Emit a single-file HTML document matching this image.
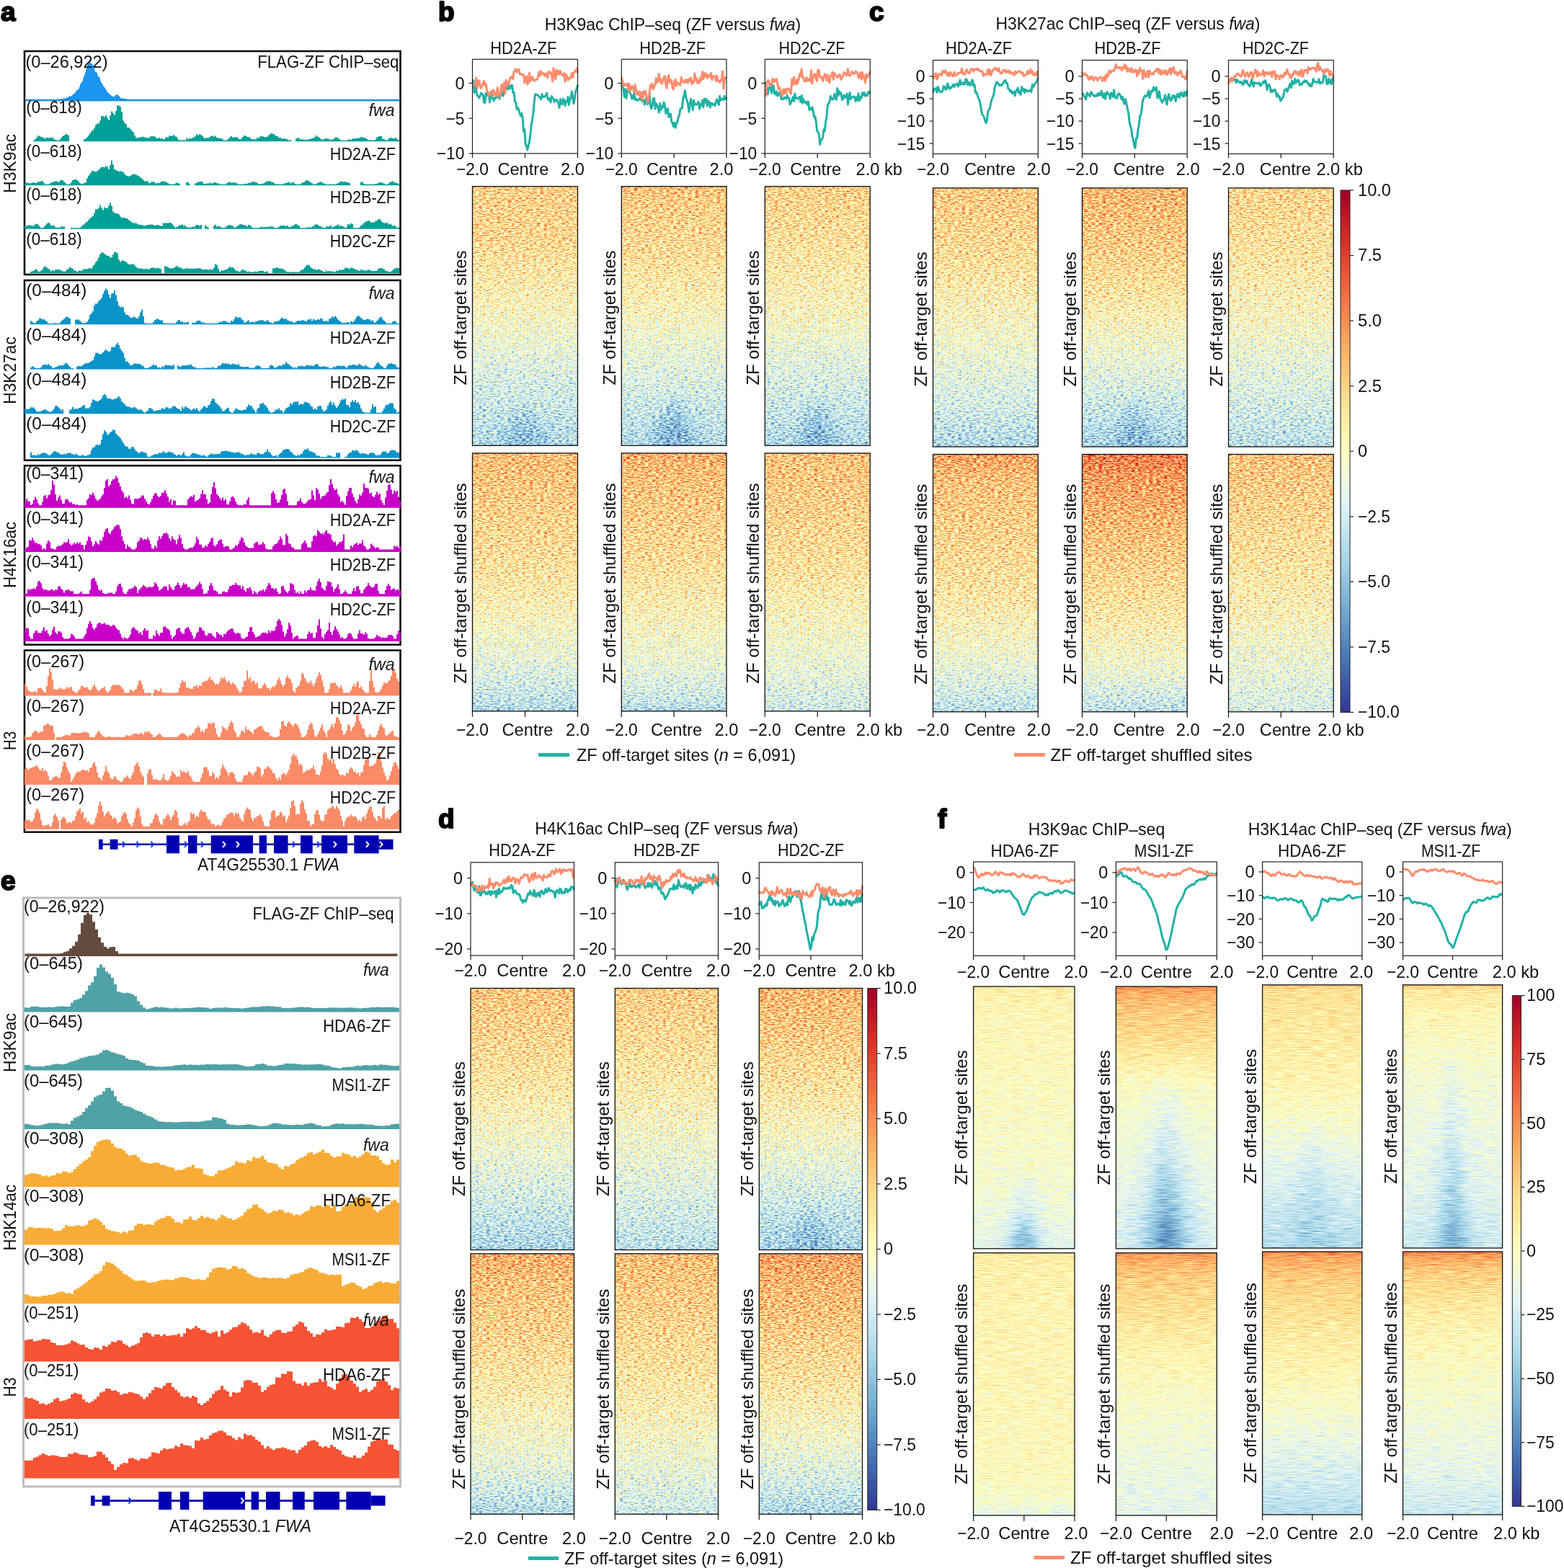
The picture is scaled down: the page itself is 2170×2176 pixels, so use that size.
<!DOCTYPE html>
<html><head><meta charset="utf-8"><title>Figure</title>
<style>html,body{margin:0;padding:0;background:#fff;}svg{display:block;}text{font-family:'Liberation Sans', Arial, sans-serif;}</style>
</head><body><svg width="2170" height="2176" viewBox="0 0 2170 2176" font-family="'Liberation Sans', Arial, sans-serif" fill="#111"><defs><filter id="hmA" x="0" y="0" width="1" height="1" color-interpolation-filters="sRGB">
<feTurbulence type="fractalNoise" baseFrequency="0.2 0.6" numOctaves="2" seed="3" result="n"/>
<feColorMatrix in="n" type="matrix" values="1 0 0 0 0 1 0 0 0 0 1 0 0 0 0 0 0 0 0 1" result="nn"/>
<feComposite in="SourceGraphic" in2="nn" operator="arithmetic" k1="0" k2="1" k3="0.72" k4="-0.360" result="v"/>
<feComponentTransfer in="v"><feFuncR type="table" tableValues="0.192 0.271 0.455 0.671 0.878 1.000 0.996 0.992 0.957 0.843 0.647"/><feFuncG type="table" tableValues="0.212 0.459 0.678 0.851 0.953 1.000 0.878 0.682 0.427 0.188 0.000"/><feFuncB type="table" tableValues="0.584 0.706 0.820 0.914 0.973 0.749 0.565 0.380 0.263 0.153 0.149"/><feFuncA type="linear" slope="0" intercept="1"/></feComponentTransfer>
</filter><filter id="hmF" x="0" y="0" width="1" height="1" color-interpolation-filters="sRGB">
<feTurbulence type="fractalNoise" baseFrequency="0.05 0.9" numOctaves="2" seed="5" result="n"/>
<feColorMatrix in="n" type="matrix" values="1 0 0 0 0 1 0 0 0 0 1 0 0 0 0 0 0 0 0 1" result="nn"/>
<feComposite in="SourceGraphic" in2="nn" operator="arithmetic" k1="0" k2="1" k3="0.32" k4="-0.160" result="v"/>
<feComponentTransfer in="v"><feFuncR type="table" tableValues="0.192 0.271 0.455 0.671 0.878 1.000 0.996 0.992 0.957 0.843 0.647"/><feFuncG type="table" tableValues="0.212 0.459 0.678 0.851 0.953 1.000 0.878 0.682 0.427 0.188 0.000"/><feFuncB type="table" tableValues="0.584 0.706 0.820 0.914 0.973 0.749 0.565 0.380 0.263 0.153 0.149"/><feFuncA type="linear" slope="0" intercept="1"/></feComponentTransfer>
</filter><filter id="blur6" x="-50%" y="-50%" width="200%" height="200%"><feGaussianBlur stdDeviation="6"/></filter><filter id="blur3" x="-50%" y="-50%" width="200%" height="200%"><feGaussianBlur stdDeviation="3"/></filter><filter id="blur4" x="-50%" y="-50%" width="200%" height="200%"><feGaussianBlur stdDeviation="4"/></filter><filter id="blur6" x="-50%" y="-50%" width="200%" height="200%"><feGaussianBlur stdDeviation="6"/></filter><filter id="blur8" x="-50%" y="-50%" width="200%" height="200%"><feGaussianBlur stdDeviation="8"/></filter><filter id="blur10" x="-50%" y="-50%" width="200%" height="200%"><feGaussianBlur stdDeviation="10"/></filter><filter id="blur14" x="-50%" y="-50%" width="200%" height="200%"><feGaussianBlur stdDeviation="14"/></filter><linearGradient id="hg1" x1="0" y1="0" x2="0" y2="1"><stop offset="0.000" stop-color="rgb(158,158,158)"/><stop offset="0.200" stop-color="rgb(154,154,154)"/><stop offset="0.300" stop-color="rgb(145,145,145)"/><stop offset="0.500" stop-color="rgb(129,129,129)"/><stop offset="0.700" stop-color="rgb(105,105,105)"/><stop offset="0.850" stop-color="rgb(93,93,93)"/><stop offset="1.000" stop-color="rgb(80,80,80)"/></linearGradient><clipPath id="hc1"><rect x="655.5" y="258.7" width="146.0" height="359.59999999999997"/></clipPath><linearGradient id="hg2" x1="0" y1="0" x2="0" y2="1"><stop offset="0.000" stop-color="rgb(168,168,168)"/><stop offset="0.100" stop-color="rgb(164,164,164)"/><stop offset="0.250" stop-color="rgb(156,156,156)"/><stop offset="0.450" stop-color="rgb(146,146,146)"/><stop offset="0.650" stop-color="rgb(129,129,129)"/><stop offset="0.800" stop-color="rgb(112,112,112)"/><stop offset="0.950" stop-color="rgb(90,90,90)"/><stop offset="1.000" stop-color="rgb(80,80,80)"/></linearGradient><clipPath id="hc2"><rect x="655.5" y="628.9" width="146.0" height="358.0"/></clipPath><linearGradient id="hg3" x1="0" y1="0" x2="0" y2="1"><stop offset="0.000" stop-color="rgb(166,166,166)"/><stop offset="0.050" stop-color="rgb(160,160,160)"/><stop offset="0.250" stop-color="rgb(150,150,150)"/><stop offset="0.450" stop-color="rgb(134,134,134)"/><stop offset="0.600" stop-color="rgb(117,117,117)"/><stop offset="0.800" stop-color="rgb(99,99,99)"/><stop offset="1.000" stop-color="rgb(80,80,80)"/></linearGradient><clipPath id="hc3"><rect x="862.3" y="258.7" width="145.70000000000005" height="359.59999999999997"/></clipPath><linearGradient id="hg4" x1="0" y1="0" x2="0" y2="1"><stop offset="0.000" stop-color="rgb(177,177,177)"/><stop offset="0.050" stop-color="rgb(170,170,170)"/><stop offset="0.200" stop-color="rgb(161,161,161)"/><stop offset="0.400" stop-color="rgb(151,151,151)"/><stop offset="0.600" stop-color="rgb(135,135,135)"/><stop offset="0.800" stop-color="rgb(117,117,117)"/><stop offset="0.950" stop-color="rgb(95,95,95)"/><stop offset="1.000" stop-color="rgb(80,80,80)"/></linearGradient><clipPath id="hc4"><rect x="862.3" y="628.9" width="145.70000000000005" height="358.0"/></clipPath><linearGradient id="hg5" x1="0" y1="0" x2="0" y2="1"><stop offset="0.000" stop-color="rgb(158,158,158)"/><stop offset="0.250" stop-color="rgb(145,145,145)"/><stop offset="0.500" stop-color="rgb(129,129,129)"/><stop offset="0.650" stop-color="rgb(111,111,111)"/><stop offset="0.850" stop-color="rgb(93,93,93)"/><stop offset="1.000" stop-color="rgb(80,80,80)"/></linearGradient><clipPath id="hc5"><rect x="1061.3" y="258.7" width="145.9000000000001" height="359.59999999999997"/></clipPath><linearGradient id="hg6" x1="0" y1="0" x2="0" y2="1"><stop offset="0.000" stop-color="rgb(166,166,166)"/><stop offset="0.250" stop-color="rgb(156,156,156)"/><stop offset="0.450" stop-color="rgb(146,146,146)"/><stop offset="0.650" stop-color="rgb(129,129,129)"/><stop offset="0.850" stop-color="rgb(112,112,112)"/><stop offset="1.000" stop-color="rgb(95,95,95)"/></linearGradient><clipPath id="hc6"><rect x="1061.3" y="628.9" width="145.9000000000001" height="358.0"/></clipPath><linearGradient id="hg7" x1="0" y1="0" x2="0" y2="1"><stop offset="0.000" stop-color="rgb(162,162,162)"/><stop offset="0.250" stop-color="rgb(150,150,150)"/><stop offset="0.450" stop-color="rgb(134,134,134)"/><stop offset="0.650" stop-color="rgb(116,116,116)"/><stop offset="0.850" stop-color="rgb(98,98,98)"/><stop offset="1.000" stop-color="rgb(80,80,80)"/></linearGradient><clipPath id="hc7"><rect x="1294.5" y="260.9" width="145.79999999999995" height="359.1"/></clipPath><linearGradient id="hg8" x1="0" y1="0" x2="0" y2="1"><stop offset="0.000" stop-color="rgb(183,183,183)"/><stop offset="0.030" stop-color="rgb(177,177,177)"/><stop offset="0.100" stop-color="rgb(166,166,166)"/><stop offset="0.300" stop-color="rgb(156,156,156)"/><stop offset="0.500" stop-color="rgb(146,146,146)"/><stop offset="0.700" stop-color="rgb(129,129,129)"/><stop offset="0.880" stop-color="rgb(106,106,106)"/><stop offset="1.000" stop-color="rgb(85,85,85)"/></linearGradient><clipPath id="hc8"><rect x="1294.5" y="630.5" width="145.79999999999995" height="357.29999999999995"/></clipPath><linearGradient id="hg9" x1="0" y1="0" x2="0" y2="1"><stop offset="0.000" stop-color="rgb(172,172,172)"/><stop offset="0.200" stop-color="rgb(161,161,161)"/><stop offset="0.400" stop-color="rgb(145,145,145)"/><stop offset="0.600" stop-color="rgb(122,122,122)"/><stop offset="0.800" stop-color="rgb(99,99,99)"/><stop offset="1.000" stop-color="rgb(75,75,75)"/></linearGradient><clipPath id="hc9"><rect x="1501.5" y="260.9" width="145.70000000000005" height="359.1"/></clipPath><linearGradient id="hg10" x1="0" y1="0" x2="0" y2="1"><stop offset="0.000" stop-color="rgb(199,199,199)"/><stop offset="0.100" stop-color="rgb(183,183,183)"/><stop offset="0.250" stop-color="rgb(171,171,171)"/><stop offset="0.450" stop-color="rgb(156,156,156)"/><stop offset="0.650" stop-color="rgb(139,139,139)"/><stop offset="0.850" stop-color="rgb(117,117,117)"/><stop offset="1.000" stop-color="rgb(85,85,85)"/></linearGradient><clipPath id="hc10"><rect x="1501.5" y="630.5" width="145.70000000000005" height="357.29999999999995"/></clipPath><linearGradient id="hg11" x1="0" y1="0" x2="0" y2="1"><stop offset="0.000" stop-color="rgb(156,156,156)"/><stop offset="0.250" stop-color="rgb(145,145,145)"/><stop offset="0.500" stop-color="rgb(129,129,129)"/><stop offset="0.700" stop-color="rgb(110,110,110)"/><stop offset="0.850" stop-color="rgb(98,98,98)"/><stop offset="1.000" stop-color="rgb(85,85,85)"/></linearGradient><clipPath id="hc11"><rect x="1704.5" y="260.9" width="145.70000000000005" height="359.1"/></clipPath><linearGradient id="hg12" x1="0" y1="0" x2="0" y2="1"><stop offset="0.000" stop-color="rgb(166,166,166)"/><stop offset="0.200" stop-color="rgb(156,156,156)"/><stop offset="0.400" stop-color="rgb(146,146,146)"/><stop offset="0.600" stop-color="rgb(135,135,135)"/><stop offset="0.800" stop-color="rgb(117,117,117)"/><stop offset="1.000" stop-color="rgb(100,100,100)"/></linearGradient><clipPath id="hc12"><rect x="1704.5" y="630.5" width="145.70000000000005" height="357.29999999999995"/></clipPath><linearGradient id="cb13" x1="0" y1="0" x2="0" y2="1"><stop offset="0.00" stop-color="#a50026"/><stop offset="0.10" stop-color="#d73027"/><stop offset="0.20" stop-color="#f46d43"/><stop offset="0.30" stop-color="#fdae61"/><stop offset="0.40" stop-color="#fee090"/><stop offset="0.50" stop-color="#ffffbf"/><stop offset="0.60" stop-color="#e0f3f8"/><stop offset="0.70" stop-color="#abd9e9"/><stop offset="0.80" stop-color="#74add1"/><stop offset="0.90" stop-color="#4575b4"/><stop offset="1.00" stop-color="#313695"/></linearGradient><linearGradient id="hg14" x1="0" y1="0" x2="0" y2="1"><stop offset="0.000" stop-color="rgb(164,164,164)"/><stop offset="0.200" stop-color="rgb(154,154,154)"/><stop offset="0.400" stop-color="rgb(140,140,140)"/><stop offset="0.600" stop-color="rgb(120,120,120)"/><stop offset="0.800" stop-color="rgb(99,99,99)"/><stop offset="1.000" stop-color="rgb(77,77,77)"/></linearGradient><clipPath id="hc14"><rect x="653" y="1371.5" width="143.5" height="363.0"/></clipPath><linearGradient id="hg15" x1="0" y1="0" x2="0" y2="1"><stop offset="0.000" stop-color="rgb(177,177,177)"/><stop offset="0.100" stop-color="rgb(166,166,166)"/><stop offset="0.300" stop-color="rgb(156,156,156)"/><stop offset="0.500" stop-color="rgb(141,141,141)"/><stop offset="0.700" stop-color="rgb(124,124,124)"/><stop offset="0.850" stop-color="rgb(107,107,107)"/><stop offset="1.000" stop-color="rgb(80,80,80)"/></linearGradient><clipPath id="hc15"><rect x="653" y="1739.8" width="143.5" height="361.5000000000002"/></clipPath><linearGradient id="hg16" x1="0" y1="0" x2="0" y2="1"><stop offset="0.000" stop-color="rgb(160,160,160)"/><stop offset="0.200" stop-color="rgb(150,150,150)"/><stop offset="0.400" stop-color="rgb(137,137,137)"/><stop offset="0.600" stop-color="rgb(120,120,120)"/><stop offset="0.800" stop-color="rgb(103,103,103)"/><stop offset="1.000" stop-color="rgb(85,85,85)"/></linearGradient><clipPath id="hc16"><rect x="853.3" y="1371.5" width="143.20000000000005" height="363.0"/></clipPath><linearGradient id="hg17" x1="0" y1="0" x2="0" y2="1"><stop offset="0.000" stop-color="rgb(168,168,168)"/><stop offset="0.200" stop-color="rgb(158,158,158)"/><stop offset="0.400" stop-color="rgb(148,148,148)"/><stop offset="0.600" stop-color="rgb(135,135,135)"/><stop offset="0.800" stop-color="rgb(117,117,117)"/><stop offset="1.000" stop-color="rgb(94,94,94)"/></linearGradient><clipPath id="hc17"><rect x="853.3" y="1739.8" width="143.20000000000005" height="361.5000000000002"/></clipPath><linearGradient id="hg18" x1="0" y1="0" x2="0" y2="1"><stop offset="0.000" stop-color="rgb(172,172,172)"/><stop offset="0.200" stop-color="rgb(159,159,159)"/><stop offset="0.400" stop-color="rgb(143,143,143)"/><stop offset="0.600" stop-color="rgb(122,122,122)"/><stop offset="0.800" stop-color="rgb(97,97,97)"/><stop offset="1.000" stop-color="rgb(75,75,75)"/></linearGradient><clipPath id="hc18"><rect x="1053.3" y="1371.5" width="143.20000000000005" height="363.0"/></clipPath><linearGradient id="hg19" x1="0" y1="0" x2="0" y2="1"><stop offset="0.000" stop-color="rgb(181,181,181)"/><stop offset="0.100" stop-color="rgb(173,173,173)"/><stop offset="0.300" stop-color="rgb(160,160,160)"/><stop offset="0.500" stop-color="rgb(144,144,144)"/><stop offset="0.700" stop-color="rgb(124,124,124)"/><stop offset="0.850" stop-color="rgb(104,104,104)"/><stop offset="1.000" stop-color="rgb(78,78,78)"/></linearGradient><clipPath id="hc19"><rect x="1053.3" y="1739.8" width="143.20000000000005" height="361.5000000000002"/></clipPath><linearGradient id="cb20" x1="0" y1="0" x2="0" y2="1"><stop offset="0.00" stop-color="#a50026"/><stop offset="0.10" stop-color="#d73027"/><stop offset="0.20" stop-color="#f46d43"/><stop offset="0.30" stop-color="#fdae61"/><stop offset="0.40" stop-color="#fee090"/><stop offset="0.50" stop-color="#ffffbf"/><stop offset="0.60" stop-color="#e0f3f8"/><stop offset="0.70" stop-color="#abd9e9"/><stop offset="0.80" stop-color="#74add1"/><stop offset="0.90" stop-color="#4575b4"/><stop offset="1.00" stop-color="#313695"/></linearGradient><linearGradient id="hg21" x1="0" y1="0" x2="0" y2="1"><stop offset="0.000" stop-color="rgb(145,145,145)"/><stop offset="0.020" stop-color="rgb(138,138,138)"/><stop offset="0.100" stop-color="rgb(133,133,133)"/><stop offset="0.300" stop-color="rgb(130,130,130)"/><stop offset="0.500" stop-color="rgb(126,126,126)"/><stop offset="0.700" stop-color="rgb(121,121,121)"/><stop offset="0.850" stop-color="rgb(115,115,115)"/><stop offset="0.950" stop-color="rgb(110,110,110)"/><stop offset="1.000" stop-color="rgb(105,105,105)"/></linearGradient><clipPath id="hc21"><rect x="1350.6" y="1369" width="140.4000000000001" height="363.79999999999995"/></clipPath><linearGradient id="hg22" x1="0" y1="0" x2="0" y2="1"><stop offset="0.000" stop-color="rgb(145,145,145)"/><stop offset="0.050" stop-color="rgb(139,139,139)"/><stop offset="0.200" stop-color="rgb(135,135,135)"/><stop offset="0.500" stop-color="rgb(133,133,133)"/><stop offset="0.850" stop-color="rgb(129,129,129)"/><stop offset="0.950" stop-color="rgb(121,121,121)"/><stop offset="1.000" stop-color="rgb(108,108,108)"/></linearGradient><clipPath id="hc22"><rect x="1350.6" y="1738.7" width="140.4000000000001" height="364.29999999999995"/></clipPath><linearGradient id="hg23" x1="0" y1="0" x2="0" y2="1"><stop offset="0.000" stop-color="rgb(191,191,191)"/><stop offset="0.030" stop-color="rgb(176,176,176)"/><stop offset="0.100" stop-color="rgb(163,163,163)"/><stop offset="0.200" stop-color="rgb(153,153,153)"/><stop offset="0.300" stop-color="rgb(138,138,138)"/><stop offset="0.400" stop-color="rgb(125,125,125)"/><stop offset="0.600" stop-color="rgb(115,115,115)"/><stop offset="0.800" stop-color="rgb(108,108,108)"/><stop offset="1.000" stop-color="rgb(99,99,99)"/></linearGradient><clipPath id="hc23"><rect x="1548.4" y="1369" width="139.89999999999986" height="363.79999999999995"/></clipPath><linearGradient id="hg24" x1="0" y1="0" x2="0" y2="1"><stop offset="0.000" stop-color="rgb(189,189,189)"/><stop offset="0.030" stop-color="rgb(176,176,176)"/><stop offset="0.100" stop-color="rgb(161,161,161)"/><stop offset="0.250" stop-color="rgb(147,147,147)"/><stop offset="0.400" stop-color="rgb(134,134,134)"/><stop offset="0.600" stop-color="rgb(122,122,122)"/><stop offset="0.800" stop-color="rgb(113,113,113)"/><stop offset="1.000" stop-color="rgb(107,107,107)"/></linearGradient><clipPath id="hc24"><rect x="1548.4" y="1738.7" width="139.89999999999986" height="364.29999999999995"/></clipPath><linearGradient id="hg25" x1="0" y1="0" x2="0" y2="1"><stop offset="0.000" stop-color="rgb(166,166,166)"/><stop offset="0.020" stop-color="rgb(150,150,150)"/><stop offset="0.200" stop-color="rgb(143,143,143)"/><stop offset="0.350" stop-color="rgb(136,136,136)"/><stop offset="0.500" stop-color="rgb(125,125,125)"/><stop offset="0.650" stop-color="rgb(110,110,110)"/><stop offset="0.800" stop-color="rgb(97,97,97)"/><stop offset="1.000" stop-color="rgb(82,82,82)"/></linearGradient><clipPath id="hc25"><rect x="1751.6" y="1366.8" width="138.20000000000005" height="365.20000000000005"/></clipPath><linearGradient id="hg26" x1="0" y1="0" x2="0" y2="1"><stop offset="0.000" stop-color="rgb(198,198,198)"/><stop offset="0.020" stop-color="rgb(181,181,181)"/><stop offset="0.100" stop-color="rgb(162,162,162)"/><stop offset="0.300" stop-color="rgb(144,144,144)"/><stop offset="0.500" stop-color="rgb(131,131,131)"/><stop offset="0.650" stop-color="rgb(117,117,117)"/><stop offset="0.850" stop-color="rgb(99,99,99)"/><stop offset="1.000" stop-color="rgb(82,82,82)"/></linearGradient><clipPath id="hc26"><rect x="1751.6" y="1737" width="138.20000000000005" height="365"/></clipPath><linearGradient id="hg27" x1="0" y1="0" x2="0" y2="1"><stop offset="0.000" stop-color="rgb(166,166,166)"/><stop offset="0.020" stop-color="rgb(145,145,145)"/><stop offset="0.100" stop-color="rgb(135,135,135)"/><stop offset="0.250" stop-color="rgb(124,124,124)"/><stop offset="0.400" stop-color="rgb(117,117,117)"/><stop offset="0.600" stop-color="rgb(111,111,111)"/><stop offset="0.800" stop-color="rgb(105,105,105)"/><stop offset="1.000" stop-color="rgb(92,92,92)"/></linearGradient><clipPath id="hc27"><rect x="1946.5" y="1366.8" width="138.0999999999999" height="365.20000000000005"/></clipPath><linearGradient id="hg28" x1="0" y1="0" x2="0" y2="1"><stop offset="0.000" stop-color="rgb(198,198,198)"/><stop offset="0.020" stop-color="rgb(181,181,181)"/><stop offset="0.080" stop-color="rgb(161,161,161)"/><stop offset="0.250" stop-color="rgb(139,139,139)"/><stop offset="0.450" stop-color="rgb(126,126,126)"/><stop offset="0.650" stop-color="rgb(116,116,116)"/><stop offset="0.850" stop-color="rgb(107,107,107)"/><stop offset="1.000" stop-color="rgb(92,92,92)"/></linearGradient><clipPath id="hc28"><rect x="1946.5" y="1737" width="138.0999999999999" height="365"/></clipPath><linearGradient id="cb29" x1="0" y1="0" x2="0" y2="1"><stop offset="0.00" stop-color="#a50026"/><stop offset="0.10" stop-color="#d73027"/><stop offset="0.20" stop-color="#f46d43"/><stop offset="0.30" stop-color="#fdae61"/><stop offset="0.40" stop-color="#fee090"/><stop offset="0.50" stop-color="#ffffbf"/><stop offset="0.60" stop-color="#e0f3f8"/><stop offset="0.70" stop-color="#abd9e9"/><stop offset="0.80" stop-color="#74add1"/><stop offset="0.90" stop-color="#4575b4"/><stop offset="1.00" stop-color="#313695"/></linearGradient></defs><rect width="2170" height="2176" fill="#fff"/><text x="1" y="28.6" font-size="37" font-weight="bold" fill="#000" stroke="#000" stroke-width="2" stroke-linejoin="round">a</text><text x="608" y="28.6" font-size="37" font-weight="bold" fill="#000" stroke="#000" stroke-width="2" stroke-linejoin="round">b</text><text x="1206" y="28.6" font-size="37" font-weight="bold" fill="#000" stroke="#000" stroke-width="2" stroke-linejoin="round">c</text><text x="608" y="1148.6" font-size="37" font-weight="bold" fill="#000" stroke="#000" stroke-width="2" stroke-linejoin="round">d</text><text x="1" y="1234.6" font-size="37" font-weight="bold" fill="#000" stroke="#000" stroke-width="2" stroke-linejoin="round">e</text><text x="1301" y="1148.6" font-size="37" font-weight="bold" fill="#000" stroke="#000" stroke-width="2" stroke-linejoin="round">f</text><text x="933.5" y="41.7" font-size="24" text-anchor="middle" textLength="355.5" lengthAdjust="spacingAndGlyphs">H3K9ac ChIP–seq (ZF versus <tspan font-style="italic">fwa</tspan>)</text><text x="1565.0" y="40.5" font-size="24" text-anchor="middle" textLength="366.9" lengthAdjust="spacingAndGlyphs">H3K27ac ChIP–seq (ZF versus <tspan font-style="italic">fwa</tspan>)</text><text x="726.3" y="75.0" font-size="24" text-anchor="middle" textLength="92.0" lengthAdjust="spacingAndGlyphs">HD2A-ZF</text><text x="933.2" y="75.0" font-size="24" text-anchor="middle" textLength="92.0" lengthAdjust="spacingAndGlyphs">HD2B-ZF</text><text x="1126.5" y="75.0" font-size="24" text-anchor="middle" textLength="92.0" lengthAdjust="spacingAndGlyphs">HD2C-ZF</text><text x="1358.0" y="75.2" font-size="24" text-anchor="middle" textLength="92.0" lengthAdjust="spacingAndGlyphs">HD2A-ZF</text><text x="1564.5" y="75.2" font-size="24" text-anchor="middle" textLength="92.0" lengthAdjust="spacingAndGlyphs">HD2B-ZF</text><text x="1770.0" y="75.2" font-size="24" text-anchor="middle" textLength="92.0" lengthAdjust="spacingAndGlyphs">HD2C-ZF</text><polyline points="655.5,113.9 656.8,111.5 658.2,128.7 659.5,116.1 660.9,126.4 662.2,132.4 663.5,134.0 664.9,136.0 666.2,132.9 667.6,129.0 668.9,130.8 670.2,131.3 671.6,142.2 672.9,142.4 674.3,129.4 675.6,132.7 676.9,128.1 678.3,132.4 679.6,141.9 680.9,131.5 682.3,134.2 683.6,135.7 685.0,140.0 686.3,136.1 687.6,136.5 689.0,131.7 690.3,134.8 691.7,128.1 693.0,137.2 694.3,130.2 695.7,128.5 697.0,132.9 698.4,132.7 699.7,121.5 701.0,122.1 702.4,123.5 703.7,119.6 705.1,123.8 706.4,119.4 707.7,122.6 709.1,118.7 710.4,118.2 711.8,128.6 713.1,128.1 714.4,141.0 715.8,142.4 717.1,151.5 718.5,149.5 719.8,152.3 721.1,157.1 722.5,161.0 723.8,157.5 725.2,163.7 726.5,182.8 727.8,179.7 729.2,199.9 730.5,203.1 731.8,208.2 733.2,201.4 734.5,197.2 735.9,186.4 737.2,173.3 738.5,167.0 739.9,157.1 741.2,141.7 742.6,130.8 743.9,131.5 745.2,131.6 746.6,132.1 747.9,134.4 749.3,135.0 750.6,137.6 751.9,130.6 753.3,134.2 754.6,134.8 756.0,133.6 757.3,132.5 758.6,129.2 760.0,137.4 761.3,138.7 762.7,136.7 764.0,142.0 765.3,133.5 766.7,135.7 768.0,137.4 769.4,141.7 770.7,138.7 772.0,138.0 773.4,140.4 774.7,143.5 776.1,149.4 777.4,137.6 778.7,143.0 780.1,144.9 781.4,137.0 782.7,139.2 784.1,146.6 785.4,140.6 786.8,141.1 788.1,134.3 789.4,145.6 790.8,137.6 792.1,135.2 793.5,127.0 794.8,136.7 796.1,143.5 797.5,135.3 798.8,126.7 800.2,123.0 801.5,117.6" fill="none" stroke="#20b2a5" stroke-width="3" stroke-linejoin="round"/><polyline points="655.5,116.7 656.8,116.9 658.2,118.3 659.5,116.3 660.9,108.2 662.2,122.5 663.5,112.3 664.9,111.9 666.2,120.0 667.6,122.5 668.9,118.4 670.2,116.0 671.6,112.5 672.9,118.7 674.3,116.3 675.6,125.9 676.9,128.3 678.3,132.7 679.6,130.8 680.9,128.0 682.3,126.2 683.6,133.4 685.0,124.7 686.3,129.2 687.6,132.1 689.0,133.2 690.3,121.5 691.7,130.2 693.0,133.7 694.3,132.1 695.7,118.1 697.0,126.9 698.4,117.4 699.7,114.5 701.0,129.2 702.4,111.3 703.7,116.3 705.1,118.6 706.4,114.7 707.7,108.4 709.1,107.6 710.4,105.9 711.8,109.4 713.1,99.1 714.4,97.3 715.8,96.2 717.1,100.2 718.5,96.7 719.8,96.1 721.1,102.6 722.5,102.2 723.8,103.9 725.2,104.3 726.5,103.3 727.8,115.0 729.2,109.1 730.5,105.7 731.8,117.1 733.2,114.3 734.5,101.1 735.9,112.8 737.2,110.3 738.5,106.7 739.9,110.5 741.2,112.3 742.6,110.9 743.9,110.2 745.2,110.5 746.6,106.7 747.9,100.0 749.3,105.0 750.6,99.0 751.9,102.4 753.3,101.6 754.6,102.2 756.0,105.7 757.3,102.0 758.6,102.2 760.0,108.0 761.3,99.5 762.7,99.9 764.0,100.5 765.3,104.2 766.7,112.9 768.0,94.6 769.4,101.0 770.7,109.8 772.0,97.1 773.4,103.6 774.7,98.5 776.1,102.8 777.4,98.3 778.7,103.1 780.1,103.8 781.4,105.3 782.7,101.4 784.1,113.4 785.4,103.5 786.8,106.5 788.1,111.3 789.4,108.1 790.8,109.2 792.1,106.2 793.5,101.5 794.8,107.8 796.1,100.8 797.5,99.1 798.8,99.6 800.2,94.8 801.5,101.1" fill="none" stroke="#fc8d6d" stroke-width="3" stroke-linejoin="round"/><rect x="655.5" y="82.3" width="146.0" height="130.7" fill="none" stroke="#222" stroke-width="1.2"/><line x1="650.5" y1="115.5" x2="655.5" y2="115.5" stroke="#222" stroke-width="1.2"/><text x="644.5" y="123.8" font-size="24" text-anchor="end" textLength="13.1" lengthAdjust="spacingAndGlyphs">0</text><line x1="650.5" y1="164.2" x2="655.5" y2="164.2" stroke="#222" stroke-width="1.2"/><text x="644.5" y="172.5" font-size="24" text-anchor="end" textLength="26.0" lengthAdjust="spacingAndGlyphs">−5</text><line x1="650.5" y1="213.0" x2="655.5" y2="213.0" stroke="#222" stroke-width="1.2"/><text x="644.5" y="221.3" font-size="24" text-anchor="end" textLength="38.7" lengthAdjust="spacingAndGlyphs">−10</text><line x1="655.5" y1="213.0" x2="655.5" y2="219.0" stroke="#222" stroke-width="1.3"/><line x1="728.5" y1="213.0" x2="728.5" y2="219.0" stroke="#222" stroke-width="1.3"/><line x1="801.5" y1="213.0" x2="801.5" y2="219.0" stroke="#222" stroke-width="1.3"/><text x="655.5" y="242.5" font-size="24" text-anchor="middle" textLength="45.0" lengthAdjust="spacingAndGlyphs">−2.0</text><text x="725.9" y="242.5" font-size="24" text-anchor="middle" textLength="71.0" lengthAdjust="spacingAndGlyphs">Centre</text><text x="794.5" y="242.5" font-size="24" text-anchor="middle" textLength="32.9" lengthAdjust="spacingAndGlyphs">2.0</text><polyline points="862.3,117.9 863.6,120.7 865.0,123.3 866.3,134.5 867.6,123.8 869.0,136.4 870.3,124.4 871.7,127.1 873.0,127.4 874.3,128.8 875.7,132.5 877.0,137.3 878.3,136.6 879.7,128.9 881.0,138.4 882.4,137.1 883.7,139.5 885.0,138.9 886.4,138.2 887.7,136.0 889.0,138.7 890.4,139.2 891.7,140.7 893.0,138.3 894.4,145.2 895.7,139.7 897.1,134.8 898.4,144.5 899.7,142.0 901.1,130.0 902.4,147.4 903.7,150.8 905.1,146.2 906.4,136.9 907.7,136.4 909.1,151.1 910.4,143.7 911.8,146.6 913.1,149.7 914.4,156.1 915.8,143.5 917.1,152.2 918.4,147.6 919.8,149.0 921.1,141.9 922.5,146.2 923.8,157.7 925.1,155.1 926.5,150.7 927.8,162.4 929.1,159.5 930.5,158.1 931.8,168.9 933.1,170.5 934.5,175.8 935.8,170.2 937.2,177.2 938.5,171.2 939.8,169.6 941.2,162.5 942.5,160.2 943.8,151.4 945.2,150.6 946.5,150.0 947.8,136.0 949.2,132.5 950.5,125.5 951.9,136.7 953.2,139.4 954.5,143.9 955.9,155.2 957.2,144.7 958.5,137.6 959.9,144.3 961.2,152.5 962.6,139.2 963.9,145.2 965.2,144.5 966.6,145.0 967.9,143.8 969.2,141.4 970.6,151.2 971.9,144.8 973.2,146.2 974.6,139.2 975.9,148.9 977.3,137.3 978.6,142.0 979.9,137.2 981.3,147.0 982.6,139.9 983.9,141.4 985.3,149.1 986.6,143.3 987.9,143.7 989.3,145.5 990.6,144.2 992.0,146.7 993.3,141.9 994.6,138.0 996.0,142.4 997.3,145.4 998.6,133.5 1000.0,139.3 1001.3,137.1 1002.7,137.8 1004.0,138.7 1005.3,133.2 1006.7,137.7 1008.0,134.8" fill="none" stroke="#20b2a5" stroke-width="3" stroke-linejoin="round"/><polyline points="862.3,106.6 863.6,112.0 865.0,119.6 866.3,116.3 867.6,118.0 869.0,118.5 870.3,115.8 871.7,125.0 873.0,116.2 874.3,126.3 875.7,123.2 877.0,119.4 878.3,121.1 879.7,127.8 881.0,117.7 882.4,124.6 883.7,131.1 885.0,127.4 886.4,132.0 887.7,127.2 889.0,135.7 890.4,128.4 891.7,138.9 893.0,126.7 894.4,130.7 895.7,126.3 897.1,135.7 898.4,142.1 899.7,137.3 901.1,130.0 902.4,118.0 903.7,121.8 905.1,116.2 906.4,123.6 907.7,120.1 909.1,117.3 910.4,108.7 911.8,114.4 913.1,111.2 914.4,102.6 915.8,113.8 917.1,110.3 918.4,116.2 919.8,111.5 921.1,107.0 922.5,105.6 923.8,117.1 925.1,122.3 926.5,109.0 927.8,104.2 929.1,114.8 930.5,110.7 931.8,112.0 933.1,121.7 934.5,124.2 935.8,112.8 937.2,110.4 938.5,119.2 939.8,114.0 941.2,116.0 942.5,116.8 943.8,118.2 945.2,107.4 946.5,112.5 947.8,113.6 949.2,114.7 950.5,110.7 951.9,114.2 953.2,110.9 954.5,114.7 955.9,109.4 957.2,112.0 958.5,107.8 959.9,116.8 961.2,113.1 962.6,114.7 963.9,102.1 965.2,111.3 966.6,108.6 967.9,115.5 969.2,111.8 970.6,114.8 971.9,107.4 973.2,110.9 974.6,99.6 975.9,109.8 977.3,101.2 978.6,105.9 979.9,102.6 981.3,108.6 982.6,104.4 983.9,104.5 985.3,106.9 986.6,101.1 987.9,110.8 989.3,105.7 990.6,106.5 992.0,106.0 993.3,112.1 994.6,104.9 996.0,112.5 997.3,111.9 998.6,114.2 1000.0,112.3 1001.3,109.5 1002.7,98.8 1004.0,123.5 1005.3,108.2 1006.7,108.7 1008.0,106.5" fill="none" stroke="#fc8d6d" stroke-width="3" stroke-linejoin="round"/><rect x="862.3" y="82.3" width="145.7" height="130.7" fill="none" stroke="#222" stroke-width="1.2"/><line x1="857.3" y1="115.5" x2="862.3" y2="115.5" stroke="#222" stroke-width="1.2"/><text x="851.3" y="123.8" font-size="24" text-anchor="end" textLength="13.1" lengthAdjust="spacingAndGlyphs">0</text><line x1="857.3" y1="164.2" x2="862.3" y2="164.2" stroke="#222" stroke-width="1.2"/><text x="851.3" y="172.5" font-size="24" text-anchor="end" textLength="26.0" lengthAdjust="spacingAndGlyphs">−5</text><line x1="857.3" y1="213.0" x2="862.3" y2="213.0" stroke="#222" stroke-width="1.2"/><text x="851.3" y="221.3" font-size="24" text-anchor="end" textLength="38.7" lengthAdjust="spacingAndGlyphs">−10</text><line x1="862.3" y1="213.0" x2="862.3" y2="219.0" stroke="#222" stroke-width="1.3"/><line x1="935.1" y1="213.0" x2="935.1" y2="219.0" stroke="#222" stroke-width="1.3"/><line x1="1008.0" y1="213.0" x2="1008.0" y2="219.0" stroke="#222" stroke-width="1.3"/><text x="862.3" y="242.5" font-size="24" text-anchor="middle" textLength="45.0" lengthAdjust="spacingAndGlyphs">−2.0</text><text x="932.5" y="242.5" font-size="24" text-anchor="middle" textLength="71.0" lengthAdjust="spacingAndGlyphs">Centre</text><text x="1001.0" y="242.5" font-size="24" text-anchor="middle" textLength="32.9" lengthAdjust="spacingAndGlyphs">2.0</text><polyline points="1061.3,113.9 1062.6,117.3 1064.0,121.4 1065.3,130.8 1066.7,122.5 1068.0,120.3 1069.3,121.1 1070.7,129.0 1072.0,117.7 1073.3,119.9 1074.7,130.3 1076.0,130.9 1077.4,126.9 1078.7,133.1 1080.0,131.9 1081.4,128.4 1082.7,129.4 1084.1,137.4 1085.4,137.2 1086.7,137.7 1088.1,135.5 1089.4,135.2 1090.7,137.4 1092.1,132.4 1093.4,135.7 1094.8,135.9 1096.1,144.8 1097.4,142.3 1098.8,139.4 1100.1,134.9 1101.5,140.4 1102.8,129.9 1104.1,136.2 1105.5,135.9 1106.8,137.0 1108.1,135.8 1109.5,134.3 1110.8,141.3 1112.2,132.4 1113.5,143.2 1114.8,137.9 1116.2,141.5 1117.5,142.8 1118.9,141.2 1120.2,145.3 1121.5,141.2 1122.9,152.6 1124.2,150.2 1125.5,152.1 1126.9,148.9 1128.2,154.7 1129.6,162.3 1130.9,161.6 1132.2,168.8 1133.6,181.4 1134.9,183.2 1136.3,186.0 1137.6,200.4 1138.9,195.0 1140.3,193.4 1141.6,191.0 1143.0,179.5 1144.3,181.7 1145.6,169.2 1147.0,161.8 1148.3,146.1 1149.6,143.8 1151.0,141.8 1152.3,133.6 1153.7,137.1 1155.0,138.2 1156.3,137.6 1157.7,130.4 1159.0,134.2 1160.4,138.3 1161.7,122.7 1163.0,132.8 1164.4,126.6 1165.7,130.4 1167.0,129.0 1168.4,138.8 1169.7,137.5 1171.1,132.1 1172.4,135.3 1173.7,134.6 1175.1,130.2 1176.4,145.1 1177.8,136.4 1179.1,128.4 1180.4,137.3 1181.8,135.3 1183.1,134.0 1184.4,134.4 1185.8,134.6 1187.1,140.3 1188.5,134.9 1189.8,139.2 1191.1,129.8 1192.5,139.7 1193.8,134.8 1195.2,135.8 1196.5,128.8 1197.8,132.2 1199.2,128.5 1200.5,133.1 1201.8,131.2 1203.2,132.6 1204.5,128.1 1205.9,127.5 1207.2,130.2" fill="none" stroke="#20b2a5" stroke-width="3" stroke-linejoin="round"/><polyline points="1061.3,128.8 1062.6,133.0 1064.0,114.0 1065.3,111.6 1066.7,112.0 1068.0,119.1 1069.3,116.9 1070.7,117.2 1072.0,109.3 1073.3,110.9 1074.7,113.8 1076.0,110.6 1077.4,109.5 1078.7,115.6 1080.0,123.8 1081.4,121.2 1082.7,124.5 1084.1,130.6 1085.4,133.1 1086.7,124.0 1088.1,129.7 1089.4,123.8 1090.7,129.7 1092.1,123.1 1093.4,123.2 1094.8,123.5 1096.1,128.6 1097.4,130.4 1098.8,110.1 1100.1,117.9 1101.5,106.7 1102.8,114.9 1104.1,117.1 1105.5,110.5 1106.8,115.8 1108.1,110.0 1109.5,102.8 1110.8,105.9 1112.2,96.0 1113.5,107.8 1114.8,107.8 1116.2,113.1 1117.5,113.0 1118.9,107.5 1120.2,112.5 1121.5,109.8 1122.9,109.5 1124.2,113.1 1125.5,97.6 1126.9,116.2 1128.2,107.0 1129.6,103.3 1130.9,102.7 1132.2,109.5 1133.6,112.2 1134.9,96.8 1136.3,97.9 1137.6,106.9 1138.9,107.4 1140.3,107.1 1141.6,112.5 1143.0,107.7 1144.3,102.7 1145.6,104.2 1147.0,111.8 1148.3,104.1 1149.6,111.2 1151.0,114.6 1152.3,105.5 1153.7,104.0 1155.0,100.1 1156.3,110.3 1157.7,101.6 1159.0,103.7 1160.4,104.9 1161.7,107.7 1163.0,106.8 1164.4,103.2 1165.7,103.8 1167.0,110.5 1168.4,107.6 1169.7,105.2 1171.1,100.2 1172.4,102.0 1173.7,103.8 1175.1,104.4 1176.4,95.7 1177.8,104.4 1179.1,105.4 1180.4,103.5 1181.8,99.4 1183.1,100.6 1184.4,102.6 1185.8,102.3 1187.1,98.8 1188.5,100.0 1189.8,101.7 1191.1,108.3 1192.5,105.1 1193.8,100.6 1195.2,110.3 1196.5,100.4 1197.8,108.0 1199.2,105.7 1200.5,114.7 1201.8,103.0 1203.2,108.0 1204.5,105.5 1205.9,103.2 1207.2,98.3" fill="none" stroke="#fc8d6d" stroke-width="3" stroke-linejoin="round"/><rect x="1061.3" y="82.3" width="145.9" height="130.7" fill="none" stroke="#222" stroke-width="1.2"/><line x1="1056.3" y1="115.5" x2="1061.3" y2="115.5" stroke="#222" stroke-width="1.2"/><text x="1050.3" y="123.8" font-size="24" text-anchor="end" textLength="13.1" lengthAdjust="spacingAndGlyphs">0</text><line x1="1056.3" y1="164.2" x2="1061.3" y2="164.2" stroke="#222" stroke-width="1.2"/><text x="1050.3" y="172.5" font-size="24" text-anchor="end" textLength="26.0" lengthAdjust="spacingAndGlyphs">−5</text><line x1="1056.3" y1="213.0" x2="1061.3" y2="213.0" stroke="#222" stroke-width="1.2"/><text x="1050.3" y="221.3" font-size="24" text-anchor="end" textLength="38.7" lengthAdjust="spacingAndGlyphs">−10</text><line x1="1061.3" y1="213.0" x2="1061.3" y2="219.0" stroke="#222" stroke-width="1.3"/><line x1="1134.2" y1="213.0" x2="1134.2" y2="219.0" stroke="#222" stroke-width="1.3"/><line x1="1207.2" y1="213.0" x2="1207.2" y2="219.0" stroke="#222" stroke-width="1.3"/><text x="1061.3" y="242.5" font-size="24" text-anchor="middle" textLength="45.0" lengthAdjust="spacingAndGlyphs">−2.0</text><text x="1131.7" y="242.5" font-size="24" text-anchor="middle" textLength="71.0" lengthAdjust="spacingAndGlyphs">Centre</text><text x="1187.5" y="242.5" font-size="24" textLength="64.4" lengthAdjust="spacingAndGlyphs">2.0 kb</text><polyline points="1294.5,128.4 1295.8,123.6 1297.2,124.3 1298.5,122.7 1299.9,128.2 1301.2,120.5 1302.5,123.6 1303.9,127.4 1305.2,127.9 1306.5,127.6 1307.9,125.6 1309.2,119.6 1310.6,120.1 1311.9,124.3 1313.2,123.9 1314.6,115.9 1315.9,118.8 1317.2,123.7 1318.6,121.3 1319.9,121.9 1321.3,119.7 1322.6,117.1 1323.9,120.4 1325.3,117.9 1326.6,116.9 1327.9,115.9 1329.3,119.9 1330.6,118.2 1332.0,111.0 1333.3,117.3 1334.6,116.2 1336.0,114.5 1337.3,117.3 1338.6,116.4 1340.0,109.7 1341.3,110.6 1342.7,117.8 1344.0,114.0 1345.3,117.9 1346.7,118.4 1348.0,113.4 1349.3,110.8 1350.7,118.9 1352.0,117.3 1353.4,128.4 1354.7,127.9 1356.0,131.5 1357.4,136.1 1358.7,137.8 1360.0,143.7 1361.4,151.7 1362.7,158.8 1364.1,160.3 1365.4,162.5 1366.7,167.9 1368.1,170.7 1369.4,167.2 1370.7,154.9 1372.1,152.3 1373.4,150.6 1374.8,142.6 1376.1,137.7 1377.4,135.2 1378.8,131.1 1380.1,121.4 1381.4,117.6 1382.8,113.7 1384.1,114.7 1385.5,116.8 1386.8,118.7 1388.1,118.1 1389.5,118.6 1390.8,116.2 1392.1,115.5 1393.5,112.3 1394.8,111.4 1396.2,115.4 1397.5,115.6 1398.8,122.8 1400.2,123.5 1401.5,127.0 1402.8,125.6 1404.2,129.3 1405.5,129.7 1406.9,127.1 1408.2,132.6 1409.5,126.8 1410.9,124.8 1412.2,122.0 1413.5,129.3 1414.9,126.7 1416.2,131.4 1417.6,120.6 1418.9,125.1 1420.2,123.5 1421.6,128.7 1422.9,124.4 1424.2,125.3 1425.6,126.9 1426.9,126.5 1428.3,125.5 1429.6,125.0 1430.9,127.5 1432.3,117.6 1433.6,120.7 1434.9,117.9 1436.3,115.7 1437.6,114.6 1439.0,111.9 1440.3,107.7" fill="none" stroke="#20b2a5" stroke-width="3" stroke-linejoin="round"/><polyline points="1294.5,104.9 1295.8,108.7 1297.2,102.6 1298.5,101.6 1299.9,110.1 1301.2,107.7 1302.5,102.8 1303.9,103.7 1305.2,102.3 1306.5,104.4 1307.9,98.6 1309.2,98.5 1310.6,101.0 1311.9,98.0 1313.2,100.3 1314.6,104.8 1315.9,101.2 1317.2,105.6 1318.6,100.2 1319.9,103.4 1321.3,104.1 1322.6,105.9 1323.9,100.2 1325.3,104.2 1326.6,104.7 1327.9,104.2 1329.3,101.2 1330.6,101.4 1332.0,101.0 1333.3,100.6 1334.6,95.0 1336.0,102.7 1337.3,102.7 1338.6,103.3 1340.0,98.5 1341.3,96.5 1342.7,100.0 1344.0,101.8 1345.3,101.4 1346.7,96.4 1348.0,95.7 1349.3,95.9 1350.7,99.3 1352.0,96.1 1353.4,96.4 1354.7,96.6 1356.0,95.1 1357.4,97.6 1358.7,96.7 1360.0,99.1 1361.4,98.9 1362.7,98.4 1364.1,105.4 1365.4,102.4 1366.7,103.4 1368.1,103.9 1369.4,102.2 1370.7,96.2 1372.1,103.1 1373.4,96.8 1374.8,104.6 1376.1,99.9 1377.4,97.8 1378.8,96.0 1380.1,95.1 1381.4,94.3 1382.8,97.8 1384.1,98.5 1385.5,94.6 1386.8,98.2 1388.1,101.8 1389.5,101.7 1390.8,101.3 1392.1,97.2 1393.5,98.6 1394.8,97.2 1396.2,100.9 1397.5,99.3 1398.8,97.9 1400.2,100.9 1401.5,98.7 1402.8,102.3 1404.2,101.5 1405.5,101.6 1406.9,104.3 1408.2,99.2 1409.5,102.2 1410.9,100.9 1412.2,99.3 1413.5,99.3 1414.9,98.5 1416.2,100.8 1417.6,101.7 1418.9,100.5 1420.2,105.4 1421.6,104.5 1422.9,104.0 1424.2,102.9 1425.6,98.4 1426.9,102.7 1428.3,101.3 1429.6,96.3 1430.9,101.7 1432.3,98.5 1433.6,103.9 1434.9,101.9 1436.3,104.4 1437.6,102.8 1439.0,99.3 1440.3,107.5" fill="none" stroke="#fc8d6d" stroke-width="3" stroke-linejoin="round"/><rect x="1294.5" y="83.5" width="145.8" height="130.0" fill="none" stroke="#222" stroke-width="1.2"/><line x1="1289.5" y1="105.9" x2="1294.5" y2="105.9" stroke="#222" stroke-width="1.2"/><text x="1283.5" y="114.2" font-size="24" text-anchor="end" textLength="13.1" lengthAdjust="spacingAndGlyphs">0</text><line x1="1289.5" y1="137.0" x2="1294.5" y2="137.0" stroke="#222" stroke-width="1.2"/><text x="1283.5" y="145.3" font-size="24" text-anchor="end" textLength="26.0" lengthAdjust="spacingAndGlyphs">−5</text><line x1="1289.5" y1="168.1" x2="1294.5" y2="168.1" stroke="#222" stroke-width="1.2"/><text x="1283.5" y="176.4" font-size="24" text-anchor="end" textLength="38.7" lengthAdjust="spacingAndGlyphs">−10</text><line x1="1289.5" y1="199.2" x2="1294.5" y2="199.2" stroke="#222" stroke-width="1.2"/><text x="1283.5" y="207.5" font-size="24" text-anchor="end" textLength="38.7" lengthAdjust="spacingAndGlyphs">−15</text><line x1="1294.5" y1="213.5" x2="1294.5" y2="219.5" stroke="#222" stroke-width="1.3"/><line x1="1367.4" y1="213.5" x2="1367.4" y2="219.5" stroke="#222" stroke-width="1.3"/><line x1="1440.3" y1="213.5" x2="1440.3" y2="219.5" stroke="#222" stroke-width="1.3"/><text x="1294.5" y="242.5" font-size="24" text-anchor="middle" textLength="45.0" lengthAdjust="spacingAndGlyphs">−2.0</text><text x="1373.4" y="242.5" font-size="24" text-anchor="middle" textLength="71.0" lengthAdjust="spacingAndGlyphs">Centre</text><text x="1441.3" y="242.5" font-size="24" text-anchor="middle" textLength="32.9" lengthAdjust="spacingAndGlyphs">2.0</text><polyline points="1501.5,131.3 1502.8,129.9 1504.2,133.7 1505.5,134.7 1506.8,138.0 1508.2,128.7 1509.5,131.6 1510.9,131.0 1512.2,134.0 1513.5,127.7 1514.9,128.5 1516.2,131.8 1517.5,133.1 1518.9,132.4 1520.2,133.7 1521.6,131.1 1522.9,133.0 1524.2,129.2 1525.6,132.1 1526.9,132.0 1528.2,126.1 1529.6,133.1 1530.9,135.6 1532.2,129.6 1533.6,137.2 1534.9,130.0 1536.3,127.7 1537.6,130.6 1538.9,130.7 1540.3,137.2 1541.6,129.0 1542.9,129.5 1544.3,134.4 1545.6,124.8 1546.9,134.6 1548.3,136.0 1549.6,136.4 1551.0,130.7 1552.3,129.7 1553.6,130.8 1555.0,134.8 1556.3,137.9 1557.6,134.4 1559.0,141.5 1560.3,144.1 1561.7,137.6 1563.0,144.2 1564.3,150.4 1565.7,157.1 1567.0,168.0 1568.3,175.0 1569.7,178.5 1571.0,189.5 1572.3,193.7 1573.7,202.1 1575.0,205.6 1576.4,191.7 1577.7,191.6 1579.0,179.7 1580.4,172.9 1581.7,160.6 1583.0,159.5 1584.4,149.1 1585.7,139.2 1587.0,135.8 1588.4,132.8 1589.7,133.8 1591.1,133.8 1592.4,129.9 1593.7,125.8 1595.1,135.7 1596.4,130.5 1597.7,126.4 1599.1,126.8 1600.4,120.9 1601.8,124.7 1603.1,125.1 1604.4,121.1 1605.8,135.9 1607.1,132.2 1608.4,126.8 1609.8,137.5 1611.1,138.8 1612.4,142.3 1613.8,138.9 1615.1,138.7 1616.5,131.9 1617.8,140.2 1619.1,145.1 1620.5,134.7 1621.8,130.6 1623.1,137.0 1624.5,139.9 1625.8,137.2 1627.1,132.3 1628.5,135.2 1629.8,133.1 1631.2,140.4 1632.5,134.5 1633.8,130.2 1635.2,133.3 1636.5,135.5 1637.8,128.8 1639.2,128.8 1640.5,133.2 1641.9,133.8 1643.2,127.4 1644.5,132.9 1645.9,131.5 1647.2,125.2" fill="none" stroke="#20b2a5" stroke-width="3" stroke-linejoin="round"/><polyline points="1501.5,99.5 1502.8,104.2 1504.2,103.9 1505.5,101.9 1506.8,103.3 1508.2,104.5 1509.5,107.9 1510.9,110.4 1512.2,106.5 1513.5,109.7 1514.9,106.0 1516.2,108.4 1517.5,111.4 1518.9,108.3 1520.2,107.0 1521.6,108.7 1522.9,111.7 1524.2,108.5 1525.6,108.3 1526.9,106.9 1528.2,107.3 1529.6,112.4 1530.9,110.9 1532.2,106.3 1533.6,112.3 1534.9,103.4 1536.3,107.2 1537.6,104.7 1538.9,97.7 1540.3,101.2 1541.6,100.7 1542.9,97.7 1544.3,97.7 1545.6,98.5 1546.9,95.6 1548.3,89.5 1549.6,93.1 1551.0,94.5 1552.3,94.9 1553.6,93.0 1555.0,93.4 1556.3,97.8 1557.6,93.4 1559.0,94.6 1560.3,89.5 1561.7,95.8 1563.0,91.5 1564.3,99.3 1565.7,95.0 1567.0,98.4 1568.3,99.3 1569.7,94.4 1571.0,100.2 1572.3,97.8 1573.7,99.8 1575.0,96.8 1576.4,97.7 1577.7,105.8 1579.0,97.4 1580.4,102.0 1581.7,94.4 1583.0,98.4 1584.4,98.7 1585.7,109.5 1587.0,97.2 1588.4,103.0 1589.7,107.2 1591.1,101.8 1592.4,98.5 1593.7,107.0 1595.1,98.5 1596.4,102.4 1597.7,102.8 1599.1,102.0 1600.4,102.9 1601.8,99.4 1603.1,98.9 1604.4,96.4 1605.8,95.3 1607.1,100.6 1608.4,96.3 1609.8,103.1 1611.1,97.7 1612.4,102.9 1613.8,101.3 1615.1,97.8 1616.5,101.9 1617.8,98.1 1619.1,104.0 1620.5,101.8 1621.8,98.0 1623.1,95.1 1624.5,103.1 1625.8,95.0 1627.1,99.2 1628.5,93.4 1629.8,101.4 1631.2,102.3 1632.5,100.1 1633.8,104.6 1635.2,101.2 1636.5,102.1 1637.8,98.1 1639.2,101.4 1640.5,106.5 1641.9,106.9 1643.2,106.1 1644.5,109.7 1645.9,110.2 1647.2,97.6" fill="none" stroke="#fc8d6d" stroke-width="3" stroke-linejoin="round"/><rect x="1501.5" y="83.5" width="145.7" height="130.0" fill="none" stroke="#222" stroke-width="1.2"/><line x1="1496.5" y1="105.9" x2="1501.5" y2="105.9" stroke="#222" stroke-width="1.2"/><text x="1490.5" y="114.2" font-size="24" text-anchor="end" textLength="13.1" lengthAdjust="spacingAndGlyphs">0</text><line x1="1496.5" y1="137.0" x2="1501.5" y2="137.0" stroke="#222" stroke-width="1.2"/><text x="1490.5" y="145.3" font-size="24" text-anchor="end" textLength="26.0" lengthAdjust="spacingAndGlyphs">−5</text><line x1="1496.5" y1="168.1" x2="1501.5" y2="168.1" stroke="#222" stroke-width="1.2"/><text x="1490.5" y="176.4" font-size="24" text-anchor="end" textLength="38.7" lengthAdjust="spacingAndGlyphs">−10</text><line x1="1496.5" y1="199.2" x2="1501.5" y2="199.2" stroke="#222" stroke-width="1.2"/><text x="1490.5" y="207.5" font-size="24" text-anchor="end" textLength="38.7" lengthAdjust="spacingAndGlyphs">−15</text><line x1="1501.5" y1="213.5" x2="1501.5" y2="219.5" stroke="#222" stroke-width="1.3"/><line x1="1574.3" y1="213.5" x2="1574.3" y2="219.5" stroke="#222" stroke-width="1.3"/><line x1="1647.2" y1="213.5" x2="1647.2" y2="219.5" stroke="#222" stroke-width="1.3"/><text x="1501.5" y="242.5" font-size="24" text-anchor="middle" textLength="45.0" lengthAdjust="spacingAndGlyphs">−2.0</text><text x="1580.3" y="242.5" font-size="24" text-anchor="middle" textLength="71.0" lengthAdjust="spacingAndGlyphs">Centre</text><text x="1648.2" y="242.5" font-size="24" text-anchor="middle" textLength="32.9" lengthAdjust="spacingAndGlyphs">2.0</text><polyline points="1704.5,113.5 1705.8,114.0 1707.2,111.7 1708.5,109.5 1709.8,112.6 1711.2,111.3 1712.5,110.5 1713.9,110.0 1715.2,114.9 1716.5,110.7 1717.9,112.2 1719.2,114.0 1720.5,114.5 1721.9,113.4 1723.2,116.1 1724.6,117.8 1725.9,113.4 1727.2,111.4 1728.6,114.9 1729.9,112.1 1731.2,116.0 1732.6,118.1 1733.9,119.9 1735.2,117.6 1736.6,110.3 1737.9,115.4 1739.3,120.2 1740.6,114.3 1741.9,115.4 1743.3,115.5 1744.6,115.8 1745.9,116.3 1747.3,114.6 1748.6,119.2 1749.9,117.9 1751.3,116.1 1752.6,113.4 1754.0,115.1 1755.3,111.5 1756.6,114.3 1758.0,124.6 1759.3,117.9 1760.6,117.2 1762.0,120.3 1763.3,127.8 1764.7,124.6 1766.0,127.4 1767.3,125.1 1768.7,124.1 1770.0,127.1 1771.3,133.8 1772.7,130.2 1774.0,134.7 1775.3,133.8 1776.7,140.0 1778.0,138.1 1779.4,136.0 1780.7,133.7 1782.0,125.5 1783.4,124.5 1784.7,123.2 1786.0,127.2 1787.4,123.4 1788.7,119.6 1790.0,116.2 1791.4,121.7 1792.7,112.2 1794.1,116.7 1795.4,116.2 1796.7,109.5 1798.1,115.0 1799.4,112.5 1800.7,110.8 1802.1,112.4 1803.4,118.0 1804.8,116.8 1806.1,117.3 1807.4,114.2 1808.8,114.3 1810.1,111.7 1811.4,113.5 1812.8,112.0 1814.1,115.4 1815.4,115.7 1816.8,119.4 1818.1,116.5 1819.5,119.6 1820.8,116.8 1822.1,109.4 1823.5,113.1 1824.8,113.5 1826.1,113.8 1827.5,114.9 1828.8,113.4 1830.1,109.8 1831.5,116.1 1832.8,114.6 1834.2,115.3 1835.5,113.3 1836.8,104.1 1838.2,106.4 1839.5,106.0 1840.8,116.3 1842.2,116.6 1843.5,109.3 1844.9,115.1 1846.2,111.2 1847.5,116.5 1848.9,108.6 1850.2,112.5" fill="none" stroke="#20b2a5" stroke-width="3" stroke-linejoin="round"/><polyline points="1704.5,116.8 1705.8,109.7 1707.2,112.6 1708.5,107.8 1709.8,112.0 1711.2,111.1 1712.5,105.7 1713.9,106.4 1715.2,104.2 1716.5,102.2 1717.9,102.3 1719.2,103.9 1720.5,105.7 1721.9,106.1 1723.2,102.0 1724.6,97.4 1725.9,102.8 1727.2,106.5 1728.6,103.3 1729.9,100.3 1731.2,102.2 1732.6,106.7 1733.9,102.7 1735.2,101.1 1736.6,100.2 1737.9,109.0 1739.3,104.1 1740.6,101.2 1741.9,96.8 1743.3,99.1 1744.6,106.2 1745.9,99.8 1747.3,104.1 1748.6,103.2 1749.9,103.9 1751.3,102.0 1752.6,97.7 1754.0,106.1 1755.3,100.4 1756.6,102.9 1758.0,100.7 1759.3,100.6 1760.6,103.6 1762.0,101.3 1763.3,99.6 1764.7,107.0 1766.0,99.5 1767.3,102.5 1768.7,98.9 1770.0,110.1 1771.3,103.9 1772.7,105.3 1774.0,105.9 1775.3,109.9 1776.7,104.8 1778.0,104.8 1779.4,107.3 1780.7,106.5 1782.0,101.0 1783.4,103.8 1784.7,99.9 1786.0,96.2 1787.4,102.7 1788.7,102.7 1790.0,107.4 1791.4,108.6 1792.7,102.9 1794.1,104.1 1795.4,99.6 1796.7,98.3 1798.1,101.9 1799.4,99.9 1800.7,103.5 1802.1,99.5 1803.4,105.5 1804.8,99.0 1806.1,96.7 1807.4,106.4 1808.8,102.3 1810.1,97.3 1811.4,97.7 1812.8,97.5 1814.1,101.7 1815.4,93.4 1816.8,96.5 1818.1,96.7 1819.5,94.5 1820.8,94.7 1822.1,94.1 1823.5,95.5 1824.8,95.3 1826.1,99.3 1827.5,90.2 1828.8,87.5 1830.1,97.6 1831.5,93.0 1832.8,95.4 1834.2,98.4 1835.5,98.3 1836.8,102.9 1838.2,95.9 1839.5,99.4 1840.8,98.1 1842.2,96.2 1843.5,99.6 1844.9,105.0 1846.2,98.8 1847.5,103.5 1848.9,103.8 1850.2,107.3" fill="none" stroke="#fc8d6d" stroke-width="3" stroke-linejoin="round"/><rect x="1704.5" y="83.5" width="145.7" height="130.0" fill="none" stroke="#222" stroke-width="1.2"/><line x1="1699.5" y1="105.9" x2="1704.5" y2="105.9" stroke="#222" stroke-width="1.2"/><text x="1693.5" y="114.2" font-size="24" text-anchor="end" textLength="13.1" lengthAdjust="spacingAndGlyphs">0</text><line x1="1699.5" y1="137.0" x2="1704.5" y2="137.0" stroke="#222" stroke-width="1.2"/><text x="1693.5" y="145.3" font-size="24" text-anchor="end" textLength="26.0" lengthAdjust="spacingAndGlyphs">−5</text><line x1="1699.5" y1="168.1" x2="1704.5" y2="168.1" stroke="#222" stroke-width="1.2"/><text x="1693.5" y="176.4" font-size="24" text-anchor="end" textLength="38.7" lengthAdjust="spacingAndGlyphs">−10</text><line x1="1699.5" y1="199.2" x2="1704.5" y2="199.2" stroke="#222" stroke-width="1.2"/><text x="1693.5" y="207.5" font-size="24" text-anchor="end" textLength="38.7" lengthAdjust="spacingAndGlyphs">−15</text><line x1="1704.5" y1="213.5" x2="1704.5" y2="219.5" stroke="#222" stroke-width="1.3"/><line x1="1777.3" y1="213.5" x2="1777.3" y2="219.5" stroke="#222" stroke-width="1.3"/><line x1="1850.2" y1="213.5" x2="1850.2" y2="219.5" stroke="#222" stroke-width="1.3"/><text x="1704.5" y="242.5" font-size="24" text-anchor="middle" textLength="45.0" lengthAdjust="spacingAndGlyphs">−2.0</text><text x="1783.3" y="242.5" font-size="24" text-anchor="middle" textLength="71.0" lengthAdjust="spacingAndGlyphs">Centre</text><text x="1826.4" y="242.5" font-size="24" textLength="64.4" lengthAdjust="spacingAndGlyphs">2.0 kb</text><g filter="url(#hmA)" clip-path="url(#hc1)"><rect x="655.5" y="258.7" width="146.0" height="359.59999999999997" fill="url(#hg1)"/><path d="M728.5,560.8 L762.5,622.3 L694.5,622.3Z" fill="black" fill-opacity="0.250" filter="url(#blur10)"/></g><rect x="655.5" y="258.7" width="146.0" height="359.59999999999997" fill="none" stroke="#111" stroke-width="1.3"/><g filter="url(#hmA)" clip-path="url(#hc2)"><rect x="655.5" y="628.9" width="146.0" height="358.0" fill="url(#hg2)"/></g><rect x="655.5" y="628.9" width="146.0" height="358.0" fill="none" stroke="#111" stroke-width="1.3"/><text transform="translate(647.0,441.0) rotate(-90)" x="0" y="0" font-size="24" text-anchor="middle" textLength="187.0" lengthAdjust="spacingAndGlyphs">ZF off-target sites</text><text transform="translate(647.0,809.6) rotate(-90)" x="0" y="0" font-size="24" text-anchor="middle" textLength="278.3" lengthAdjust="spacingAndGlyphs">ZF off-target shuffled sites</text><g filter="url(#hmA)" clip-path="url(#hc3)"><rect x="862.3" y="258.7" width="145.70000000000005" height="359.59999999999997" fill="url(#hg3)"/><path d="M935.1,546.4 L969.1,622.3 L901.1,622.3Z" fill="black" fill-opacity="0.320" filter="url(#blur10)"/></g><rect x="862.3" y="258.7" width="145.70000000000005" height="359.59999999999997" fill="none" stroke="#111" stroke-width="1.3"/><g filter="url(#hmA)" clip-path="url(#hc4)"><rect x="862.3" y="628.9" width="145.70000000000005" height="358.0" fill="url(#hg4)"/></g><rect x="862.3" y="628.9" width="145.70000000000005" height="358.0" fill="none" stroke="#111" stroke-width="1.3"/><text transform="translate(853.8,441.0) rotate(-90)" x="0" y="0" font-size="24" text-anchor="middle" textLength="187.0" lengthAdjust="spacingAndGlyphs">ZF off-target sites</text><text transform="translate(853.8,809.6) rotate(-90)" x="0" y="0" font-size="24" text-anchor="middle" textLength="278.3" lengthAdjust="spacingAndGlyphs">ZF off-target shuffled sites</text><g filter="url(#hmA)" clip-path="url(#hc5)"><rect x="1061.3" y="258.7" width="145.9000000000001" height="359.59999999999997" fill="url(#hg5)"/><path d="M1134.2,553.6 L1164.2,622.3 L1104.2,622.3Z" fill="black" fill-opacity="0.300" filter="url(#blur10)"/></g><rect x="1061.3" y="258.7" width="145.9000000000001" height="359.59999999999997" fill="none" stroke="#111" stroke-width="1.3"/><g filter="url(#hmA)" clip-path="url(#hc6)"><rect x="1061.3" y="628.9" width="145.9000000000001" height="358.0" fill="url(#hg6)"/></g><rect x="1061.3" y="628.9" width="145.9000000000001" height="358.0" fill="none" stroke="#111" stroke-width="1.3"/><text transform="translate(1052.8,441.0) rotate(-90)" x="0" y="0" font-size="24" text-anchor="middle" textLength="187.0" lengthAdjust="spacingAndGlyphs">ZF off-target sites</text><text transform="translate(1052.8,809.6) rotate(-90)" x="0" y="0" font-size="24" text-anchor="middle" textLength="278.3" lengthAdjust="spacingAndGlyphs">ZF off-target shuffled sites</text><g filter="url(#hmA)" clip-path="url(#hc7)"><rect x="1294.5" y="260.9" width="145.79999999999995" height="359.1" fill="url(#hg7)"/></g><rect x="1294.5" y="260.9" width="145.79999999999995" height="359.1" fill="none" stroke="#111" stroke-width="1.3"/><g filter="url(#hmA)" clip-path="url(#hc8)"><rect x="1294.5" y="630.5" width="145.79999999999995" height="357.29999999999995" fill="url(#hg8)"/></g><rect x="1294.5" y="630.5" width="145.79999999999995" height="357.29999999999995" fill="none" stroke="#111" stroke-width="1.3"/><text transform="translate(1286.0,442.9) rotate(-90)" x="0" y="0" font-size="24" text-anchor="middle" textLength="187.0" lengthAdjust="spacingAndGlyphs">ZF off-target sites</text><text transform="translate(1286.0,810.9) rotate(-90)" x="0" y="0" font-size="24" text-anchor="middle" textLength="278.3" lengthAdjust="spacingAndGlyphs">ZF off-target shuffled sites</text><g filter="url(#hmA)" clip-path="url(#hc9)"><rect x="1501.5" y="260.9" width="145.70000000000005" height="359.1" fill="url(#hg9)"/><path d="M1574.3,548.2 L1606.3,624.0 L1542.3,624.0Z" fill="black" fill-opacity="0.240" filter="url(#blur10)"/></g><rect x="1501.5" y="260.9" width="145.70000000000005" height="359.1" fill="none" stroke="#111" stroke-width="1.3"/><g filter="url(#hmA)" clip-path="url(#hc10)"><rect x="1501.5" y="630.5" width="145.70000000000005" height="357.29999999999995" fill="url(#hg10)"/></g><rect x="1501.5" y="630.5" width="145.70000000000005" height="357.29999999999995" fill="none" stroke="#111" stroke-width="1.3"/><text transform="translate(1493.0,442.9) rotate(-90)" x="0" y="0" font-size="24" text-anchor="middle" textLength="187.0" lengthAdjust="spacingAndGlyphs">ZF off-target sites</text><text transform="translate(1493.0,810.9) rotate(-90)" x="0" y="0" font-size="24" text-anchor="middle" textLength="278.3" lengthAdjust="spacingAndGlyphs">ZF off-target shuffled sites</text><g filter="url(#hmA)" clip-path="url(#hc11)"><rect x="1704.5" y="260.9" width="145.70000000000005" height="359.1" fill="url(#hg11)"/></g><rect x="1704.5" y="260.9" width="145.70000000000005" height="359.1" fill="none" stroke="#111" stroke-width="1.3"/><g filter="url(#hmA)" clip-path="url(#hc12)"><rect x="1704.5" y="630.5" width="145.70000000000005" height="357.29999999999995" fill="url(#hg12)"/></g><rect x="1704.5" y="630.5" width="145.70000000000005" height="357.29999999999995" fill="none" stroke="#111" stroke-width="1.3"/><text transform="translate(1696.0,442.9) rotate(-90)" x="0" y="0" font-size="24" text-anchor="middle" textLength="187.0" lengthAdjust="spacingAndGlyphs">ZF off-target sites</text><text transform="translate(1696.0,810.9) rotate(-90)" x="0" y="0" font-size="24" text-anchor="middle" textLength="278.3" lengthAdjust="spacingAndGlyphs">ZF off-target shuffled sites</text><line x1="655.5" y1="986.9" x2="655.5" y2="994.9" stroke="#222" stroke-width="1.3"/><line x1="728.5" y1="986.9" x2="728.5" y2="994.9" stroke="#222" stroke-width="1.3"/><line x1="801.5" y1="986.9" x2="801.5" y2="994.9" stroke="#222" stroke-width="1.3"/><text x="655.5" y="1020.5" font-size="24" text-anchor="middle" textLength="45.0" lengthAdjust="spacingAndGlyphs">−2.0</text><text x="732.0" y="1020.5" font-size="24" text-anchor="middle" textLength="71.0" lengthAdjust="spacingAndGlyphs">Centre</text><text x="801.5" y="1020.5" font-size="24" text-anchor="middle" textLength="32.9" lengthAdjust="spacingAndGlyphs">2.0</text><line x1="862.3" y1="986.9" x2="862.3" y2="994.9" stroke="#222" stroke-width="1.3"/><line x1="935.1" y1="986.9" x2="935.1" y2="994.9" stroke="#222" stroke-width="1.3"/><line x1="1008.0" y1="986.9" x2="1008.0" y2="994.9" stroke="#222" stroke-width="1.3"/><text x="862.3" y="1020.5" font-size="24" text-anchor="middle" textLength="45.0" lengthAdjust="spacingAndGlyphs">−2.0</text><text x="938.6" y="1020.5" font-size="24" text-anchor="middle" textLength="71.0" lengthAdjust="spacingAndGlyphs">Centre</text><text x="1008.0" y="1020.5" font-size="24" text-anchor="middle" textLength="32.9" lengthAdjust="spacingAndGlyphs">2.0</text><line x1="1061.3" y1="986.9" x2="1061.3" y2="994.9" stroke="#222" stroke-width="1.3"/><line x1="1134.2" y1="986.9" x2="1134.2" y2="994.9" stroke="#222" stroke-width="1.3"/><line x1="1207.2" y1="986.9" x2="1207.2" y2="994.9" stroke="#222" stroke-width="1.3"/><text x="1061.3" y="1020.5" font-size="24" text-anchor="middle" textLength="45.0" lengthAdjust="spacingAndGlyphs">−2.0</text><text x="1137.8" y="1020.5" font-size="24" text-anchor="middle" textLength="71.0" lengthAdjust="spacingAndGlyphs">Centre</text><text x="1187.8" y="1020.5" font-size="24" textLength="64.4" lengthAdjust="spacingAndGlyphs">2.0 kb</text><line x1="1294.5" y1="987.8" x2="1294.5" y2="995.8" stroke="#222" stroke-width="1.3"/><line x1="1367.4" y1="987.8" x2="1367.4" y2="995.8" stroke="#222" stroke-width="1.3"/><line x1="1440.3" y1="987.8" x2="1440.3" y2="995.8" stroke="#222" stroke-width="1.3"/><text x="1294.5" y="1020.5" font-size="24" text-anchor="middle" textLength="45.0" lengthAdjust="spacingAndGlyphs">−2.0</text><text x="1373.4" y="1020.5" font-size="24" text-anchor="middle" textLength="71.0" lengthAdjust="spacingAndGlyphs">Centre</text><text x="1441.3" y="1020.5" font-size="24" text-anchor="middle" textLength="32.9" lengthAdjust="spacingAndGlyphs">2.0</text><line x1="1501.5" y1="987.8" x2="1501.5" y2="995.8" stroke="#222" stroke-width="1.3"/><line x1="1574.3" y1="987.8" x2="1574.3" y2="995.8" stroke="#222" stroke-width="1.3"/><line x1="1647.2" y1="987.8" x2="1647.2" y2="995.8" stroke="#222" stroke-width="1.3"/><text x="1501.5" y="1020.5" font-size="24" text-anchor="middle" textLength="45.0" lengthAdjust="spacingAndGlyphs">−2.0</text><text x="1580.3" y="1020.5" font-size="24" text-anchor="middle" textLength="71.0" lengthAdjust="spacingAndGlyphs">Centre</text><text x="1648.2" y="1020.5" font-size="24" text-anchor="middle" textLength="32.9" lengthAdjust="spacingAndGlyphs">2.0</text><line x1="1704.5" y1="987.8" x2="1704.5" y2="995.8" stroke="#222" stroke-width="1.3"/><line x1="1777.3" y1="987.8" x2="1777.3" y2="995.8" stroke="#222" stroke-width="1.3"/><line x1="1850.2" y1="987.8" x2="1850.2" y2="995.8" stroke="#222" stroke-width="1.3"/><text x="1704.5" y="1020.5" font-size="24" text-anchor="middle" textLength="45.0" lengthAdjust="spacingAndGlyphs">−2.0</text><text x="1783.3" y="1020.5" font-size="24" text-anchor="middle" textLength="71.0" lengthAdjust="spacingAndGlyphs">Centre</text><text x="1828.3" y="1020.5" font-size="24" textLength="64.4" lengthAdjust="spacingAndGlyphs">2.0 kb</text><rect x="1860" y="264" width="13" height="724.5" fill="url(#cb13)" stroke="#222" stroke-width="1"/><line x1="1873" y1="264.0" x2="1878" y2="264.0" stroke="#222" stroke-width="1.2"/><text x="1884.0" y="271.8" font-size="24" textLength="46.0" lengthAdjust="spacingAndGlyphs">10.0</text><line x1="1873" y1="354.6" x2="1878" y2="354.6" stroke="#222" stroke-width="1.2"/><text x="1884.0" y="362.4" font-size="24" textLength="32.9" lengthAdjust="spacingAndGlyphs">7.5</text><line x1="1873" y1="445.1" x2="1878" y2="445.1" stroke="#222" stroke-width="1.2"/><text x="1884.0" y="452.9" font-size="24" textLength="32.9" lengthAdjust="spacingAndGlyphs">5.0</text><line x1="1873" y1="535.7" x2="1878" y2="535.7" stroke="#222" stroke-width="1.2"/><text x="1884.0" y="543.5" font-size="24" textLength="32.9" lengthAdjust="spacingAndGlyphs">2.5</text><line x1="1873" y1="626.2" x2="1878" y2="626.2" stroke="#222" stroke-width="1.2"/><text x="1884.0" y="634.0" font-size="24" textLength="13.1" lengthAdjust="spacingAndGlyphs">0</text><line x1="1873" y1="716.8" x2="1878" y2="716.8" stroke="#222" stroke-width="1.2"/><text x="1884.0" y="724.6" font-size="24" textLength="45.0" lengthAdjust="spacingAndGlyphs">−2.5</text><line x1="1873" y1="807.4" x2="1878" y2="807.4" stroke="#222" stroke-width="1.2"/><text x="1884.0" y="815.2" font-size="24" textLength="45.0" lengthAdjust="spacingAndGlyphs">−5.0</text><line x1="1873" y1="897.9" x2="1878" y2="897.9" stroke="#222" stroke-width="1.2"/><text x="1884.0" y="905.7" font-size="24" textLength="45.0" lengthAdjust="spacingAndGlyphs">−7.5</text><line x1="1873" y1="988.5" x2="1878" y2="988.5" stroke="#222" stroke-width="1.2"/><text x="1884.0" y="996.3" font-size="24" textLength="57.7" lengthAdjust="spacingAndGlyphs">−10.0</text><line x1="747" y1="1047.5" x2="790" y2="1047.5" stroke="#20b2a5" stroke-width="5"/><text x="800.0" y="1055.5" font-size="24" textLength="304.0" lengthAdjust="spacingAndGlyphs">ZF off-target sites (<tspan font-style="italic">n</tspan> = 6,091)</text><line x1="1407" y1="1047.5" x2="1450" y2="1047.5" stroke="#fc8d6d" stroke-width="5"/><text x="1457.5" y="1055.5" font-size="24" textLength="280.0" lengthAdjust="spacingAndGlyphs">ZF off-target shuffled sites</text><text x="925.0" y="1158.0" font-size="24" text-anchor="middle" textLength="365.3" lengthAdjust="spacingAndGlyphs">H4K16ac ChIP–seq (ZF versus <tspan font-style="italic">fwa</tspan>)</text><text x="724.3" y="1188.4" font-size="24" text-anchor="middle" textLength="92.0" lengthAdjust="spacingAndGlyphs">HD2A-ZF</text><text x="925.0" y="1188.4" font-size="24" text-anchor="middle" textLength="92.0" lengthAdjust="spacingAndGlyphs">HD2B-ZF</text><text x="1125.0" y="1188.4" font-size="24" text-anchor="middle" textLength="92.0" lengthAdjust="spacingAndGlyphs">HD2C-ZF</text><polyline points="653.0,1225.3 654.3,1228.6 655.6,1224.1 656.9,1232.4 658.3,1236.1 659.6,1230.7 660.9,1231.7 662.2,1238.4 663.5,1238.6 664.8,1230.1 666.2,1242.6 667.5,1242.3 668.8,1237.1 670.1,1238.2 671.4,1235.4 672.7,1237.5 674.1,1240.9 675.4,1239.1 676.7,1240.9 678.0,1236.6 679.3,1237.3 680.6,1242.2 682.0,1236.9 683.3,1240.5 684.6,1237.7 685.9,1238.8 687.2,1236.6 688.5,1244.9 689.9,1235.7 691.2,1240.9 692.5,1233.1 693.8,1239.8 695.1,1237.6 696.4,1237.8 697.8,1234.4 699.1,1231.5 700.4,1233.4 701.7,1233.6 703.0,1232.5 704.3,1232.7 705.7,1231.7 707.0,1233.4 708.3,1232.0 709.6,1228.2 710.9,1230.2 712.2,1239.5 713.6,1236.1 714.9,1235.8 716.2,1238.9 717.5,1240.2 718.8,1241.1 720.1,1240.7 721.5,1243.2 722.8,1248.9 724.1,1249.2 725.4,1252.4 726.7,1249.2 728.0,1249.2 729.4,1251.3 730.7,1247.0 732.0,1242.1 733.3,1239.5 734.6,1241.8 735.9,1236.4 737.3,1239.6 738.6,1241.9 739.9,1243.2 741.2,1234.9 742.5,1242.1 743.8,1244.5 745.2,1239.8 746.5,1242.3 747.8,1238.5 749.1,1244.4 750.4,1236.7 751.7,1236.0 753.1,1239.5 754.4,1240.9 755.7,1237.2 757.0,1233.7 758.3,1238.4 759.6,1236.8 761.0,1232.5 762.3,1234.4 763.6,1236.8 764.9,1235.6 766.2,1236.3 767.5,1238.3 768.9,1237.7 770.2,1245.4 771.5,1237.4 772.8,1235.4 774.1,1236.2 775.4,1239.6 776.8,1233.1 778.1,1233.8 779.4,1240.0 780.7,1237.5 782.0,1238.5 783.3,1239.4 784.7,1233.6 786.0,1233.5 787.3,1238.3 788.6,1236.5 789.9,1234.3 791.2,1235.5 792.6,1230.8 793.9,1231.8 795.2,1230.8 796.5,1235.5" fill="none" stroke="#20b2a5" stroke-width="3" stroke-linejoin="round"/><polyline points="653.0,1226.9 654.3,1229.3 655.6,1227.0 656.9,1227.7 658.3,1230.2 659.6,1229.1 660.9,1229.8 662.2,1236.5 663.5,1234.7 664.8,1232.4 666.2,1236.0 667.5,1234.6 668.8,1228.7 670.1,1235.9 671.4,1232.3 672.7,1230.1 674.1,1232.5 675.4,1231.1 676.7,1228.7 678.0,1232.4 679.3,1219.5 680.6,1227.9 682.0,1226.2 683.3,1226.9 684.6,1233.0 685.9,1226.0 687.2,1229.1 688.5,1224.4 689.9,1225.5 691.2,1225.4 692.5,1229.2 693.8,1228.3 695.1,1227.2 696.4,1225.3 697.8,1224.8 699.1,1221.0 700.4,1225.5 701.7,1222.9 703.0,1218.9 704.3,1224.1 705.7,1216.0 707.0,1222.6 708.3,1220.2 709.6,1223.0 710.9,1218.6 712.2,1218.1 713.6,1219.2 714.9,1225.9 716.2,1219.8 717.5,1222.5 718.8,1220.9 720.1,1226.2 721.5,1221.4 722.8,1217.5 724.1,1218.7 725.4,1217.8 726.7,1214.4 728.0,1213.3 729.4,1215.2 730.7,1214.5 732.0,1213.9 733.3,1221.0 734.6,1224.1 735.9,1220.1 737.3,1214.3 738.6,1212.8 739.9,1221.2 741.2,1212.7 742.5,1211.1 743.8,1218.9 745.2,1217.7 746.5,1217.1 747.8,1214.4 749.1,1216.8 750.4,1217.2 751.7,1219.2 753.1,1222.0 754.4,1214.2 755.7,1217.3 757.0,1217.5 758.3,1217.0 759.6,1217.6 761.0,1213.4 762.3,1215.0 763.6,1216.1 764.9,1209.3 766.2,1208.7 767.5,1208.8 768.9,1213.3 770.2,1210.6 771.5,1206.0 772.8,1210.3 774.1,1209.4 775.4,1207.5 776.8,1206.0 778.1,1212.7 779.4,1207.8 780.7,1210.3 782.0,1206.5 783.3,1207.5 784.7,1207.6 786.0,1208.6 787.3,1207.8 788.6,1207.2 789.9,1206.6 791.2,1208.2 792.6,1206.3 793.9,1206.5 795.2,1217.6 796.5,1219.0" fill="none" stroke="#fc8d6d" stroke-width="3" stroke-linejoin="round"/><rect x="653" y="1196.8" width="143.5" height="129.2" fill="none" stroke="#222" stroke-width="1.2"/><line x1="648" y1="1218.7" x2="653" y2="1218.7" stroke="#222" stroke-width="1.2"/><text x="642.0" y="1227.0" font-size="24" text-anchor="end" textLength="13.1" lengthAdjust="spacingAndGlyphs">0</text><line x1="648" y1="1267.8" x2="653" y2="1267.8" stroke="#222" stroke-width="1.2"/><text x="642.0" y="1276.1" font-size="24" text-anchor="end" textLength="38.7" lengthAdjust="spacingAndGlyphs">−10</text><line x1="648" y1="1316.9" x2="653" y2="1316.9" stroke="#222" stroke-width="1.2"/><text x="642.0" y="1325.2" font-size="24" text-anchor="end" textLength="38.7" lengthAdjust="spacingAndGlyphs">−20</text><line x1="653.0" y1="1326.0" x2="653.0" y2="1332.0" stroke="#222" stroke-width="1.3"/><line x1="724.8" y1="1326.0" x2="724.8" y2="1332.0" stroke="#222" stroke-width="1.3"/><line x1="796.5" y1="1326.0" x2="796.5" y2="1332.0" stroke="#222" stroke-width="1.3"/><text x="653.0" y="1355.0" font-size="24" text-anchor="middle" textLength="45.0" lengthAdjust="spacingAndGlyphs">−2.0</text><text x="724.8" y="1355.0" font-size="24" text-anchor="middle" textLength="71.0" lengthAdjust="spacingAndGlyphs">Centre</text><text x="796.5" y="1355.0" font-size="24" text-anchor="middle" textLength="32.9" lengthAdjust="spacingAndGlyphs">2.0</text><polyline points="853.3,1224.0 854.6,1219.5 855.9,1231.4 857.2,1227.0 858.6,1223.4 859.9,1224.1 861.2,1223.3 862.5,1227.1 863.8,1224.3 865.1,1221.0 866.4,1225.6 867.8,1224.7 869.1,1230.7 870.4,1234.8 871.7,1230.0 873.0,1229.7 874.3,1226.3 875.6,1231.0 876.9,1229.8 878.3,1230.2 879.6,1225.6 880.9,1229.9 882.2,1231.7 883.5,1230.3 884.8,1229.4 886.1,1227.3 887.5,1231.8 888.8,1224.6 890.1,1226.4 891.4,1227.2 892.7,1226.6 894.0,1229.1 895.3,1232.4 896.7,1229.7 898.0,1230.2 899.3,1225.0 900.6,1230.4 901.9,1226.7 903.2,1225.8 904.5,1231.9 905.9,1227.9 907.2,1226.3 908.5,1222.4 909.8,1228.2 911.1,1224.9 912.4,1228.2 913.7,1234.1 915.0,1231.1 916.4,1234.1 917.7,1239.9 919.0,1238.2 920.3,1239.9 921.6,1244.2 922.9,1247.8 924.2,1244.3 925.6,1243.5 926.9,1240.3 928.2,1237.3 929.5,1233.4 930.8,1233.4 932.1,1233.1 933.4,1234.1 934.8,1227.4 936.1,1234.2 937.4,1232.6 938.7,1229.4 940.0,1233.3 941.3,1221.5 942.6,1226.1 943.9,1229.7 945.3,1231.2 946.6,1230.1 947.9,1228.6 949.2,1232.1 950.5,1226.8 951.8,1225.4 953.1,1233.6 954.5,1230.7 955.8,1227.7 957.1,1235.1 958.4,1228.2 959.7,1231.9 961.0,1239.8 962.3,1231.6 963.7,1234.5 965.0,1227.6 966.3,1229.5 967.6,1232.4 968.9,1229.3 970.2,1223.4 971.5,1229.2 972.9,1227.5 974.2,1222.1 975.5,1222.9 976.8,1224.5 978.1,1223.0 979.4,1222.8 980.7,1223.3 982.0,1214.4 983.4,1215.3 984.7,1220.0 986.0,1218.3 987.3,1222.3 988.6,1221.9 989.9,1213.0 991.2,1218.2 992.6,1216.9 993.9,1225.7 995.2,1222.2 996.5,1230.3" fill="none" stroke="#20b2a5" stroke-width="3" stroke-linejoin="round"/><polyline points="853.3,1222.9 854.6,1222.0 855.9,1226.2 857.2,1219.9 858.6,1217.8 859.9,1218.4 861.2,1225.7 862.5,1222.8 863.8,1224.0 865.1,1224.4 866.4,1222.6 867.8,1226.7 869.1,1227.8 870.4,1225.9 871.7,1226.7 873.0,1221.2 874.3,1223.8 875.6,1221.0 876.9,1222.1 878.3,1225.1 879.6,1227.5 880.9,1225.5 882.2,1220.8 883.5,1221.3 884.8,1223.7 886.1,1221.1 887.5,1223.3 888.8,1226.4 890.1,1216.4 891.4,1220.8 892.7,1224.8 894.0,1227.5 895.3,1218.3 896.7,1220.4 898.0,1218.8 899.3,1215.3 900.6,1212.3 901.9,1220.1 903.2,1216.0 904.5,1219.1 905.9,1224.0 907.2,1215.1 908.5,1218.2 909.8,1218.6 911.1,1218.5 912.4,1222.6 913.7,1216.8 915.0,1215.4 916.4,1222.1 917.7,1229.0 919.0,1232.3 920.3,1224.1 921.6,1228.1 922.9,1225.1 924.2,1221.3 925.6,1224.1 926.9,1222.1 928.2,1222.2 929.5,1222.4 930.8,1216.8 932.1,1218.9 933.4,1212.7 934.8,1216.3 936.1,1212.8 937.4,1212.4 938.7,1216.2 940.0,1208.2 941.3,1211.2 942.6,1207.1 943.9,1208.2 945.3,1216.6 946.6,1213.1 947.9,1215.6 949.2,1212.1 950.5,1217.4 951.8,1216.6 953.1,1219.0 954.5,1218.1 955.8,1218.3 957.1,1219.2 958.4,1217.7 959.7,1220.7 961.0,1220.4 962.3,1223.2 963.7,1221.4 965.0,1217.3 966.3,1222.8 967.6,1221.0 968.9,1223.7 970.2,1220.1 971.5,1217.7 972.9,1219.6 974.2,1221.7 975.5,1219.0 976.8,1222.4 978.1,1220.0 979.4,1224.7 980.7,1225.3 982.0,1214.3 983.4,1222.7 984.7,1219.7 986.0,1222.5 987.3,1220.2 988.6,1227.1 989.9,1223.5 991.2,1221.0 992.6,1215.6 993.9,1217.9 995.2,1222.6 996.5,1218.7" fill="none" stroke="#fc8d6d" stroke-width="3" stroke-linejoin="round"/><rect x="853.3" y="1196.8" width="143.2" height="129.2" fill="none" stroke="#222" stroke-width="1.2"/><line x1="848.3" y1="1218.7" x2="853.3" y2="1218.7" stroke="#222" stroke-width="1.2"/><text x="842.3" y="1227.0" font-size="24" text-anchor="end" textLength="13.1" lengthAdjust="spacingAndGlyphs">0</text><line x1="848.3" y1="1267.8" x2="853.3" y2="1267.8" stroke="#222" stroke-width="1.2"/><text x="842.3" y="1276.1" font-size="24" text-anchor="end" textLength="38.7" lengthAdjust="spacingAndGlyphs">−10</text><line x1="848.3" y1="1316.9" x2="853.3" y2="1316.9" stroke="#222" stroke-width="1.2"/><text x="842.3" y="1325.2" font-size="24" text-anchor="end" textLength="38.7" lengthAdjust="spacingAndGlyphs">−20</text><line x1="853.3" y1="1326.0" x2="853.3" y2="1332.0" stroke="#222" stroke-width="1.3"/><line x1="924.9" y1="1326.0" x2="924.9" y2="1332.0" stroke="#222" stroke-width="1.3"/><line x1="996.5" y1="1326.0" x2="996.5" y2="1332.0" stroke="#222" stroke-width="1.3"/><text x="853.3" y="1355.0" font-size="24" text-anchor="middle" textLength="45.0" lengthAdjust="spacingAndGlyphs">−2.0</text><text x="924.9" y="1355.0" font-size="24" text-anchor="middle" textLength="71.0" lengthAdjust="spacingAndGlyphs">Centre</text><text x="996.5" y="1355.0" font-size="24" text-anchor="middle" textLength="32.9" lengthAdjust="spacingAndGlyphs">2.0</text><polyline points="1053.3,1256.4 1054.6,1253.4 1055.9,1251.3 1057.2,1260.4 1058.6,1258.6 1059.9,1259.8 1061.2,1256.8 1062.5,1254.7 1063.8,1257.1 1065.1,1250.8 1066.4,1247.8 1067.8,1242.8 1069.1,1249.2 1070.4,1246.2 1071.7,1251.0 1073.0,1254.8 1074.3,1250.0 1075.6,1256.4 1076.9,1251.3 1078.3,1252.2 1079.6,1251.4 1080.9,1257.7 1082.2,1255.0 1083.5,1255.7 1084.8,1251.7 1086.1,1249.0 1087.5,1254.2 1088.8,1257.5 1090.1,1255.2 1091.4,1252.6 1092.7,1256.2 1094.0,1245.0 1095.3,1243.9 1096.7,1251.6 1098.0,1245.7 1099.3,1245.4 1100.6,1241.2 1101.9,1238.0 1103.2,1241.5 1104.5,1236.8 1105.9,1244.7 1107.2,1242.3 1108.5,1236.5 1109.8,1245.2 1111.1,1249.3 1112.4,1256.5 1113.7,1263.9 1115.0,1269.4 1116.4,1277.7 1117.7,1282.9 1119.0,1290.8 1120.3,1297.0 1121.6,1303.6 1122.9,1309.9 1124.2,1317.8 1125.6,1314.0 1126.9,1300.8 1128.2,1305.5 1129.5,1296.4 1130.8,1294.5 1132.1,1290.2 1133.4,1285.8 1134.8,1268.1 1136.1,1262.9 1137.4,1258.7 1138.7,1245.1 1140.0,1238.2 1141.3,1245.8 1142.6,1248.6 1143.9,1248.7 1145.3,1246.3 1146.6,1240.0 1147.9,1249.5 1149.2,1245.6 1150.5,1254.7 1151.8,1255.5 1153.1,1255.4 1154.5,1255.5 1155.8,1252.3 1157.1,1248.3 1158.4,1249.8 1159.7,1255.5 1161.0,1254.6 1162.3,1253.9 1163.7,1255.3 1165.0,1256.1 1166.3,1249.0 1167.6,1256.5 1168.9,1251.4 1170.2,1255.0 1171.5,1252.7 1172.9,1255.6 1174.2,1248.8 1175.5,1250.4 1176.8,1250.2 1178.1,1254.3 1179.4,1250.4 1180.7,1256.5 1182.0,1256.6 1183.4,1251.3 1184.7,1251.0 1186.0,1253.1 1187.3,1250.0 1188.6,1245.3 1189.9,1252.4 1191.2,1248.5 1192.6,1246.1 1193.9,1251.7 1195.2,1245.6 1196.5,1239.5" fill="none" stroke="#20b2a5" stroke-width="3" stroke-linejoin="round"/><polyline points="1053.3,1236.7 1054.6,1239.2 1055.9,1238.1 1057.2,1239.1 1058.6,1239.0 1059.9,1238.8 1061.2,1232.6 1062.5,1232.0 1063.8,1235.5 1065.1,1237.4 1066.4,1238.7 1067.8,1241.2 1069.1,1237.5 1070.4,1242.8 1071.7,1236.7 1073.0,1240.4 1074.3,1239.9 1075.6,1243.4 1076.9,1239.0 1078.3,1231.1 1079.6,1239.0 1080.9,1239.8 1082.2,1237.1 1083.5,1235.2 1084.8,1235.1 1086.1,1240.6 1087.5,1242.1 1088.8,1241.8 1090.1,1238.6 1091.4,1244.8 1092.7,1233.4 1094.0,1240.5 1095.3,1239.1 1096.7,1233.3 1098.0,1241.9 1099.3,1238.9 1100.6,1241.3 1101.9,1237.5 1103.2,1241.7 1104.5,1239.0 1105.9,1242.6 1107.2,1237.1 1108.5,1242.2 1109.8,1244.8 1111.1,1240.1 1112.4,1247.9 1113.7,1236.3 1115.0,1240.1 1116.4,1240.8 1117.7,1241.7 1119.0,1238.4 1120.3,1242.3 1121.6,1243.3 1122.9,1244.8 1124.2,1242.5 1125.6,1237.3 1126.9,1244.0 1128.2,1236.1 1129.5,1236.4 1130.8,1233.8 1132.1,1228.5 1133.4,1226.6 1134.8,1227.6 1136.1,1227.3 1137.4,1235.5 1138.7,1234.1 1140.0,1239.5 1141.3,1231.7 1142.6,1235.3 1143.9,1245.1 1145.3,1232.8 1146.6,1239.2 1147.9,1239.8 1149.2,1234.1 1150.5,1231.5 1151.8,1231.5 1153.1,1240.4 1154.5,1242.3 1155.8,1234.7 1157.1,1238.2 1158.4,1243.2 1159.7,1234.5 1161.0,1240.4 1162.3,1239.8 1163.7,1244.5 1165.0,1241.0 1166.3,1241.8 1167.6,1241.9 1168.9,1244.4 1170.2,1243.6 1171.5,1240.6 1172.9,1242.5 1174.2,1241.0 1175.5,1240.6 1176.8,1240.4 1178.1,1238.8 1179.4,1240.3 1180.7,1236.1 1182.0,1238.8 1183.4,1243.4 1184.7,1241.1 1186.0,1239.0 1187.3,1240.6 1188.6,1235.2 1189.9,1244.6 1191.2,1236.7 1192.6,1235.9 1193.9,1241.1 1195.2,1241.1 1196.5,1228.9" fill="none" stroke="#fc8d6d" stroke-width="3" stroke-linejoin="round"/><rect x="1053.3" y="1196.8" width="143.2" height="129.2" fill="none" stroke="#222" stroke-width="1.2"/><line x1="1048.3" y1="1218.7" x2="1053.3" y2="1218.7" stroke="#222" stroke-width="1.2"/><text x="1042.3" y="1227.0" font-size="24" text-anchor="end" textLength="13.1" lengthAdjust="spacingAndGlyphs">0</text><line x1="1048.3" y1="1267.8" x2="1053.3" y2="1267.8" stroke="#222" stroke-width="1.2"/><text x="1042.3" y="1276.1" font-size="24" text-anchor="end" textLength="38.7" lengthAdjust="spacingAndGlyphs">−10</text><line x1="1048.3" y1="1316.9" x2="1053.3" y2="1316.9" stroke="#222" stroke-width="1.2"/><text x="1042.3" y="1325.2" font-size="24" text-anchor="end" textLength="38.7" lengthAdjust="spacingAndGlyphs">−20</text><line x1="1053.3" y1="1326.0" x2="1053.3" y2="1332.0" stroke="#222" stroke-width="1.3"/><line x1="1124.9" y1="1326.0" x2="1124.9" y2="1332.0" stroke="#222" stroke-width="1.3"/><line x1="1196.5" y1="1326.0" x2="1196.5" y2="1332.0" stroke="#222" stroke-width="1.3"/><text x="1053.3" y="1355.0" font-size="24" text-anchor="middle" textLength="45.0" lengthAdjust="spacingAndGlyphs">−2.0</text><text x="1124.9" y="1355.0" font-size="24" text-anchor="middle" textLength="71.0" lengthAdjust="spacingAndGlyphs">Centre</text><text x="1177.6" y="1355.0" font-size="24" textLength="64.4" lengthAdjust="spacingAndGlyphs">2.0 kb</text><g filter="url(#hmA)" clip-path="url(#hc14)"><rect x="653" y="1371.5" width="143.5" height="363.0" fill="url(#hg14)"/></g><rect x="653" y="1371.5" width="143.5" height="363.0" fill="none" stroke="#111" stroke-width="1.3"/><g filter="url(#hmA)" clip-path="url(#hc15)"><rect x="653" y="1739.8" width="143.5" height="361.5000000000002" fill="url(#hg15)"/></g><rect x="653" y="1739.8" width="143.5" height="361.5000000000002" fill="none" stroke="#111" stroke-width="1.3"/><text transform="translate(644.5,1566.5) rotate(-90)" x="0" y="0" font-size="24" text-anchor="middle" textLength="187.0" lengthAdjust="spacingAndGlyphs">ZF off-target sites</text><text transform="translate(644.5,1927.9) rotate(-90)" x="0" y="0" font-size="24" text-anchor="middle" textLength="278.3" lengthAdjust="spacingAndGlyphs">ZF off-target shuffled sites</text><line x1="653.0" y1="2101.3" x2="653.0" y2="2109.3" stroke="#222" stroke-width="1.3"/><line x1="724.8" y1="2101.3" x2="724.8" y2="2109.3" stroke="#222" stroke-width="1.3"/><line x1="796.5" y1="2101.3" x2="796.5" y2="2109.3" stroke="#222" stroke-width="1.3"/><text x="653.0" y="2143.0" font-size="24" text-anchor="middle" textLength="45.0" lengthAdjust="spacingAndGlyphs">−2.0</text><text x="724.8" y="2143.0" font-size="24" text-anchor="middle" textLength="71.0" lengthAdjust="spacingAndGlyphs">Centre</text><text x="796.5" y="2143.0" font-size="24" text-anchor="middle" textLength="32.9" lengthAdjust="spacingAndGlyphs">2.0</text><g filter="url(#hmA)" clip-path="url(#hc16)"><rect x="853.3" y="1371.5" width="143.20000000000005" height="363.0" fill="url(#hg16)"/></g><rect x="853.3" y="1371.5" width="143.20000000000005" height="363.0" fill="none" stroke="#111" stroke-width="1.3"/><g filter="url(#hmA)" clip-path="url(#hc17)"><rect x="853.3" y="1739.8" width="143.20000000000005" height="361.5000000000002" fill="url(#hg17)"/></g><rect x="853.3" y="1739.8" width="143.20000000000005" height="361.5000000000002" fill="none" stroke="#111" stroke-width="1.3"/><text transform="translate(844.8,1566.5) rotate(-90)" x="0" y="0" font-size="24" text-anchor="middle" textLength="187.0" lengthAdjust="spacingAndGlyphs">ZF off-target sites</text><text transform="translate(844.8,1927.9) rotate(-90)" x="0" y="0" font-size="24" text-anchor="middle" textLength="278.3" lengthAdjust="spacingAndGlyphs">ZF off-target shuffled sites</text><line x1="853.3" y1="2101.3" x2="853.3" y2="2109.3" stroke="#222" stroke-width="1.3"/><line x1="924.9" y1="2101.3" x2="924.9" y2="2109.3" stroke="#222" stroke-width="1.3"/><line x1="996.5" y1="2101.3" x2="996.5" y2="2109.3" stroke="#222" stroke-width="1.3"/><text x="853.3" y="2143.0" font-size="24" text-anchor="middle" textLength="45.0" lengthAdjust="spacingAndGlyphs">−2.0</text><text x="924.9" y="2143.0" font-size="24" text-anchor="middle" textLength="71.0" lengthAdjust="spacingAndGlyphs">Centre</text><text x="996.5" y="2143.0" font-size="24" text-anchor="middle" textLength="32.9" lengthAdjust="spacingAndGlyphs">2.0</text><g filter="url(#hmA)" clip-path="url(#hc18)"><rect x="1053.3" y="1371.5" width="143.20000000000005" height="363.0" fill="url(#hg18)"/><path d="M1124.9,1669.2 L1154.9,1738.5 L1094.9,1738.5Z" fill="black" fill-opacity="0.220" filter="url(#blur10)"/></g><rect x="1053.3" y="1371.5" width="143.20000000000005" height="363.0" fill="none" stroke="#111" stroke-width="1.3"/><g filter="url(#hmA)" clip-path="url(#hc19)"><rect x="1053.3" y="1739.8" width="143.20000000000005" height="361.5000000000002" fill="url(#hg19)"/></g><rect x="1053.3" y="1739.8" width="143.20000000000005" height="361.5000000000002" fill="none" stroke="#111" stroke-width="1.3"/><text transform="translate(1044.8,1566.5) rotate(-90)" x="0" y="0" font-size="24" text-anchor="middle" textLength="187.0" lengthAdjust="spacingAndGlyphs">ZF off-target sites</text><text transform="translate(1044.8,1927.9) rotate(-90)" x="0" y="0" font-size="24" text-anchor="middle" textLength="278.3" lengthAdjust="spacingAndGlyphs">ZF off-target shuffled sites</text><line x1="1053.3" y1="2101.3" x2="1053.3" y2="2109.3" stroke="#222" stroke-width="1.3"/><line x1="1124.9" y1="2101.3" x2="1124.9" y2="2109.3" stroke="#222" stroke-width="1.3"/><line x1="1196.5" y1="2101.3" x2="1196.5" y2="2109.3" stroke="#222" stroke-width="1.3"/><text x="1053.3" y="2143.0" font-size="24" text-anchor="middle" textLength="45.0" lengthAdjust="spacingAndGlyphs">−2.0</text><text x="1124.9" y="2143.0" font-size="24" text-anchor="middle" textLength="71.0" lengthAdjust="spacingAndGlyphs">Centre</text><text x="1177.8" y="2143.0" font-size="24" textLength="64.4" lengthAdjust="spacingAndGlyphs">2.0 kb</text><rect x="1203.8" y="1371.5" width="12.900000000000091" height="724.0" fill="url(#cb20)" stroke="#222" stroke-width="1"/><line x1="1216.7" y1="1371.5" x2="1221.7" y2="1371.5" stroke="#222" stroke-width="1.2"/><text x="1226.0" y="1379.3" font-size="24" textLength="46.0" lengthAdjust="spacingAndGlyphs">10.0</text><line x1="1216.7" y1="1462.0" x2="1221.7" y2="1462.0" stroke="#222" stroke-width="1.2"/><text x="1226.0" y="1469.8" font-size="24" textLength="32.9" lengthAdjust="spacingAndGlyphs">7.5</text><line x1="1216.7" y1="1552.5" x2="1221.7" y2="1552.5" stroke="#222" stroke-width="1.2"/><text x="1226.0" y="1560.3" font-size="24" textLength="32.9" lengthAdjust="spacingAndGlyphs">5.0</text><line x1="1216.7" y1="1643.0" x2="1221.7" y2="1643.0" stroke="#222" stroke-width="1.2"/><text x="1226.0" y="1650.8" font-size="24" textLength="32.9" lengthAdjust="spacingAndGlyphs">2.5</text><line x1="1216.7" y1="1733.5" x2="1221.7" y2="1733.5" stroke="#222" stroke-width="1.2"/><text x="1226.0" y="1741.3" font-size="24" textLength="13.1" lengthAdjust="spacingAndGlyphs">0</text><line x1="1216.7" y1="1824.0" x2="1221.7" y2="1824.0" stroke="#222" stroke-width="1.2"/><text x="1226.0" y="1831.8" font-size="24" textLength="45.0" lengthAdjust="spacingAndGlyphs">−2.5</text><line x1="1216.7" y1="1914.5" x2="1221.7" y2="1914.5" stroke="#222" stroke-width="1.2"/><text x="1226.0" y="1922.3" font-size="24" textLength="45.0" lengthAdjust="spacingAndGlyphs">−5.0</text><line x1="1216.7" y1="2005.0" x2="1221.7" y2="2005.0" stroke="#222" stroke-width="1.2"/><text x="1226.0" y="2012.8" font-size="24" textLength="45.0" lengthAdjust="spacingAndGlyphs">−7.5</text><line x1="1216.7" y1="2095.5" x2="1221.7" y2="2095.5" stroke="#222" stroke-width="1.2"/><text x="1226.0" y="2103.3" font-size="24" textLength="57.7" lengthAdjust="spacingAndGlyphs">−10.0</text><line x1="733" y1="2162.5" x2="775" y2="2162.5" stroke="#20b2a5" stroke-width="5"/><text x="783.0" y="2170.5" font-size="24" textLength="304.0" lengthAdjust="spacingAndGlyphs">ZF off-target sites (<tspan font-style="italic">n</tspan> = 6,091)</text><text x="1521.5" y="1158.7" font-size="24" text-anchor="middle" textLength="189.4" lengthAdjust="spacingAndGlyphs">H3K9ac ChIP–seq</text><text x="1914.6" y="1158.7" font-size="24" text-anchor="middle" textLength="365.8" lengthAdjust="spacingAndGlyphs">H3K14ac ChIP–seq (ZF versus <tspan font-style="italic">fwa</tspan>)</text><text x="1421.8" y="1188.7" font-size="24" text-anchor="middle" textLength="94.7" lengthAdjust="spacingAndGlyphs">HDA6-ZF</text><text x="1614.9" y="1188.7" font-size="24" text-anchor="middle" textLength="82.2" lengthAdjust="spacingAndGlyphs">MSI1-ZF</text><text x="1820.4" y="1188.7" font-size="24" text-anchor="middle" textLength="94.7" lengthAdjust="spacingAndGlyphs">HDA6-ZF</text><text x="2013.0" y="1188.7" font-size="24" text-anchor="middle" textLength="82.2" lengthAdjust="spacingAndGlyphs">MSI1-ZF</text><polyline points="1350.6,1234.7 1351.9,1235.1 1353.2,1235.0 1354.5,1234.4 1355.8,1233.5 1357.0,1232.6 1358.3,1232.5 1359.6,1232.6 1360.9,1233.0 1362.2,1233.3 1363.5,1231.7 1364.8,1231.8 1366.1,1234.3 1367.3,1235.5 1368.6,1235.6 1369.9,1234.2 1371.2,1234.5 1372.5,1236.4 1373.8,1235.8 1375.1,1236.5 1376.4,1236.9 1377.6,1238.9 1378.9,1239.4 1380.2,1237.7 1381.5,1237.6 1382.8,1235.6 1384.1,1236.3 1385.4,1236.0 1386.7,1238.3 1388.0,1237.8 1389.2,1236.0 1390.5,1235.6 1391.8,1235.6 1393.1,1236.3 1394.4,1237.6 1395.7,1237.2 1397.0,1237.6 1398.3,1236.0 1399.5,1236.2 1400.8,1236.5 1402.1,1237.6 1403.4,1239.6 1404.7,1241.2 1406.0,1244.0 1407.3,1245.0 1408.6,1247.0 1409.9,1247.5 1411.1,1248.8 1412.4,1251.7 1413.7,1254.6 1415.0,1257.8 1416.3,1261.6 1417.6,1264.8 1418.9,1268.7 1420.2,1268.7 1421.4,1269.2 1422.7,1266.3 1424.0,1264.7 1425.3,1261.6 1426.6,1257.1 1427.9,1255.2 1429.2,1251.3 1430.5,1248.9 1431.7,1245.8 1433.0,1244.9 1434.3,1243.6 1435.6,1241.4 1436.9,1241.2 1438.2,1240.9 1439.5,1240.0 1440.8,1238.7 1442.1,1237.8 1443.3,1238.2 1444.6,1238.8 1445.9,1239.3 1447.2,1239.3 1448.5,1240.2 1449.8,1242.0 1451.1,1241.9 1452.4,1242.4 1453.6,1240.9 1454.9,1241.8 1456.2,1239.7 1457.5,1239.8 1458.8,1239.5 1460.1,1240.6 1461.4,1238.4 1462.7,1237.1 1464.0,1236.6 1465.2,1237.4 1466.5,1237.1 1467.8,1235.2 1469.1,1236.3 1470.4,1237.2 1471.7,1239.4 1473.0,1239.1 1474.3,1238.4 1475.5,1237.4 1476.8,1235.9 1478.1,1236.5 1479.4,1235.9 1480.7,1236.6 1482.0,1237.0 1483.3,1238.0 1484.6,1238.1 1485.8,1238.1 1487.1,1240.0 1488.4,1240.4 1489.7,1239.4 1491.0,1238.5" fill="none" stroke="#20b2a5" stroke-width="3" stroke-linejoin="round"/><polyline points="1350.6,1204.1 1351.9,1204.6 1353.2,1208.7 1354.5,1211.8 1355.8,1215.1 1357.0,1217.3 1358.3,1217.6 1359.6,1215.7 1360.9,1213.5 1362.2,1212.9 1363.5,1214.8 1364.8,1212.9 1366.1,1213.7 1367.3,1210.8 1368.6,1212.9 1369.9,1211.0 1371.2,1211.6 1372.5,1211.6 1373.8,1212.5 1375.1,1214.2 1376.4,1214.5 1377.6,1214.1 1378.9,1212.7 1380.2,1211.2 1381.5,1209.9 1382.8,1212.1 1384.1,1213.1 1385.4,1214.7 1386.7,1210.8 1388.0,1211.0 1389.2,1210.6 1390.5,1212.0 1391.8,1211.7 1393.1,1212.9 1394.4,1214.0 1395.7,1213.7 1397.0,1213.2 1398.3,1214.2 1399.5,1213.8 1400.8,1214.4 1402.1,1212.7 1403.4,1214.3 1404.7,1211.7 1406.0,1212.1 1407.3,1212.3 1408.6,1214.1 1409.9,1214.4 1411.1,1215.6 1412.4,1217.2 1413.7,1216.9 1415.0,1217.4 1416.3,1215.2 1417.6,1215.1 1418.9,1212.6 1420.2,1213.2 1421.4,1214.7 1422.7,1216.0 1424.0,1217.0 1425.3,1215.5 1426.6,1214.9 1427.9,1216.5 1429.2,1218.3 1430.5,1217.8 1431.7,1218.7 1433.0,1216.5 1434.3,1217.5 1435.6,1214.8 1436.9,1215.1 1438.2,1214.7 1439.5,1216.4 1440.8,1218.1 1442.1,1218.8 1443.3,1218.2 1444.6,1217.4 1445.9,1216.9 1447.2,1216.9 1448.5,1217.4 1449.8,1217.3 1451.1,1218.0 1452.4,1217.9 1453.6,1220.4 1454.9,1221.1 1456.2,1222.2 1457.5,1221.8 1458.8,1221.8 1460.1,1222.7 1461.4,1222.0 1462.7,1221.6 1464.0,1222.1 1465.2,1223.2 1466.5,1224.0 1467.8,1222.1 1469.1,1222.5 1470.4,1222.3 1471.7,1226.2 1473.0,1225.4 1474.3,1226.0 1475.5,1224.6 1476.8,1223.4 1478.1,1222.7 1479.4,1221.8 1480.7,1223.3 1482.0,1223.8 1483.3,1224.1 1484.6,1222.5 1485.8,1220.6 1487.1,1221.4 1488.4,1221.9 1489.7,1221.7 1491.0,1219.9" fill="none" stroke="#fc8d6d" stroke-width="3" stroke-linejoin="round"/><rect x="1350.6" y="1196" width="140.4" height="130.3" fill="none" stroke="#222" stroke-width="1.2"/><line x1="1345.6" y1="1210.9" x2="1350.6" y2="1210.9" stroke="#222" stroke-width="1.2"/><text x="1339.6" y="1219.2" font-size="24" text-anchor="end" textLength="13.1" lengthAdjust="spacingAndGlyphs">0</text><line x1="1345.6" y1="1252.5" x2="1350.6" y2="1252.5" stroke="#222" stroke-width="1.2"/><text x="1339.6" y="1260.8" font-size="24" text-anchor="end" textLength="38.7" lengthAdjust="spacingAndGlyphs">−10</text><line x1="1345.6" y1="1294.0" x2="1350.6" y2="1294.0" stroke="#222" stroke-width="1.2"/><text x="1339.6" y="1302.3" font-size="24" text-anchor="end" textLength="38.7" lengthAdjust="spacingAndGlyphs">−20</text><line x1="1350.6" y1="1326.3" x2="1350.6" y2="1332.3" stroke="#222" stroke-width="1.3"/><line x1="1420.8" y1="1326.3" x2="1420.8" y2="1332.3" stroke="#222" stroke-width="1.3"/><line x1="1491.0" y1="1326.3" x2="1491.0" y2="1332.3" stroke="#222" stroke-width="1.3"/><text x="1350.6" y="1356.5" font-size="24" text-anchor="middle" textLength="45.0" lengthAdjust="spacingAndGlyphs">−2.0</text><text x="1420.8" y="1356.5" font-size="24" text-anchor="middle" textLength="71.0" lengthAdjust="spacingAndGlyphs">Centre</text><text x="1493.0" y="1356.5" font-size="24" text-anchor="middle" textLength="32.9" lengthAdjust="spacingAndGlyphs">2.0</text><polyline points="1548.4,1216.7 1549.7,1216.0 1551.0,1213.6 1552.3,1213.4 1553.5,1211.6 1554.8,1210.9 1556.1,1210.8 1557.4,1214.3 1558.7,1216.2 1560.0,1216.3 1561.2,1215.6 1562.5,1215.4 1563.8,1217.2 1565.1,1217.8 1566.4,1219.5 1567.7,1218.5 1568.9,1219.9 1570.2,1221.3 1571.5,1223.6 1572.8,1224.3 1574.1,1223.9 1575.4,1223.9 1576.6,1225.3 1577.9,1226.3 1579.2,1226.7 1580.5,1226.4 1581.8,1227.1 1583.1,1228.5 1584.3,1231.7 1585.6,1232.8 1586.9,1234.3 1588.2,1234.2 1589.5,1235.2 1590.8,1237.2 1592.0,1239.4 1593.3,1241.7 1594.6,1243.9 1595.9,1245.9 1597.2,1247.8 1598.5,1251.1 1599.7,1254.2 1601.0,1258.9 1602.3,1260.9 1603.6,1264.7 1604.9,1267.6 1606.2,1272.9 1607.4,1279.2 1608.7,1283.5 1610.0,1288.3 1611.3,1294.7 1612.6,1300.1 1613.9,1304.6 1615.1,1307.8 1616.4,1311.8 1617.7,1317.6 1619.0,1317.8 1620.3,1315.3 1621.6,1309.8 1622.8,1305.3 1624.1,1300.0 1625.4,1294.9 1626.7,1286.7 1628.0,1281.8 1629.3,1275.5 1630.5,1270.5 1631.8,1262.8 1633.1,1259.7 1634.4,1256.2 1635.7,1254.0 1637.0,1251.4 1638.2,1249.9 1639.5,1247.2 1640.8,1245.3 1642.1,1241.6 1643.4,1238.6 1644.7,1234.4 1645.9,1233.3 1647.2,1232.1 1648.5,1230.8 1649.8,1229.6 1651.1,1230.0 1652.4,1228.3 1653.6,1227.4 1654.9,1227.0 1656.2,1228.0 1657.5,1226.5 1658.8,1224.8 1660.1,1222.4 1661.3,1223.0 1662.6,1221.3 1663.9,1220.9 1665.2,1220.2 1666.5,1221.1 1667.8,1220.7 1669.0,1219.4 1670.3,1219.1 1671.6,1220.7 1672.9,1219.0 1674.2,1217.1 1675.5,1214.8 1676.7,1215.1 1678.0,1215.4 1679.3,1213.3 1680.6,1214.3 1681.9,1212.2 1683.2,1213.8 1684.4,1213.4 1685.7,1213.9 1687.0,1213.0 1688.3,1211.2" fill="none" stroke="#20b2a5" stroke-width="3" stroke-linejoin="round"/><polyline points="1548.4,1210.7 1549.7,1212.6 1551.0,1209.7 1552.3,1210.1 1553.5,1207.6 1554.8,1207.6 1556.1,1206.0 1557.4,1206.2 1558.7,1205.4 1560.0,1205.3 1561.2,1204.6 1562.5,1206.2 1563.8,1207.6 1565.1,1206.3 1566.4,1206.5 1567.7,1205.4 1568.9,1208.1 1570.2,1207.7 1571.5,1206.1 1572.8,1206.1 1574.1,1205.9 1575.4,1208.6 1576.6,1206.5 1577.9,1205.2 1579.2,1203.4 1580.5,1206.2 1581.8,1207.7 1583.1,1211.4 1584.3,1211.7 1585.6,1212.4 1586.9,1210.6 1588.2,1209.8 1589.5,1210.4 1590.8,1210.6 1592.0,1212.2 1593.3,1212.3 1594.6,1214.2 1595.9,1213.4 1597.2,1213.5 1598.5,1212.4 1599.7,1213.4 1601.0,1215.6 1602.3,1216.4 1603.6,1215.7 1604.9,1215.7 1606.2,1215.4 1607.4,1217.0 1608.7,1215.7 1610.0,1214.7 1611.3,1214.3 1612.6,1213.3 1613.9,1215.2 1615.1,1214.6 1616.4,1217.6 1617.7,1216.3 1619.0,1215.7 1620.3,1212.5 1621.6,1211.6 1622.8,1212.2 1624.1,1213.2 1625.4,1214.4 1626.7,1214.5 1628.0,1213.9 1629.3,1214.5 1630.5,1213.2 1631.8,1214.6 1633.1,1212.1 1634.4,1212.8 1635.7,1212.3 1637.0,1213.2 1638.2,1211.9 1639.5,1210.1 1640.8,1209.4 1642.1,1207.8 1643.4,1207.9 1644.7,1207.4 1645.9,1207.5 1647.2,1206.7 1648.5,1205.3 1649.8,1205.5 1651.1,1205.1 1652.4,1205.6 1653.6,1206.3 1654.9,1207.2 1656.2,1208.2 1657.5,1208.0 1658.8,1208.2 1660.1,1208.7 1661.3,1210.5 1662.6,1210.8 1663.9,1209.1 1665.2,1209.3 1666.5,1211.0 1667.8,1210.5 1669.0,1209.9 1670.3,1212.6 1671.6,1213.6 1672.9,1213.0 1674.2,1209.0 1675.5,1210.3 1676.7,1211.7 1678.0,1212.3 1679.3,1214.7 1680.6,1213.9 1681.9,1215.0 1683.2,1213.0 1684.4,1214.5 1685.7,1214.6 1687.0,1215.3 1688.3,1214.7" fill="none" stroke="#fc8d6d" stroke-width="3" stroke-linejoin="round"/><rect x="1548.4" y="1196" width="139.9" height="130.3" fill="none" stroke="#222" stroke-width="1.2"/><line x1="1543.4" y1="1210.9" x2="1548.4" y2="1210.9" stroke="#222" stroke-width="1.2"/><text x="1537.4" y="1219.2" font-size="24" text-anchor="end" textLength="13.1" lengthAdjust="spacingAndGlyphs">0</text><line x1="1543.4" y1="1252.5" x2="1548.4" y2="1252.5" stroke="#222" stroke-width="1.2"/><text x="1537.4" y="1260.8" font-size="24" text-anchor="end" textLength="38.7" lengthAdjust="spacingAndGlyphs">−10</text><line x1="1543.4" y1="1294.0" x2="1548.4" y2="1294.0" stroke="#222" stroke-width="1.2"/><text x="1537.4" y="1302.3" font-size="24" text-anchor="end" textLength="38.7" lengthAdjust="spacingAndGlyphs">−20</text><line x1="1548.4" y1="1326.3" x2="1548.4" y2="1332.3" stroke="#222" stroke-width="1.3"/><line x1="1618.3" y1="1326.3" x2="1618.3" y2="1332.3" stroke="#222" stroke-width="1.3"/><line x1="1688.3" y1="1326.3" x2="1688.3" y2="1332.3" stroke="#222" stroke-width="1.3"/><text x="1548.4" y="1356.5" font-size="24" text-anchor="middle" textLength="45.0" lengthAdjust="spacingAndGlyphs">−2.0</text><text x="1618.3" y="1356.5" font-size="24" text-anchor="middle" textLength="71.0" lengthAdjust="spacingAndGlyphs">Centre</text><text x="1695.0" y="1356.5" font-size="24" text-anchor="middle" textLength="32.9" lengthAdjust="spacingAndGlyphs">2.0</text><polyline points="1751.6,1244.2 1752.9,1245.0 1754.1,1246.6 1755.4,1246.1 1756.7,1245.3 1757.9,1244.6 1759.2,1244.5 1760.5,1245.5 1761.7,1246.2 1763.0,1246.4 1764.3,1246.1 1765.5,1246.8 1766.8,1245.8 1768.1,1246.1 1769.4,1246.4 1770.6,1248.4 1771.9,1249.0 1773.2,1249.7 1774.4,1249.1 1775.7,1247.9 1777.0,1247.6 1778.2,1248.0 1779.5,1248.6 1780.8,1246.9 1782.0,1247.1 1783.3,1246.2 1784.6,1247.4 1785.8,1247.7 1787.1,1249.2 1788.4,1248.4 1789.6,1247.6 1790.9,1246.7 1792.2,1247.6 1793.4,1248.2 1794.7,1249.4 1796.0,1249.2 1797.2,1249.4 1798.5,1249.5 1799.8,1250.9 1801.0,1252.2 1802.3,1252.2 1803.6,1251.5 1804.9,1249.6 1806.1,1250.0 1807.4,1251.6 1808.7,1255.5 1809.9,1258.4 1811.2,1258.8 1812.5,1261.0 1813.7,1264.7 1815.0,1268.1 1816.3,1270.4 1817.5,1271.0 1818.8,1273.9 1820.1,1277.4 1821.3,1276.3 1822.6,1274.0 1823.9,1271.2 1825.1,1271.2 1826.4,1270.6 1827.7,1268.5 1828.9,1265.2 1830.2,1260.5 1831.5,1258.1 1832.7,1253.3 1834.0,1248.5 1835.3,1247.2 1836.5,1248.6 1837.8,1249.5 1839.1,1248.9 1840.4,1249.9 1841.6,1251.7 1842.9,1250.9 1844.2,1247.6 1845.4,1246.4 1846.7,1246.8 1848.0,1248.0 1849.2,1247.6 1850.5,1247.6 1851.8,1247.0 1853.0,1247.5 1854.3,1247.5 1855.6,1249.4 1856.8,1248.4 1858.1,1249.4 1859.4,1247.9 1860.6,1248.6 1861.9,1248.4 1863.2,1248.4 1864.4,1247.4 1865.7,1245.6 1867.0,1244.7 1868.2,1245.2 1869.5,1243.0 1870.8,1242.5 1872.0,1242.2 1873.3,1243.6 1874.6,1245.3 1875.9,1246.4 1877.1,1247.2 1878.4,1246.7 1879.7,1245.8 1880.9,1245.5 1882.2,1245.3 1883.5,1245.2 1884.7,1245.1 1886.0,1244.8 1887.3,1244.6 1888.5,1244.2 1889.8,1244.1" fill="none" stroke="#20b2a5" stroke-width="3" stroke-linejoin="round"/><polyline points="1751.6,1209.8 1752.9,1209.9 1754.1,1208.7 1755.4,1209.7 1756.7,1210.5 1757.9,1211.3 1759.2,1211.2 1760.5,1212.0 1761.7,1213.9 1763.0,1214.7 1764.3,1215.7 1765.5,1213.9 1766.8,1213.5 1768.1,1214.9 1769.4,1214.9 1770.6,1213.4 1771.9,1211.2 1773.2,1210.5 1774.4,1210.8 1775.7,1210.4 1777.0,1212.6 1778.2,1213.8 1779.5,1213.7 1780.8,1212.8 1782.0,1212.4 1783.3,1213.6 1784.6,1215.1 1785.8,1215.2 1787.1,1213.9 1788.4,1213.0 1789.6,1214.2 1790.9,1215.2 1792.2,1215.9 1793.4,1215.8 1794.7,1215.5 1796.0,1216.1 1797.2,1215.9 1798.5,1215.8 1799.8,1215.0 1801.0,1212.4 1802.3,1211.4 1803.6,1209.9 1804.9,1211.1 1806.1,1211.8 1807.4,1213.5 1808.7,1214.6 1809.9,1215.2 1811.2,1216.1 1812.5,1215.0 1813.7,1214.5 1815.0,1214.6 1816.3,1215.9 1817.5,1216.2 1818.8,1215.1 1820.1,1215.7 1821.3,1216.2 1822.6,1216.3 1823.9,1216.5 1825.1,1216.8 1826.4,1217.4 1827.7,1218.2 1828.9,1217.0 1830.2,1216.8 1831.5,1216.2 1832.7,1218.3 1834.0,1219.3 1835.3,1218.8 1836.5,1217.9 1837.8,1217.4 1839.1,1217.4 1840.4,1217.3 1841.6,1218.0 1842.9,1218.5 1844.2,1218.4 1845.4,1218.1 1846.7,1217.7 1848.0,1220.2 1849.2,1219.2 1850.5,1220.7 1851.8,1218.6 1853.0,1220.4 1854.3,1221.0 1855.6,1223.4 1856.8,1223.4 1858.1,1223.8 1859.4,1221.8 1860.6,1222.3 1861.9,1222.2 1863.2,1224.2 1864.4,1224.0 1865.7,1225.1 1867.0,1223.1 1868.2,1224.2 1869.5,1223.0 1870.8,1224.9 1872.0,1224.4 1873.3,1222.8 1874.6,1223.4 1875.9,1223.3 1877.1,1227.1 1878.4,1226.9 1879.7,1227.0 1880.9,1226.4 1882.2,1227.1 1883.5,1227.2 1884.7,1226.1 1886.0,1225.9 1887.3,1225.7 1888.5,1226.0 1889.8,1225.9" fill="none" stroke="#fc8d6d" stroke-width="3" stroke-linejoin="round"/><rect x="1751.6" y="1196" width="138.2" height="130.3" fill="none" stroke="#222" stroke-width="1.2"/><line x1="1746.6" y1="1210.0" x2="1751.6" y2="1210.0" stroke="#222" stroke-width="1.2"/><text x="1740.6" y="1218.3" font-size="24" text-anchor="end" textLength="13.1" lengthAdjust="spacingAndGlyphs">0</text><line x1="1746.6" y1="1242.7" x2="1751.6" y2="1242.7" stroke="#222" stroke-width="1.2"/><text x="1740.6" y="1251.0" font-size="24" text-anchor="end" textLength="38.7" lengthAdjust="spacingAndGlyphs">−10</text><line x1="1746.6" y1="1275.3" x2="1751.6" y2="1275.3" stroke="#222" stroke-width="1.2"/><text x="1740.6" y="1283.6" font-size="24" text-anchor="end" textLength="38.7" lengthAdjust="spacingAndGlyphs">−20</text><line x1="1746.6" y1="1308.0" x2="1751.6" y2="1308.0" stroke="#222" stroke-width="1.2"/><text x="1740.6" y="1316.3" font-size="24" text-anchor="end" textLength="38.7" lengthAdjust="spacingAndGlyphs">−30</text><line x1="1751.6" y1="1326.3" x2="1751.6" y2="1332.3" stroke="#222" stroke-width="1.3"/><line x1="1820.7" y1="1326.3" x2="1820.7" y2="1332.3" stroke="#222" stroke-width="1.3"/><line x1="1889.8" y1="1326.3" x2="1889.8" y2="1332.3" stroke="#222" stroke-width="1.3"/><text x="1751.6" y="1356.5" font-size="24" text-anchor="middle" textLength="45.0" lengthAdjust="spacingAndGlyphs">−2.0</text><text x="1820.7" y="1356.5" font-size="24" text-anchor="middle" textLength="71.0" lengthAdjust="spacingAndGlyphs">Centre</text><text x="1888.8" y="1356.5" font-size="24" text-anchor="middle" textLength="32.9" lengthAdjust="spacingAndGlyphs">2.0</text><polyline points="1946.5,1249.0 1947.8,1248.0 1949.0,1246.7 1950.3,1246.5 1951.6,1246.6 1952.8,1246.5 1954.1,1246.4 1955.4,1246.1 1956.6,1248.6 1957.9,1250.4 1959.2,1252.7 1960.4,1253.4 1961.7,1251.5 1963.0,1251.5 1964.2,1251.9 1965.5,1252.8 1966.8,1253.8 1968.0,1252.5 1969.3,1253.2 1970.6,1252.8 1971.8,1253.5 1973.1,1254.1 1974.4,1254.3 1975.6,1255.4 1976.9,1254.6 1978.2,1254.0 1979.4,1254.7 1980.7,1256.3 1982.0,1257.5 1983.2,1256.6 1984.5,1256.7 1985.8,1257.3 1987.0,1258.9 1988.3,1260.8 1989.6,1263.2 1990.8,1265.3 1992.1,1267.1 1993.4,1269.3 1994.6,1271.1 1995.9,1273.7 1997.2,1275.8 1998.4,1278.3 1999.7,1280.2 2001.0,1284.1 2002.2,1286.3 2003.5,1290.1 2004.8,1291.7 2006.0,1296.4 2007.3,1299.9 2008.6,1304.2 2009.8,1307.5 2011.1,1309.1 2012.4,1309.9 2013.6,1311.7 2014.9,1314.5 2016.2,1315.3 2017.5,1312.4 2018.7,1308.8 2020.0,1304.7 2021.3,1301.0 2022.5,1298.1 2023.8,1294.4 2025.1,1291.0 2026.3,1287.5 2027.6,1283.8 2028.9,1279.5 2030.1,1275.9 2031.4,1271.6 2032.7,1268.5 2033.9,1265.8 2035.2,1265.6 2036.5,1265.0 2037.7,1262.8 2039.0,1259.3 2040.3,1256.6 2041.5,1254.9 2042.8,1253.5 2044.1,1251.4 2045.3,1251.4 2046.6,1252.4 2047.9,1252.8 2049.1,1252.0 2050.4,1248.9 2051.7,1248.8 2052.9,1248.8 2054.2,1249.8 2055.5,1249.6 2056.7,1250.2 2058.0,1249.7 2059.3,1249.1 2060.5,1248.2 2061.8,1247.1 2063.1,1245.9 2064.3,1245.6 2065.6,1246.6 2066.9,1247.7 2068.1,1247.3 2069.4,1246.1 2070.7,1244.3 2071.9,1244.1 2073.2,1244.4 2074.5,1244.9 2075.7,1244.6 2077.0,1244.9 2078.3,1244.5 2079.5,1242.9 2080.8,1241.1 2082.1,1240.5 2083.3,1241.8 2084.6,1241.8" fill="none" stroke="#20b2a5" stroke-width="3" stroke-linejoin="round"/><polyline points="1946.5,1204.4 1947.8,1206.1 1949.0,1206.2 1950.3,1206.9 1951.6,1206.3 1952.8,1206.9 1954.1,1207.8 1955.4,1208.3 1956.6,1210.7 1957.9,1212.4 1959.2,1215.1 1960.4,1215.5 1961.7,1213.3 1963.0,1210.5 1964.2,1209.9 1965.5,1209.3 1966.8,1209.8 1968.0,1208.2 1969.3,1207.7 1970.6,1206.9 1971.8,1206.9 1973.1,1206.7 1974.4,1207.2 1975.6,1206.4 1976.9,1207.4 1978.2,1207.6 1979.4,1209.7 1980.7,1209.5 1982.0,1209.3 1983.2,1207.8 1984.5,1208.0 1985.8,1207.1 1987.0,1208.4 1988.3,1207.2 1989.6,1206.8 1990.8,1206.5 1992.1,1206.0 1993.4,1207.5 1994.6,1207.7 1995.9,1209.0 1997.2,1208.8 1998.4,1208.8 1999.7,1207.5 2001.0,1207.4 2002.2,1206.0 2003.5,1207.7 2004.8,1208.8 2006.0,1209.8 2007.3,1210.1 2008.6,1210.0 2009.8,1209.4 2011.1,1208.6 2012.4,1209.2 2013.6,1209.1 2014.9,1210.0 2016.2,1208.5 2017.5,1210.1 2018.7,1210.3 2020.0,1212.3 2021.3,1212.4 2022.5,1212.3 2023.8,1211.4 2025.1,1211.2 2026.3,1212.9 2027.6,1214.1 2028.9,1215.2 2030.1,1212.9 2031.4,1212.3 2032.7,1212.8 2033.9,1214.0 2035.2,1215.7 2036.5,1215.6 2037.7,1215.9 2039.0,1215.6 2040.3,1216.4 2041.5,1217.6 2042.8,1218.3 2044.1,1218.7 2045.3,1219.3 2046.6,1220.1 2047.9,1220.9 2049.1,1221.5 2050.4,1221.0 2051.7,1220.9 2052.9,1222.1 2054.2,1222.1 2055.5,1222.1 2056.7,1220.6 2058.0,1221.3 2059.3,1222.3 2060.5,1222.7 2061.8,1222.7 2063.1,1222.2 2064.3,1223.5 2065.6,1223.3 2066.9,1223.9 2068.1,1223.9 2069.4,1222.4 2070.7,1222.9 2071.9,1222.8 2073.2,1225.6 2074.5,1225.5 2075.7,1226.7 2077.0,1225.9 2078.3,1225.7 2079.5,1224.2 2080.8,1223.6 2082.1,1224.2 2083.3,1224.9 2084.6,1226.2" fill="none" stroke="#fc8d6d" stroke-width="3" stroke-linejoin="round"/><rect x="1946.5" y="1196" width="138.1" height="130.3" fill="none" stroke="#222" stroke-width="1.2"/><line x1="1941.5" y1="1210.0" x2="1946.5" y2="1210.0" stroke="#222" stroke-width="1.2"/><text x="1935.5" y="1218.3" font-size="24" text-anchor="end" textLength="13.1" lengthAdjust="spacingAndGlyphs">0</text><line x1="1941.5" y1="1242.7" x2="1946.5" y2="1242.7" stroke="#222" stroke-width="1.2"/><text x="1935.5" y="1251.0" font-size="24" text-anchor="end" textLength="38.7" lengthAdjust="spacingAndGlyphs">−10</text><line x1="1941.5" y1="1275.3" x2="1946.5" y2="1275.3" stroke="#222" stroke-width="1.2"/><text x="1935.5" y="1283.6" font-size="24" text-anchor="end" textLength="38.7" lengthAdjust="spacingAndGlyphs">−20</text><line x1="1941.5" y1="1308.0" x2="1946.5" y2="1308.0" stroke="#222" stroke-width="1.2"/><text x="1935.5" y="1316.3" font-size="24" text-anchor="end" textLength="38.7" lengthAdjust="spacingAndGlyphs">−30</text><line x1="1946.5" y1="1326.3" x2="1946.5" y2="1332.3" stroke="#222" stroke-width="1.3"/><line x1="2015.5" y1="1326.3" x2="2015.5" y2="1332.3" stroke="#222" stroke-width="1.3"/><line x1="2084.6" y1="1326.3" x2="2084.6" y2="1332.3" stroke="#222" stroke-width="1.3"/><text x="1946.5" y="1356.5" font-size="24" text-anchor="middle" textLength="45.0" lengthAdjust="spacingAndGlyphs">−2.0</text><text x="2015.5" y="1356.5" font-size="24" text-anchor="middle" textLength="71.0" lengthAdjust="spacingAndGlyphs">Centre</text><text x="2070.8" y="1356.5" font-size="24" textLength="64.4" lengthAdjust="spacingAndGlyphs">2.0 kb</text><g filter="url(#hmF)" clip-path="url(#hc21)"><rect x="1350.6" y="1369" width="140.4000000000001" height="363.79999999999995" fill="url(#hg21)"/><path d="M1420.8,1630.9 L1454.8,1736.8 L1386.8,1736.8Z" fill="black" fill-opacity="0.180" filter="url(#blur10)"/><path d="M1420.8,1689.1 L1442.8,1736.8 L1398.8,1736.8Z" fill="black" fill-opacity="0.300" filter="url(#blur6)"/></g><rect x="1350.6" y="1369" width="140.4000000000001" height="363.79999999999995" fill="none" stroke="#111" stroke-width="1.3"/><g filter="url(#hmF)" clip-path="url(#hc22)"><rect x="1350.6" y="1738.7" width="140.4000000000001" height="364.29999999999995" fill="url(#hg22)"/></g><rect x="1350.6" y="1738.7" width="140.4000000000001" height="364.29999999999995" fill="none" stroke="#111" stroke-width="1.3"/><text transform="translate(1342.1,1550.9) rotate(-90)" x="0" y="0" font-size="24" text-anchor="middle" textLength="187.0" lengthAdjust="spacingAndGlyphs">ZF off-target sites</text><text transform="translate(1342.1,1920.8) rotate(-90)" x="0" y="0" font-size="24" text-anchor="middle" textLength="278.3" lengthAdjust="spacingAndGlyphs">ZF off-target shuffled sites</text><line x1="1350.6" y1="2103.0" x2="1350.6" y2="2111.0" stroke="#222" stroke-width="1.3"/><line x1="1420.8" y1="2103.0" x2="1420.8" y2="2111.0" stroke="#222" stroke-width="1.3"/><line x1="1491.0" y1="2103.0" x2="1491.0" y2="2111.0" stroke="#222" stroke-width="1.3"/><text x="1350.6" y="2135.5" font-size="24" text-anchor="middle" textLength="45.0" lengthAdjust="spacingAndGlyphs">−2.0</text><text x="1420.8" y="2135.5" font-size="24" text-anchor="middle" textLength="71.0" lengthAdjust="spacingAndGlyphs">Centre</text><text x="1493.0" y="2135.5" font-size="24" text-anchor="middle" textLength="32.9" lengthAdjust="spacingAndGlyphs">2.0</text><g filter="url(#hmF)" clip-path="url(#hc23)"><rect x="1548.4" y="1369" width="139.89999999999986" height="363.79999999999995" fill="url(#hg23)"/><path d="M1618.3,1478.1 L1663.3,1736.8 L1573.3,1736.8Z" fill="black" fill-opacity="0.200" filter="url(#blur14)"/><path d="M1618.3,1605.5 L1648.3,1736.8 L1588.3,1736.8Z" fill="black" fill-opacity="0.300" filter="url(#blur10)"/><path d="M1618.3,1678.2 L1634.3,1736.8 L1602.3,1736.8Z" fill="black" fill-opacity="0.320" filter="url(#blur6)"/></g><rect x="1548.4" y="1369" width="139.89999999999986" height="363.79999999999995" fill="none" stroke="#111" stroke-width="1.3"/><g filter="url(#hmF)" clip-path="url(#hc24)"><rect x="1548.4" y="1738.7" width="139.89999999999986" height="364.29999999999995" fill="url(#hg24)"/></g><rect x="1548.4" y="1738.7" width="139.89999999999986" height="364.29999999999995" fill="none" stroke="#111" stroke-width="1.3"/><text transform="translate(1539.9,1550.9) rotate(-90)" x="0" y="0" font-size="24" text-anchor="middle" textLength="187.0" lengthAdjust="spacingAndGlyphs">ZF off-target sites</text><text transform="translate(1539.9,1920.8) rotate(-90)" x="0" y="0" font-size="24" text-anchor="middle" textLength="278.3" lengthAdjust="spacingAndGlyphs">ZF off-target shuffled sites</text><line x1="1548.4" y1="2103.0" x2="1548.4" y2="2111.0" stroke="#222" stroke-width="1.3"/><line x1="1618.3" y1="2103.0" x2="1618.3" y2="2111.0" stroke="#222" stroke-width="1.3"/><line x1="1688.3" y1="2103.0" x2="1688.3" y2="2111.0" stroke="#222" stroke-width="1.3"/><text x="1548.4" y="2135.5" font-size="24" text-anchor="middle" textLength="45.0" lengthAdjust="spacingAndGlyphs">−2.0</text><text x="1618.3" y="2135.5" font-size="24" text-anchor="middle" textLength="71.0" lengthAdjust="spacingAndGlyphs">Centre</text><text x="1695.0" y="2135.5" font-size="24" text-anchor="middle" textLength="32.9" lengthAdjust="spacingAndGlyphs">2.0</text><g filter="url(#hmF)" clip-path="url(#hc25)"><rect x="1751.6" y="1366.8" width="138.20000000000005" height="365.20000000000005" fill="url(#hg25)"/><path d="M1820.7,1531.1 L1850.7,1736.0 L1790.7,1736.0Z" fill="black" fill-opacity="0.120" filter="url(#blur10)"/></g><rect x="1751.6" y="1366.8" width="138.20000000000005" height="365.20000000000005" fill="none" stroke="#111" stroke-width="1.3"/><g filter="url(#hmF)" clip-path="url(#hc26)"><rect x="1751.6" y="1737" width="138.20000000000005" height="365" fill="url(#hg26)"/></g><rect x="1751.6" y="1737" width="138.20000000000005" height="365" fill="none" stroke="#111" stroke-width="1.3"/><text transform="translate(1743.1,1549.4) rotate(-90)" x="0" y="0" font-size="24" text-anchor="middle" textLength="187.0" lengthAdjust="spacingAndGlyphs">ZF off-target sites</text><text transform="translate(1743.1,1919.5) rotate(-90)" x="0" y="0" font-size="24" text-anchor="middle" textLength="278.3" lengthAdjust="spacingAndGlyphs">ZF off-target shuffled sites</text><line x1="1751.6" y1="2102.0" x2="1751.6" y2="2110.0" stroke="#222" stroke-width="1.3"/><line x1="1820.7" y1="2102.0" x2="1820.7" y2="2110.0" stroke="#222" stroke-width="1.3"/><line x1="1889.8" y1="2102.0" x2="1889.8" y2="2110.0" stroke="#222" stroke-width="1.3"/><text x="1751.6" y="2135.5" font-size="24" text-anchor="middle" textLength="45.0" lengthAdjust="spacingAndGlyphs">−2.0</text><text x="1820.7" y="2135.5" font-size="24" text-anchor="middle" textLength="71.0" lengthAdjust="spacingAndGlyphs">Centre</text><text x="1888.8" y="2135.5" font-size="24" text-anchor="middle" textLength="32.9" lengthAdjust="spacingAndGlyphs">2.0</text><g filter="url(#hmF)" clip-path="url(#hc27)"><rect x="1946.5" y="1366.8" width="138.0999999999999" height="365.20000000000005" fill="url(#hg27)"/><path d="M2015.5,1439.8 L2045.5,1736.0 L1985.5,1736.0Z" fill="black" fill-opacity="0.140" filter="url(#blur10)"/><path d="M2015.5,1567.7 L2035.5,1736.0 L1995.5,1736.0Z" fill="black" fill-opacity="0.180" filter="url(#blur8)"/><path d="M2015.5,1677.2 L2029.5,1736.0 L2001.5,1736.0Z" fill="black" fill-opacity="0.200" filter="url(#blur6)"/></g><rect x="1946.5" y="1366.8" width="138.0999999999999" height="365.20000000000005" fill="none" stroke="#111" stroke-width="1.3"/><g filter="url(#hmF)" clip-path="url(#hc28)"><rect x="1946.5" y="1737" width="138.0999999999999" height="365" fill="url(#hg28)"/></g><rect x="1946.5" y="1737" width="138.0999999999999" height="365" fill="none" stroke="#111" stroke-width="1.3"/><text transform="translate(1938.0,1549.4) rotate(-90)" x="0" y="0" font-size="24" text-anchor="middle" textLength="187.0" lengthAdjust="spacingAndGlyphs">ZF off-target sites</text><text transform="translate(1938.0,1919.5) rotate(-90)" x="0" y="0" font-size="24" text-anchor="middle" textLength="278.3" lengthAdjust="spacingAndGlyphs">ZF off-target shuffled sites</text><line x1="1946.5" y1="2102.0" x2="1946.5" y2="2110.0" stroke="#222" stroke-width="1.3"/><line x1="2015.5" y1="2102.0" x2="2015.5" y2="2110.0" stroke="#222" stroke-width="1.3"/><line x1="2084.6" y1="2102.0" x2="2084.6" y2="2110.0" stroke="#222" stroke-width="1.3"/><text x="1946.5" y="2135.5" font-size="24" text-anchor="middle" textLength="45.0" lengthAdjust="spacingAndGlyphs">−2.0</text><text x="2015.5" y="2135.5" font-size="24" text-anchor="middle" textLength="71.0" lengthAdjust="spacingAndGlyphs">Centre</text><text x="2072.0" y="2135.5" font-size="24" textLength="64.4" lengthAdjust="spacingAndGlyphs">2.0 kb</text><rect x="2098.3" y="1381.6" width="12.099999999999909" height="708.8000000000002" fill="url(#cb29)" stroke="#222" stroke-width="1"/><line x1="2110.4" y1="1381.6" x2="2115.4" y2="1381.6" stroke="#222" stroke-width="1.2"/><text x="2118.0" y="1389.4" font-size="24" textLength="39.4" lengthAdjust="spacingAndGlyphs">100</text><line x1="2110.4" y1="1470.2" x2="2115.4" y2="1470.2" stroke="#222" stroke-width="1.2"/><text x="2118.0" y="1478.0" font-size="24" textLength="26.3" lengthAdjust="spacingAndGlyphs">75</text><line x1="2110.4" y1="1558.8" x2="2115.4" y2="1558.8" stroke="#222" stroke-width="1.2"/><text x="2118.0" y="1566.6" font-size="24" textLength="26.3" lengthAdjust="spacingAndGlyphs">50</text><line x1="2110.4" y1="1647.4" x2="2115.4" y2="1647.4" stroke="#222" stroke-width="1.2"/><text x="2118.0" y="1655.2" font-size="24" textLength="26.3" lengthAdjust="spacingAndGlyphs">25</text><line x1="2110.4" y1="1736.0" x2="2115.4" y2="1736.0" stroke="#222" stroke-width="1.2"/><text x="2118.0" y="1743.8" font-size="24" textLength="13.1" lengthAdjust="spacingAndGlyphs">0</text><line x1="2110.4" y1="1824.6" x2="2115.4" y2="1824.6" stroke="#222" stroke-width="1.2"/><text x="2118.0" y="1832.4" font-size="24" textLength="38.7" lengthAdjust="spacingAndGlyphs">−25</text><line x1="2110.4" y1="1913.2" x2="2115.4" y2="1913.2" stroke="#222" stroke-width="1.2"/><text x="2118.0" y="1921.0" font-size="24" textLength="38.7" lengthAdjust="spacingAndGlyphs">−50</text><line x1="2110.4" y1="2001.8" x2="2115.4" y2="2001.8" stroke="#222" stroke-width="1.2"/><text x="2118.0" y="2009.6" font-size="24" textLength="38.7" lengthAdjust="spacingAndGlyphs">−75</text><line x1="2110.4" y1="2090.4" x2="2115.4" y2="2090.4" stroke="#222" stroke-width="1.2"/><text x="2118.0" y="2098.2" font-size="24" textLength="51.4" lengthAdjust="spacingAndGlyphs">−100</text><line x1="1434.5" y1="2161.5" x2="1477" y2="2161.5" stroke="#fc8d6d" stroke-width="5"/><text x="1485.0" y="2169.5" font-size="24" textLength="280.0" lengthAdjust="spacingAndGlyphs">ZF off-target shuffled sites</text><rect x="34" y="71" width="521.5" height="310.0" fill="none" stroke="#111" stroke-width="2.6"/><rect x="34" y="389" width="521.5" height="249.7" fill="none" stroke="#111" stroke-width="2.6"/><rect x="34" y="646.2" width="521.5" height="248.5" fill="none" stroke="#111" stroke-width="2.6"/><rect x="34" y="902.5" width="521.5" height="252.2" fill="none" stroke="#111" stroke-width="2.6"/><path d="M80,138.5V137.5H81V137.5H82V137.5H83V137.5H84V137.3H85V137.1H86V136.9H87V136.7H88V136.5H89V136.4H90V136.3H91V135.8H92V135.4H93V135.3H94V134.8H95V134.1H96V133.8H97V133.6H98V133.2H99V132.7H100V132.1H101V131.0H102V130.3H103V129.5H104V128.1H105V126.6H106V125.6H107V124.9H108V124.4H109V122.9H110V120.3H111V117.1H112V115.1H113V114.3H114V112.5H115V109.1H116V105.9H117V103.5H118V100.3H119V96.6H120V92.7H121V89.6H122V86.6H123V84.2H124V83.7H125V87.1H126V88.2H127V88.6H128V89.8H129V90.6H130V92.6H131V97.9H132V100.5H133V99.8H134V100.9H135V104.1H136V106.3H137V106.6H138V108.6H139V112.1H140V114.5H141V115.9H142V117.5H143V119.6H144V120.9H145V121.7H146V123.3H147V125.2H148V126.9H149V128.4H150V129.1H151V130.1H152V131.3H153V131.9H154V132.5H155V133.0H156V133.7H157V134.4H158V133.7H159V132.7H160V131.8H161V131.4H162V131.8H163V131.9H164V132.2H165V133.4H166V134.8H167V136.3H168V136.4H169V136.4H170V136.5H171V136.7H172V136.7H173V136.8H174V137.1H175V137.3H176V138.5Z" fill="#1a96f0"/><rect x="35.5" y="137.8" width="519" height="2.6" fill="#1b8fd6"/><text x="35.5" y="93.5" font-size="24.2" textLength="114.0" lengthAdjust="spacingAndGlyphs">(0–26,922)</text><text x="553.5" y="93.5" font-size="24.2" text-anchor="end" textLength="196.3" lengthAdjust="spacingAndGlyphs">FLAG-ZF ChIP–seq</text><path d="M34,196.3V196.3H36V196.3H38V196.3H40V196.3H42V196.3H44V196.3H46V194.7H48V193.0H50V191.0H52V188.1H54V189.0H56V189.9H58V190.3H60V192.0H62V192.2H64V190.8H66V191.5H68V191.0H70V191.2H72V190.7H74V192.9H76V194.0H78V194.8H80V194.8H82V193.8H84V191.2H86V189.1H88V188.1H90V186.2H92V186.6H94V187.7H96V196.3H98V196.3H100V196.3H102V196.3H104V196.3H106V196.3H108V196.3H110V196.3H112V196.3H114V196.3H116V193.0H118V192.4H120V190.3H122V188.0H124V184.7H126V181.9H128V180.4H130V177.7H132V173.6H134V171.3H136V171.4H138V167.5H140V160.9H142V161.2H144V162.4H146V160.1H148V163.5H150V166.5H152V160.3H154V154.5H156V156.8H158V159.4H160V153.9H162V146.3H164V146.6H166V148.0H168V155.3H170V167.3H172V170.6H174V172.3H176V176.9H178V177.1H180V178.9H182V181.5H184V183.5H186V188.0H188V191.0H190V191.8H192V190.5H194V190.5H196V190.1H198V189.7H200V190.4H202V191.3H204V191.2H206V191.2H208V189.0H210V189.6H212V188.8H214V189.8H216V191.6H218V191.9H220V190.9H222V192.5H224V191.8H226V193.7H228V192.2H230V190.0H232V191.0H234V188.2H236V188.8H238V188.6H240V187.3H242V189.3H244V189.8H246V193.1H248V194.5H250V194.8H252V194.6H254V194.5H256V194.8H258V191.7H260V193.2H262V191.8H264V192.6H266V191.6H268V190.5H270V189.3H272V186.3H274V187.4H276V186.4H278V187.1H280V189.1H282V191.3H284V192.1H286V191.2H288V191.3H290V190.2H292V189.0H294V188.0H296V189.8H298V188.5H300V191.1H302V191.7H304V191.5H306V192.3H308V193.3H310V194.7H312V194.8H314V194.2H316V192.6H318V190.4H320V188.8H322V190.7H324V190.4H326V190.2H328V190.4H330V192.3H332V193.5H334V192.3H336V189.9H338V187.9H340V188.5H342V190.0H344V190.2H346V191.3H348V192.7H350V193.8H352V192.5H354V193.7H356V190.7H358V192.0H360V189.3H362V189.3H364V189.3H366V190.6H368V190.1H370V189.8H372V187.4H374V185.9H376V184.7H378V186.0H380V186.8H382V189.1H384V189.0H386V191.2H388V191.1H390V192.8H392V192.1H394V192.5H396V192.7H398V193.6H400V194.8H402V193.9H404V196.3H406V196.3H408V196.3H410V192.6H412V191.6H414V191.7H416V193.9H418V192.9H420V193.6H422V193.8H424V193.9H426V193.7H428V193.0H430V192.8H432V192.0H434V191.4H436V190.2H438V187.9H440V189.7H442V190.9H444V192.7H446V193.5H448V193.8H450V192.1H452V192.4H454V192.2H456V193.5H458V194.1H460V193.4H462V193.1H464V190.7H466V190.6H468V191.4H470V193.1H472V194.8H474V194.8H476V194.8H478V194.8H480V194.8H482V193.9H484V193.2H486V194.0H488V192.8H490V191.9H492V192.6H494V191.7H496V192.1H498V191.3H500V189.9H502V190.5H504V191.2H506V191.5H508V192.7H510V194.2H512V194.8H514V194.1H516V194.8H518V194.4H520V193.7H522V190.8H524V189.4H526V189.0H528V189.0H530V192.8H532V192.7H534V194.7H536V194.6H538V192.9H540V191.4H542V191.2H544V192.1H546V192.2H548V191.2H550V193.2H552V194.0H554V196.3Z" fill="#00a096"/><text x="36.2" y="156.9" font-size="24.2" textLength="77.6" lengthAdjust="spacingAndGlyphs">(0–618)</text><text x="547.5" y="161.3" font-size="24.2" text-anchor="end" textLength="36.0" lengthAdjust="spacingAndGlyphs" font-style="italic">fwa</text><path d="M34,257.3V255.1H36V253.5H38V253.9H40V254.4H42V254.2H44V253.5H46V253.3H48V254.1H50V253.8H52V251.9H54V252.4H56V251.5H58V251.1H60V253.9H62V255.7H64V255.8H66V255.8H68V254.8H70V253.2H72V253.2H74V252.1H76V251.5H78V251.5H80V252.8H82V251.8H84V249.6H86V250.3H88V252.2H90V254.1H92V255.8H94V255.8H96V255.3H98V253.3H100V250.0H102V249.6H104V248.7H106V250.1H108V251.4H110V254.2H112V255.1H114V254.9H116V254.0H118V253.2H120V247.5H122V243.7H124V241.3H126V238.3H128V237.0H130V237.7H132V238.5H134V237.3H136V235.8H138V233.5H140V231.7H142V232.0H144V232.2H146V230.2H148V231.4H150V235.0H152V229.2H154V222.7H156V228.6H158V235.0H160V235.9H162V236.9H164V238.0H166V237.6H168V237.9H170V238.9H172V241.6H174V243.4H176V244.3H178V244.8H180V243.8H182V242.7H184V241.6H186V241.7H188V242.6H190V243.4H192V244.6H194V246.5H196V247.4H198V249.8H200V251.5H202V251.5H204V251.2H206V254.3H208V253.4H210V252.0H212V252.3H214V253.6H216V254.6H218V253.8H220V254.2H222V252.7H224V251.4H226V251.8H228V252.1H230V253.1H232V253.9H234V255.5H236V255.8H238V255.8H240V255.7H242V254.7H244V253.5H246V254.2H248V254.9H250V257.3H252V257.3H254V257.3H256V257.3H258V253.1H260V253.1H262V255.4H264V257.3H266V257.3H268V257.3H270V254.4H272V253.9H274V252.3H276V252.6H278V251.7H280V252.4H282V254.9H284V254.9H286V254.4H288V254.8H290V253.5H292V254.4H294V254.2H296V253.5H298V253.1H300V254.2H302V254.5H304V255.8H306V255.8H308V255.8H310V255.8H312V255.8H314V254.3H316V252.9H318V252.5H320V253.8H322V253.2H324V253.4H326V253.2H328V254.7H330V255.8H332V255.8H334V255.8H336V255.8H338V254.8H340V255.0H342V254.9H344V253.7H346V253.9H348V252.4H350V252.4H352V252.3H354V253.1H356V253.7H358V255.8H360V255.3H362V255.1H364V254.7H366V253.7H368V252.4H370V251.3H372V251.8H374V251.3H376V252.9H378V253.1H380V254.5H382V255.7H384V255.1H386V255.8H388V255.8H390V255.8H392V255.2H394V254.6H396V253.8H398V253.5H400V252.4H402V254.5H404V253.5H406V252.4H408V254.7H410V255.8H412V255.8H414V255.8H416V255.8H418V253.4H420V253.6H422V251.9H424V250.0H426V250.7H428V251.5H430V253.3H432V254.2H434V255.8H436V255.7H438V255.1H440V253.7H442V253.0H444V252.3H446V253.3H448V254.6H450V255.1H452V255.8H454V255.8H456V255.8H458V255.8H460V255.8H462V255.4H464V255.8H466V255.0H468V254.2H470V253.1H472V251.8H474V252.2H476V252.6H478V252.1H480V253.1H482V253.1H484V254.2H486V257.3H488V257.3H490V257.3H492V257.3H494V257.3H496V257.3H498V257.3H500V252.6H502V252.8H504V255.1H506V255.8H508V255.8H510V255.8H512V255.8H514V255.8H516V255.8H518V255.8H520V255.3H522V255.0H524V253.7H526V253.3H528V253.0H530V253.9H532V254.8H534V255.8H536V255.8H538V255.0H540V252.9H542V252.3H544V251.5H546V253.1H548V253.7H550V254.0H552V255.2H554V257.3Z" fill="#00a096"/><text x="36.2" y="217.9" font-size="24.2" textLength="77.6" lengthAdjust="spacingAndGlyphs">(0–618)</text><text x="549.0" y="221.7" font-size="24.2" text-anchor="end" textLength="91.2" lengthAdjust="spacingAndGlyphs">HD2A-ZF</text><path d="M34,317.8V314.3H36V313.6H38V312.6H40V312.8H42V312.7H44V313.5H46V313.2H48V311.3H50V310.6H52V311.8H54V314.3H56V316.3H58V316.3H60V314.9H62V312.9H64V310.4H66V308.9H68V310.0H70V313.2H72V312.9H74V313.1H76V315.5H78V316.1H80V315.4H82V316.3H84V313.7H86V314.7H88V314.4H90V317.8H92V317.8H94V317.8H96V317.8H98V316.0H100V316.3H102V316.3H104V316.3H106V316.3H108V316.3H110V316.0H112V314.3H114V312.5H116V310.9H118V309.1H120V307.5H122V305.2H124V303.1H126V301.2H128V299.9H130V295.6H132V290.2H134V290.4H136V289.1H138V284.5H140V287.9H142V291.6H144V287.6H146V289.1H148V288.9H150V285.6H152V281.3H154V285.8H156V293.5H158V295.5H160V295.8H162V296.4H164V297.3H166V300.4H168V302.6H170V301.7H172V302.2H174V302.8H176V303.5H178V305.6H180V307.0H182V308.4H184V309.6H186V309.5H188V309.7H190V310.9H192V311.8H194V311.9H196V312.1H198V313.1H200V313.2H202V312.4H204V312.1H206V311.9H208V311.5H210V311.7H212V312.1H214V312.9H216V312.6H218V312.0H220V312.7H222V313.6H224V313.4H226V309.4H228V309.8H230V309.5H232V309.7H234V309.0H236V308.9H238V310.9H240V313.2H242V315.8H244V314.9H246V314.4H248V312.5H250V312.3H252V311.6H254V313.4H256V312.9H258V314.9H260V315.7H262V315.7H264V315.5H266V314.5H268V315.2H270V313.5H272V312.0H274V312.2H276V313.4H278V312.1H280V317.8H282V317.8H284V312.8H286V314.2H288V316.1H290V317.8H292V317.8H294V317.8H296V313.4H298V311.8H300V314.4H302V313.7H304V314.2H306V315.5H308V316.2H310V315.9H312V315.4H314V313.5H316V312.4H318V312.2H320V312.8H322V313.6H324V315.4H326V315.8H328V313.6H330V313.0H332V310.9H334V311.3H336V312.1H338V312.3H340V312.5H342V314.5H344V312.0H346V312.5H348V314.9H350V316.3H352V316.3H354V316.3H356V316.3H358V316.3H360V315.5H362V314.5H364V315.5H366V315.0H368V315.5H370V314.8H372V315.2H374V313.9H376V314.4H378V314.4H380V316.3H382V316.3H384V316.3H386V314.7H388V313.3H390V313.2H392V312.9H394V312.7H396V314.1H398V312.8H400V315.2H402V315.1H404V313.7H406V313.2H408V311.6H410V311.1H412V312.2H414V313.5H416V316.3H418V316.3H420V316.3H422V316.3H424V315.7H426V315.4H428V315.2H430V315.7H432V314.6H434V314.0H436V312.1H438V311.1H440V312.3H442V313.4H444V313.9H446V315.7H448V315.8H450V316.2H452V313.8H454V314.7H456V314.0H458V312.8H460V315.7H462V314.5H464V313.7H466V313.1H468V311.6H470V313.9H472V312.8H474V314.0H476V314.5H478V316.3H480V315.3H482V311.0H484V311.9H486V310.0H488V311.1H490V316.3H492V316.3H494V316.3H496V316.3H498V315.4H500V312.7H502V311.7H504V309.6H506V307.6H508V307.2H510V305.9H512V307.1H514V308.8H516V308.4H518V308.8H520V306.5H522V306.2H524V304.3H526V304.1H528V306.6H530V308.7H532V309.4H534V309.8H536V308.7H538V311.4H540V310.4H542V311.7H544V313.6H546V312.7H548V313.9H550V316.2H552V315.3H554V317.8Z" fill="#00a096"/><text x="36.2" y="278.4" font-size="24.2" textLength="77.6" lengthAdjust="spacingAndGlyphs">(0–618)</text><text x="549.0" y="282.2" font-size="24.2" text-anchor="end" textLength="91.2" lengthAdjust="spacingAndGlyphs">HD2B-ZF</text><path d="M34,379.0V379.0H36V379.0H38V379.0H40V379.0H42V376.9H44V376.2H46V375.7H48V373.7H50V374.0H52V376.6H54V377.2H56V375.5H58V373.8H60V370.5H62V369.7H64V371.2H66V372.7H68V374.3H70V376.6H72V374.7H74V376.2H76V373.9H78V373.9H80V374.0H82V374.2H84V375.6H86V376.5H88V376.8H90V376.4H92V373.8H94V372.9H96V370.7H98V372.1H100V372.8H102V375.2H104V375.5H106V377.5H108V375.8H110V375.8H112V376.2H114V374.1H116V373.9H118V372.8H120V373.6H122V372.4H124V372.0H126V372.9H128V369.4H130V367.1H132V363.8H134V361.3H136V357.2H138V352.8H140V350.4H142V350.6H144V352.1H146V354.1H148V354.9H150V354.7H152V357.6H154V357.1H156V353.0H158V349.7H160V350.1H162V351.6H164V360.3H166V363.5H168V362.1H170V361.2H172V362.4H174V363.5H176V365.5H178V367.0H180V366.9H182V366.7H184V366.2H186V368.2H188V370.4H190V372.1H192V372.6H194V372.4H196V372.5H198V373.6H200V373.5H202V372.7H204V373.4H206V373.4H208V372.0H210V371.4H212V371.4H214V372.2H216V372.3H218V371.4H220V372.4H222V373.0H224V379.0H226V379.0H228V369.4H230V369.8H232V370.7H234V372.1H236V372.6H238V372.3H240V371.9H242V370.5H244V369.1H246V370.3H248V371.6H250V371.2H252V373.1H254V373.5H256V373.1H258V372.2H260V372.6H262V373.1H264V372.6H266V372.7H268V373.1H270V372.3H272V372.5H274V372.5H276V372.3H278V373.0H280V374.2H282V374.1H284V373.8H286V373.8H288V374.4H290V374.1H292V374.1H294V374.2H296V371.4H298V366.6H300V367.7H302V372.7H304V377.1H306V375.6H308V375.6H310V375.0H312V374.3H314V373.5H316V371.8H318V370.2H320V371.2H322V371.0H324V372.8H326V375.2H328V376.1H330V376.9H332V376.8H334V374.9H336V373.8H338V374.9H340V375.5H342V377.2H344V376.8H346V377.5H348V377.5H350V377.5H352V377.0H354V376.8H356V377.5H358V375.9H360V376.1H362V375.8H364V375.5H366V377.5H368V377.3H370V376.4H372V379.0H374V379.0H376V379.0H378V372.4H380V372.6H382V371.6H384V371.3H386V372.4H388V372.5H390V373.1H392V373.2H394V374.9H396V376.4H398V377.5H400V377.5H402V377.5H404V377.5H406V376.9H408V377.5H410V377.5H412V377.5H414V377.5H416V375.5H418V374.4H420V373.6H422V371.1H424V368.5H426V367.4H428V368.1H430V370.9H432V372.4H434V373.5H436V373.6H438V374.9H440V374.0H442V373.7H444V374.8H446V376.1H448V377.1H450V377.3H452V375.5H454V376.7H456V376.1H458V376.6H460V376.5H462V377.2H464V377.5H466V375.6H468V376.0H470V374.3H472V375.1H474V373.9H476V374.2H478V371.5H480V371.5H482V372.4H484V373.2H486V371.4H488V371.6H490V373.1H492V373.5H494V374.7H496V375.1H498V376.0H500V374.2H502V374.4H504V375.5H506V375.3H508V375.5H510V374.1H512V375.0H514V375.4H516V376.2H518V376.0H520V376.0H522V375.7H524V372.5H526V372.4H528V371.7H530V372.7H532V373.8H534V375.8H536V376.2H538V376.7H540V377.5H542V376.6H544V374.7H546V372.9H548V372.3H550V371.8H552V372.1H554V379.0Z" fill="#00a096"/><text x="36.2" y="339.6" font-size="24.2" textLength="77.6" lengthAdjust="spacingAndGlyphs">(0–618)</text><text x="549.0" y="343.4" font-size="24.2" text-anchor="end" textLength="91.2" lengthAdjust="spacingAndGlyphs">HD2C-ZF</text><path d="M34,450.3V450.3H36V450.3H38V450.3H40V450.3H42V445.2H44V447.0H46V448.0H48V448.8H50V445.4H52V444.5H54V442.1H56V441.9H58V443.5H60V443.1H62V444.7H64V446.0H66V448.8H68V448.8H70V448.8H72V448.8H74V448.8H76V448.2H78V448.8H80V448.8H82V448.5H84V445.8H86V444.1H88V442.6H90V440.5H92V439.6H94V440.5H96V441.9H98V450.3H100V450.3H102V450.3H104V443.8H106V443.6H108V443.5H110V445.2H112V446.9H114V448.8H116V448.0H118V447.9H120V446.6H122V443.3H124V437.1H126V434.7H128V432.0H130V424.1H132V421.3H134V421.3H136V418.0H138V415.9H140V413.6H142V407.8H144V403.4H146V400.6H148V403.1H150V408.7H152V413.6H154V407.6H156V406.7H158V402.6H160V409.5H162V417.8H164V424.2H166V426.5H168V425.6H170V427.1H172V433.4H174V436.8H176V437.0H178V438.4H180V440.8H182V441.3H184V439.7H186V439.8H188V441.5H190V441.7H192V439.1H194V433.4H196V429.6H198V438.8H200V448.3H202V448.8H204V448.8H206V448.8H208V448.8H210V448.8H212V447.1H214V444.1H216V442.9H218V442.3H220V444.0H222V444.4H224V444.6H226V447.9H228V448.8H230V448.8H232V448.8H234V448.8H236V448.8H238V448.8H240V448.8H242V448.8H244V447.0H246V444.4H248V444.1H250V446.5H252V446.1H254V447.9H256V447.8H258V447.2H260V446.5H262V450.3H264V450.3H266V447.7H268V447.9H270V447.4H272V445.7H274V444.7H276V445.1H278V446.4H280V448.1H282V447.6H284V448.8H286V448.8H288V448.8H290V448.5H292V448.8H294V448.8H296V448.8H298V448.8H300V448.8H302V447.9H304V446.5H306V447.3H308V445.4H310V445.6H312V445.6H314V447.0H316V447.7H318V448.1H320V444.9H322V446.1H324V443.1H326V439.3H328V440.4H330V440.9H332V439.9H334V442.7H336V443.8H338V447.6H340V447.5H342V445.6H344V444.5H346V447.5H348V446.9H350V446.6H352V447.5H354V446.0H356V445.9H358V444.6H360V444.7H362V444.1H364V444.4H366V446.0H368V445.8H370V444.1H372V446.0H374V447.6H376V447.8H378V448.8H380V446.1H382V446.2H384V445.4H386V445.1H388V442.8H390V440.7H392V441.9H394V442.7H396V442.3H398V444.4H400V445.3H402V446.0H404V446.3H406V447.4H408V447.8H410V446.3H412V445.3H414V445.0H416V445.6H418V444.2H420V444.6H422V445.2H424V445.9H426V443.5H428V443.4H430V442.3H432V445.2H434V442.4H436V444.2H438V444.2H440V443.1H442V443.4H444V441.8H446V442.6H448V445.7H450V445.4H452V445.0H454V446.3H456V442.5H458V441.7H460V439.3H462V440.5H464V438.6H466V440.7H468V443.5H470V445.3H472V446.6H474V448.8H476V447.4H478V448.2H480V447.3H482V447.1H484V448.8H486V445.7H488V447.2H490V446.0H492V443.0H494V439.8H496V438.0H498V439.3H500V440.9H502V443.0H504V443.7H506V444.2H508V442.4H510V443.0H512V443.6H514V445.2H516V444.5H518V447.4H520V447.6H522V445.2H524V443.3H526V440.6H528V439.7H530V443.2H532V444.8H534V446.9H536V448.8H538V448.8H540V448.8H542V448.8H544V446.6H546V445.3H548V446.2H550V448.8H552V448.8H554V450.3Z" fill="#0894c8"/><text x="36.2" y="410.9" font-size="24.2" textLength="84.1" lengthAdjust="spacingAndGlyphs">(0–484)</text><text x="547.5" y="415.3" font-size="24.2" text-anchor="end" textLength="36.0" lengthAdjust="spacingAndGlyphs" font-style="italic">fwa</text><path d="M34,512.6V512.6H36V512.6H38V512.6H40V512.6H42V510.1H44V508.3H46V509.6H48V510.4H50V511.1H52V511.1H54V511.1H56V509.7H58V507.0H60V505.9H62V505.7H64V506.8H66V504.7H68V507.0H70V507.9H72V511.1H74V510.3H76V509.4H78V508.8H80V507.4H82V507.4H84V506.8H86V507.5H88V505.7H90V503.6H92V504.4H94V506.5H96V509.1H98V511.1H100V511.1H102V512.6H104V512.6H106V508.5H108V508.1H110V507.9H112V508.3H114V506.4H116V505.2H118V504.1H120V504.3H122V503.5H124V502.7H126V501.1H128V500.1H130V494.7H132V489.9H134V489.5H136V490.8H138V491.4H140V490.9H142V489.1H144V486.6H146V485.2H148V486.4H150V488.3H152V486.9H154V481.8H156V481.4H158V482.1H160V478.4H162V475.5H164V478.8H166V483.8H168V487.1H170V489.4H172V496.5H174V501.5H176V502.1H178V504.1H180V507.1H182V507.0H184V505.3H186V504.2H188V504.7H190V505.0H192V504.8H194V505.8H196V506.9H198V508.2H200V510.4H202V511.0H204V510.4H206V509.8H208V509.0H210V507.3H212V505.7H214V507.3H216V507.1H218V509.9H220V509.7H222V511.0H224V508.4H226V509.6H228V507.0H230V506.6H232V507.0H234V507.1H236V507.5H238V507.7H240V506.1H242V512.6H244V512.6H246V507.0H248V508.9H250V508.8H252V506.9H254V507.2H256V507.3H258V507.1H260V506.6H262V506.2H264V505.5H266V508.0H268V509.8H270V509.5H272V511.1H274V511.1H276V511.1H278V511.1H280V511.1H282V511.0H284V510.2H286V510.4H288V510.3H290V510.4H292V510.4H294V509.3H296V510.4H298V511.0H300V510.6H302V507.4H304V507.8H306V505.7H308V503.6H310V504.7H312V504.0H314V505.2H316V504.5H318V506.1H320V505.8H322V504.6H324V505.6H326V505.4H328V506.4H330V505.0H332V508.3H334V508.8H336V509.2H338V509.2H340V509.0H342V509.0H344V509.6H346V510.8H348V510.2H350V510.9H352V510.1H354V508.2H356V506.9H358V507.5H360V508.6H362V511.1H364V511.1H366V511.1H368V511.1H370V511.1H372V510.3H374V507.1H376V506.4H378V507.8H380V510.4H382V509.9H384V509.1H386V507.2H388V507.4H390V507.7H392V505.4H394V505.7H396V502.4H398V504.6H400V505.7H402V507.8H404V508.7H406V511.1H408V509.6H410V511.1H412V509.1H414V508.1H416V508.1H418V507.5H420V508.4H422V508.8H424V506.7H426V506.7H428V507.5H430V506.8H432V508.1H434V508.1H436V506.2H438V504.9H440V505.4H442V508.4H444V509.1H446V508.4H448V508.8H450V508.2H452V509.3H454V509.2H456V511.1H458V511.1H460V511.0H462V508.8H464V509.4H466V508.3H468V507.5H470V507.7H472V507.6H474V508.3H476V507.2H478V508.7H480V510.8H482V508.1H484V506.5H486V506.9H488V506.3H490V505.9H492V506.7H494V507.2H496V506.5H498V504.8H500V506.8H502V507.7H504V508.5H506V506.5H508V508.2H510V509.8H512V509.9H514V511.1H516V510.8H518V509.8H520V507.1H522V503.9H524V502.7H526V505.7H528V507.5H530V508.8H532V511.1H534V510.7H536V507.5H538V504.6H540V504.9H542V503.7H544V504.9H546V505.5H548V506.4H550V509.7H552V509.8H554V512.6Z" fill="#0894c8"/><text x="36.2" y="473.2" font-size="24.2" textLength="84.1" lengthAdjust="spacingAndGlyphs">(0–484)</text><text x="549.0" y="477.0" font-size="24.2" text-anchor="end" textLength="91.2" lengthAdjust="spacingAndGlyphs">HD2A-ZF</text><path d="M34,574.3V567.4H36V567.7H38V568.2H40V567.2H42V565.3H44V565.4H46V565.4H48V568.0H50V571.2H52V570.9H54V571.2H56V570.6H58V569.4H60V568.7H62V567.8H64V569.7H66V570.5H68V572.0H70V571.1H72V569.9H74V567.3H76V563.3H78V563.3H80V565.0H82V567.1H84V570.1H86V568.0H88V574.3H90V574.3H92V574.3H94V574.3H96V569.5H98V567.8H100V564.7H102V567.8H104V566.5H106V567.9H108V566.3H110V566.1H112V564.8H114V562.8H116V562.0H118V566.7H120V566.4H122V566.5H124V564.5H126V559.0H128V554.3H130V555.4H132V556.2H134V557.2H136V556.5H138V555.0H140V553.1H142V548.8H144V546.7H146V548.8H148V552.7H150V552.9H152V553.3H154V554.2H156V554.5H158V553.6H160V553.3H162V551.5H164V550.1H166V553.0H168V557.1H170V559.1H172V560.8H174V563.2H176V564.3H178V564.6H180V565.2H182V566.5H184V565.3H186V565.0H188V566.5H190V567.7H192V569.3H194V567.9H196V569.6H198V571.4H200V572.8H202V571.0H204V569.8H206V566.5H208V565.9H210V567.6H212V569.7H214V570.6H216V569.6H218V569.2H220V568.7H222V568.4H224V566.2H226V568.1H228V566.9H230V564.7H232V565.7H234V567.3H236V566.4H238V564.7H240V563.4H242V563.7H244V566.0H246V567.1H248V568.1H250V570.1H252V564.6H254V566.9H256V564.1H258V565.2H260V566.4H262V567.3H264V569.6H266V568.6H268V566.7H270V568.2H272V566.1H274V569.4H276V570.8H278V568.3H280V566.3H282V563.5H284V564.6H286V566.1H288V562.7H290V561.4H292V556.4H294V553.1H296V554.1H298V558.4H300V560.2H302V562.3H304V564.3H306V567.0H308V570.6H310V570.2H312V568.3H314V566.6H316V565.7H318V571.2H320V572.8H322V572.8H324V570.3H326V567.1H328V567.3H330V569.0H332V569.1H334V569.9H336V569.1H338V568.7H340V568.2H342V564.7H344V561.2H346V563.3H348V563.3H350V566.8H352V569.8H354V572.8H356V567.4H358V565.9H360V560.6H362V560.3H364V558.9H366V561.5H368V563.1H370V566.0H372V569.8H374V572.2H376V572.8H378V572.1H380V570.8H382V567.9H384V568.5H386V566.5H388V569.4H390V569.4H392V572.8H394V570.1H396V566.6H398V565.4H400V564.3H402V559.6H404V561.2H406V558.5H408V557.4H410V557.7H412V557.0H414V561.9H416V560.4H418V560.9H420V560.5H422V557.7H424V557.9H426V559.0H428V559.7H430V563.1H432V564.6H434V568.2H436V567.0H438V568.7H440V564.4H442V563.3H444V563.3H446V568.1H448V570.9H450V570.1H452V568.0H454V563.1H456V558.9H458V557.1H460V561.8H462V558.6H464V563.1H466V566.0H468V563.6H470V560.3H472V555.8H474V553.8H476V554.8H478V553.2H480V561.7H482V562.1H484V565.1H486V558.1H488V555.4H490V558.0H492V555.2H494V559.0H496V558.3H498V561.3H500V567.0H502V570.8H504V571.9H506V572.8H508V572.8H510V572.8H512V572.7H514V568.2H516V561.1H518V565.1H520V564.1H522V572.8H524V572.8H526V572.8H528V572.8H530V570.5H532V566.9H534V562.9H536V561.4H538V561.4H540V559.5H542V559.6H544V559.7H546V566.6H548V568.4H550V572.8H552V571.5H554V574.3Z" fill="#0894c8"/><text x="36.2" y="534.9" font-size="24.2" textLength="84.1" lengthAdjust="spacingAndGlyphs">(0–484)</text><text x="549.0" y="538.7" font-size="24.2" text-anchor="end" textLength="91.2" lengthAdjust="spacingAndGlyphs">HD2B-ZF</text><path d="M34,635.6V635.6H36V635.6H38V635.6H40V635.6H42V627.5H44V631.7H46V631.6H48V631.4H50V632.6H52V630.2H54V631.2H56V629.5H58V628.8H60V628.3H62V628.9H64V629.8H66V631.6H68V631.9H70V630.3H72V628.6H74V626.2H76V626.4H78V627.4H80V627.8H82V629.9H84V630.6H86V631.1H88V629.6H90V630.9H92V628.8H94V629.0H96V628.4H98V629.5H100V630.0H102V631.5H104V629.6H106V631.0H108V632.3H110V632.5H112V632.1H114V631.3H116V632.6H118V632.9H120V631.7H122V631.2H124V630.6H126V624.4H128V620.9H130V620.6H132V617.7H134V617.1H136V617.9H138V616.6H140V610.2H142V602.4H144V597.3H146V599.3H148V603.3H150V602.6H152V600.0H154V599.1H156V596.0H158V596.9H160V601.7H162V604.1H164V605.7H166V607.8H168V611.2H170V614.8H172V618.0H174V619.4H176V619.9H178V622.8H180V622.7H182V620.3H184V620.5H186V623.4H188V625.9H190V627.5H192V629.0H194V627.6H196V626.4H198V627.5H200V628.0H202V629.0H204V633.4H206V634.1H208V633.4H210V632.1H212V631.2H214V630.1H216V630.6H218V629.9H220V628.2H222V628.7H224V627.7H226V626.3H228V628.2H230V628.4H232V627.8H234V626.2H236V627.7H238V627.8H240V629.8H242V631.0H244V632.5H246V631.3H248V631.1H250V632.2H252V630.1H254V627.6H256V631.9H258V633.2H260V632.9H262V633.7H264V630.8H266V628.9H268V628.4H270V629.5H272V629.9H274V630.8H276V631.2H278V631.9H280V632.4H282V631.2H284V632.7H286V634.1H288V632.0H290V630.9H292V629.3H294V630.3H296V630.4H298V630.2H300V630.0H302V630.1H304V629.7H306V626.7H308V626.0H310V625.9H312V625.7H314V625.6H316V627.0H318V626.5H320V627.5H322V627.6H324V628.8H326V627.5H328V628.2H330V627.3H332V628.2H334V629.7H336V629.9H338V631.8H340V631.7H342V631.2H344V631.2H346V630.4H348V629.1H350V630.7H352V630.6H354V631.4H356V629.0H358V628.3H360V630.1H362V630.3H364V630.3H366V628.3H368V626.9H370V623.4H372V627.2H374V628.4H376V631.3H378V633.1H380V632.9H382V631.8H384V634.1H386V630.9H388V629.1H390V627.4H392V624.4H394V623.8H396V623.4H398V623.1H400V623.5H402V626.4H404V627.7H406V630.6H408V631.4H410V632.9H412V631.3H414V632.3H416V630.0H418V630.0H420V626.0H422V623.6H424V623.9H426V622.2H428V625.5H430V626.6H432V626.7H434V628.2H436V628.7H438V632.2H440V632.2H442V632.6H444V634.1H446V634.1H448V634.0H450V634.1H452V633.9H454V631.8H456V632.1H458V632.6H460V633.8H462V634.1H464V634.1H466V628.3H468V629.1H470V627.9H472V635.6H474V635.6H476V635.6H478V634.1H480V633.6H482V630.3H484V628.1H486V627.7H488V625.1H490V624.9H492V625.8H494V624.2H496V626.5H498V628.9H500V629.7H502V628.6H504V629.4H506V629.6H508V630.2H510V631.1H512V628.7H514V628.4H516V628.1H518V628.9H520V631.5H522V632.0H524V631.3H526V631.8H528V629.2H530V626.5H532V627.1H534V626.0H536V629.1H538V628.8H540V626.2H542V624.4H544V624.6H546V624.8H548V626.1H550V628.0H552V628.0H554V635.6Z" fill="#0894c8"/><text x="36.2" y="596.2" font-size="24.2" textLength="84.1" lengthAdjust="spacingAndGlyphs">(0–484)</text><text x="549.0" y="600.0" font-size="24.2" text-anchor="end" textLength="91.2" lengthAdjust="spacingAndGlyphs">HD2C-ZF</text><path d="M34,704.8V696.1H36V692.1H38V695.5H40V695.8H42V701.1H44V699.3H46V694.1H48V689.6H50V692.7H52V698.6H54V701.3H56V701.3H58V696.4H60V688.6H62V686.9H64V691.5H66V687.3H68V686.5H70V680.1H72V666.7H74V672.5H76V686.1H78V694.8H80V690.6H82V687.4H84V693.4H86V699.1H88V698.8H90V693.2H92V692.6H94V695.1H96V697.5H98V696.8H100V699.7H102V698.9H104V701.3H106V699.9H108V701.3H110V701.3H112V701.3H114V701.3H116V701.3H118V701.3H120V693.4H122V691.2H124V686.0H126V687.0H128V683.5H130V687.5H132V692.3H134V694.9H136V694.1H138V692.2H140V688.8H142V686.1H144V676.9H146V666.8H148V665.1H150V674.7H152V672.6H154V667.6H156V664.9H158V664.7H160V660.6H162V663.2H164V669.9H166V675.0H168V680.6H170V683.5H172V690.9H174V689.4H176V691.6H178V687.6H180V693.4H182V698.8H184V699.7H186V691.9H188V691.9H190V692.5H192V691.5H194V690.6H196V687.4H198V687.8H200V692.3H202V695.4H204V698.9H206V699.9H208V696.8H210V692.4H212V687.7H214V684.3H216V684.9H218V688.4H220V689.9H222V688.2H224V683.8H226V683.4H228V680.2H230V685.0H232V689.4H234V696.3H236V693.1H238V700.5H240V694.2H242V695.0H244V701.3H246V701.3H248V701.3H250V701.1H252V700.9H254V701.3H256V701.3H258V701.3H260V692.8H262V690.5H264V688.5H266V689.7H268V686.7H270V696.0H272V694.6H274V693.6H276V691.6H278V685.6H280V680.1H282V686.1H284V686.1H286V692.7H288V699.2H290V697.2H292V685.8H294V675.9H296V669.2H298V677.5H300V685.7H302V688.0H304V691.0H306V694.0H308V690.6H310V694.6H312V692.7H314V699.4H316V700.4H318V695.6H320V690.1H322V688.8H324V691.2H326V695.8H328V699.7H330V701.3H332V700.8H334V701.3H336V701.3H338V699.6H340V700.3H342V693.5H344V690.3H346V701.3H348V701.3H350V701.3H352V701.3H354V701.3H356V701.3H358V701.3H360V701.3H362V701.3H364V701.3H366V701.3H368V701.3H370V701.3H372V701.3H374V701.3H376V684.3H378V681.5H380V684.9H382V692.8H384V698.1H386V697.3H388V693.2H390V686.8H392V679.3H394V678.3H396V685.5H398V695.5H400V701.3H402V701.3H404V701.3H406V701.3H408V701.3H410V700.9H412V696.0H414V695.1H416V691.4H418V696.8H420V698.9H422V699.2H424V697.6H426V695.2H428V693.2H430V692.9H432V680.6H434V687.3H436V694.2H438V677.2H440V679.3H442V685.1H444V692.3H446V689.1H448V687.9H450V687.6H452V684.5H454V682.6H456V673.2H458V665.0H460V672.0H462V677.6H464V680.0H466V678.6H468V686.0H470V689.0H472V696.4H474V695.0H476V697.4H478V700.4H480V688.2H482V681.8H484V676.9H486V677.1H488V685.1H490V689.9H492V695.2H494V698.4H496V692.8H498V686.6H500V687.8H502V683.5H504V671.1H506V677.0H508V677.0H510V678.1H512V684.8H514V683.8H516V688.4H518V690.0H520V686.7H522V682.6H524V686.4H526V684.9H528V694.3H530V698.0H532V701.0H534V690.4H536V680.7H538V672.5H540V672.4H542V679.5H544V685.5H546V680.5H548V682.8H550V681.3H552V689.4H554V694.8H556V704.8Z" fill="#c800c8"/><text x="36.2" y="665.4" font-size="24.2" textLength="79.7" lengthAdjust="spacingAndGlyphs">(0–341)</text><text x="547.5" y="669.8" font-size="24.2" text-anchor="end" textLength="36.0" lengthAdjust="spacingAndGlyphs" font-style="italic">fwa</text><path d="M34,766.0V762.5H36V760.3H38V758.6H40V749.8H42V750.2H44V746.2H46V750.1H48V753.5H50V753.3H52V755.2H54V754.7H56V756.8H58V762.5H60V760.9H62V762.5H64V754.3H66V750.1H68V752.0H70V761.2H72V761.1H74V762.5H76V762.5H78V759.0H80V757.1H82V757.9H84V756.7H86V755.3H88V752.5H90V752.7H92V752.6H94V747.9H96V754.5H98V757.1H100V755.5H102V753.3H104V754.9H106V752.6H108V754.4H110V752.4H112V756.3H114V756.3H116V762.5H118V756.0H120V750.6H122V744.5H124V745.6H126V751.3H128V758.0H130V755.2H132V750.7H134V754.1H136V755.4H138V749.4H140V750.7H142V745.4H144V737.8H146V734.0H148V733.1H150V739.3H152V741.3H154V736.8H156V734.4H158V731.2H160V729.3H162V728.2H164V728.7H166V734.2H168V744.3H170V750.4H172V754.9H174V761.6H176V756.0H178V758.8H180V760.1H182V762.5H184V762.5H186V762.5H188V760.1H190V752.4H192V750.0H194V745.7H196V747.3H198V749.5H200V748.0H202V749.0H204V745.9H206V749.5H208V755.0H210V761.0H212V762.1H214V757.3H216V759.9H218V750.0H220V744.3H222V747.6H224V743.6H226V740.6H228V740.0H230V739.3H232V741.4H234V747.0H236V750.3H238V744.2H240V747.9H242V749.8H244V755.3H246V748.0H248V741.9H250V746.2H252V755.0H254V760.4H256V762.5H258V762.5H260V761.9H262V760.3H264V759.9H266V760.2H268V758.0H270V753.9H272V745.1H274V748.8H276V755.4H278V755.8H280V760.1H282V759.7H284V757.0H286V758.5H288V754.9H290V752.2H292V747.3H294V746.1H296V756.5H298V758.2H300V755.3H302V751.0H304V749.0H306V748.6H308V754.4H310V759.5H312V758.0H314V758.1H316V758.6H318V762.5H320V762.5H322V761.4H324V759.8H326V756.6H328V757.6H330V754.6H332V749.7H334V745.5H336V747.1H338V753.0H340V756.9H342V759.0H344V760.2H346V760.8H348V760.4H350V760.4H352V754.6H354V752.9H356V751.5H358V756.2H360V755.5H362V755.4H364V752.6H366V754.9H368V760.9H370V762.5H372V762.5H374V762.5H376V762.5H378V757.9H380V755.4H382V755.1H384V753.1H386V749.5H388V744.5H390V747.7H392V756.1H394V756.5H396V741.1H398V743.4H400V753.9H402V755.2H404V759.2H406V760.1H408V762.5H410V762.5H412V762.5H414V762.5H416V762.5H418V755.2H420V752.6H422V750.3H424V753.8H426V759.1H428V759.8H430V759.7H432V751.1H434V744.1H436V742.7H438V744.2H440V735.8H442V738.3H444V740.4H446V740.2H448V741.4H450V738.0H452V735.5H454V740.3H456V740.5H458V742.1H460V749.4H462V752.5H464V751.4H466V757.3H468V755.0H470V752.0H472V752.5H474V750.3H476V741.5H478V762.5H480V762.5H482V762.5H484V762.5H486V757.0H488V759.5H490V756.0H492V754.8H494V753.1H496V756.3H498V754.2H500V754.2H502V749.6H504V757.3H506V759.1H508V762.5H510V762.5H512V760.7H514V754.4H516V756.4H518V758.7H520V760.9H522V759.5H524V759.9H526V762.5H528V762.5H530V762.5H532V762.5H534V762.5H536V762.5H538V762.5H540V762.5H542V762.5H544V762.5H546V757.2H548V758.9H550V757.4H552V760.3H554V758.0H556V766.0Z" fill="#c800c8"/><text x="36.2" y="726.6" font-size="24.2" textLength="79.7" lengthAdjust="spacingAndGlyphs">(0–341)</text><text x="549.0" y="730.4" font-size="24.2" text-anchor="end" textLength="91.2" lengthAdjust="spacingAndGlyphs">HD2A-ZF</text><path d="M34,827.7V824.2H36V823.9H38V817.4H40V818.8H42V817.6H44V817.5H46V816.2H48V817.6H50V813.6H52V807.3H54V806.0H56V809.3H58V816.3H60V818.4H62V818.0H64V818.4H66V819.8H68V819.3H70V818.1H72V817.9H74V820.0H76V818.1H78V818.7H80V813.8H82V813.5H84V817.0H86V818.7H88V822.6H90V819.1H92V819.0H94V817.8H96V819.8H98V820.5H100V820.4H102V824.2H104V824.2H106V824.2H108V824.2H110V822.6H112V820.7H114V824.2H116V824.2H118V824.2H120V824.2H122V824.2H124V818.8H126V804.3H128V802.2H130V802.3H132V806.6H134V811.5H136V818.0H138V819.5H140V818.6H142V822.9H144V824.2H146V824.2H148V824.1H150V822.4H152V823.0H154V822.3H156V824.2H158V824.2H160V820.8H162V813.4H164V810.4H166V809.8H168V814.4H170V822.3H172V824.2H174V824.2H176V820.7H178V817.4H180V817.6H182V816.5H184V815.5H186V812.8H188V814.8H190V822.9H192V818.6H194V816.4H196V814.3H198V811.7H200V813.5H202V814.9H204V815.7H206V813.9H208V814.7H210V814.9H212V813.5H214V808.5H216V809.9H218V813.7H220V819.5H222V818.3H224V816.4H226V814.1H228V813.6H230V814.0H232V819.0H234V811.1H236V814.8H238V817.7H240V818.9H242V813.5H244V811.7H246V808.5H248V812.1H250V815.5H252V811.9H254V809.1H256V811.2H258V810.6H260V815.2H262V814.6H264V817.9H266V817.5H268V818.0H270V815.6H272V813.3H274V811.2H276V807.6H278V810.4H280V817.4H282V824.2H284V824.2H286V823.0H288V819.6H290V812.4H292V808.9H294V813.3H296V819.0H298V819.6H300V821.0H302V824.2H304V824.2H306V824.2H308V821.0H310V820.4H312V821.7H314V822.1H316V818.0H318V813.6H320V812.9H322V811.6H324V812.1H326V809.0H328V811.5H330V812.4H332V812.6H334V816.7H336V813.6H338V819.1H340V821.2H342V816.2H344V816.5H346V815.0H348V819.1H350V824.2H352V820.1H354V822.3H356V824.2H358V821.0H360V819.4H362V820.0H364V817.9H366V820.7H368V817.5H370V813.3H372V808.9H374V811.4H376V816.3H378V816.3H380V818.3H382V816.3H384V821.3H386V824.2H388V823.5H390V813.5H392V813.2H394V818.0H396V821.1H398V822.7H400V820.2H402V809.2H404V810.0H406V811.5H408V818.6H410V822.9H412V821.0H414V824.0H416V820.5H418V823.7H420V824.2H422V819.5H424V822.2H426V819.2H428V818.5H430V815.3H432V818.7H434V819.0H436V820.0H438V812.9H440V806.4H442V803.3H444V807.8H446V815.7H448V817.8H450V819.6H452V813.1H454V806.6H456V807.8H458V807.8H460V814.1H462V821.3H464V816.9H466V815.0H468V810.9H470V817.8H472V824.2H474V823.7H476V822.0H478V819.6H480V822.0H482V824.2H484V824.2H486V824.2H488V820.5H490V816.0H492V820.3H494V813.6H496V813.4H498V818.3H500V823.3H502V823.5H504V818.2H506V815.6H508V813.6H510V809.0H512V812.6H514V814.6H516V815.8H518V813.9H520V810.2H522V810.0H524V820.2H526V824.2H528V824.2H530V824.2H532V824.2H534V819.0H536V813.2H538V810.2H540V813.1H542V818.5H544V817.2H546V816.5H548V819.6H550V817.7H552V819.1H554V818.7H556V827.7Z" fill="#c800c8"/><text x="36.2" y="788.3" font-size="24.2" textLength="79.7" lengthAdjust="spacingAndGlyphs">(0–341)</text><text x="549.0" y="792.1" font-size="24.2" text-anchor="end" textLength="91.2" lengthAdjust="spacingAndGlyphs">HD2B-ZF</text><path d="M34,890.0V873.9H36V871.4H38V872.0H40V883.3H42V886.5H44V886.5H46V878.7H48V875.8H50V874.8H52V878.2H54V878.5H56V878.6H58V875.1H60V870.5H62V876.3H64V874.6H66V879.5H68V882.7H70V880.7H72V873.9H74V869.7H76V877.6H78V879.8H80V876.2H82V876.3H84V878.0H86V884.0H88V886.5H90V886.5H92V886.5H94V886.5H96V885.1H98V879.8H100V880.4H102V883.3H104V886.5H106V886.5H108V886.5H110V886.5H112V886.5H114V886.5H116V882.7H118V879.7H120V871.8H122V865.9H124V862.1H126V865.6H128V871.6H130V873.9H132V870.9H134V866.5H136V864.4H138V864.2H140V866.3H142V865.5H144V864.6H146V866.7H148V866.9H150V867.0H152V869.3H154V868.9H156V867.0H158V867.8H160V870.8H162V873.4H164V874.5H166V879.4H168V884.5H170V886.5H172V884.5H174V885.7H176V886.5H178V884.2H180V880.5H182V872.5H184V870.1H186V872.0H188V874.3H190V875.2H192V878.7H194V877.0H196V881.1H198V874.6H200V872.0H202V875.5H204V874.5H206V886.5H208V886.5H210V886.5H212V881.5H214V883.0H216V874.9H218V879.6H220V881.9H222V878.3H224V878.0H226V869.8H228V869.3H230V871.5H232V872.7H234V874.5H236V881.0H238V886.5H240V883.7H242V881.4H244V873.6H246V871.8H248V871.2H250V876.6H252V879.3H254V879.6H256V873.0H258V871.3H260V870.3H262V873.3H264V877.3H266V881.7H268V886.5H270V883.8H272V878.6H274V876.5H276V870.6H278V871.0H280V874.4H282V875.5H284V881.3H286V882.2H288V879.1H290V878.8H292V879.1H294V881.8H296V883.6H298V885.3H300V877.1H302V879.2H304V880.8H306V881.2H308V883.9H310V879.6H312V880.2H314V876.5H316V874.6H318V873.6H320V872.2H322V872.4H324V877.4H326V879.4H328V878.4H330V878.2H332V879.5H334V884.9H336V886.5H338V886.5H340V884.2H342V883.5H344V876.9H346V870.5H348V870.1H350V877.1H352V880.5H354V884.8H356V883.5H358V882.9H360V881.4H362V879.1H364V877.7H366V878.1H368V878.3H370V879.6H372V874.8H374V878.0H376V875.3H378V875.8H380V875.0H382V869.5H384V862.0H386V858.9H388V861.6H390V867.2H392V876.6H394V883.4H396V879.6H398V873.2H400V864.2H402V868.3H404V878.2H406V886.5H408V883.9H410V882.6H412V882.0H414V886.4H416V886.5H418V886.5H420V886.5H422V886.5H424V886.5H426V880.1H428V876.5H430V879.3H432V878.3H434V885.3H436V885.0H438V877.8H440V868.1H442V859.5H444V872.0H446V883.9H448V886.5H450V880.1H452V877.0H454V874.3H456V864.0H458V877.0H460V881.1H462V874.4H464V869.3H466V873.0H468V876.3H470V880.6H472V885.5H474V884.0H476V886.5H478V886.5H480V885.1H482V880.1H484V878.4H486V879.6H488V883.7H490V886.5H492V886.5H494V886.5H496V879.2H498V874.4H500V879.0H502V879.4H504V880.8H506V877.5H508V879.6H510V885.7H512V886.5H514V886.5H516V886.5H518V886.0H520V884.2H522V880.9H524V883.3H526V883.3H528V885.6H530V884.5H532V885.3H534V885.0H536V884.6H538V881.0H540V881.5H542V880.9H544V882.5H546V886.5H548V886.5H550V880.3H552V875.0H554V877.2H556V890.0Z" fill="#c800c8"/><text x="36.2" y="850.6" font-size="24.2" textLength="79.7" lengthAdjust="spacingAndGlyphs">(0–341)</text><text x="549.0" y="854.4" font-size="24.2" text-anchor="end" textLength="91.2" lengthAdjust="spacingAndGlyphs">HD2C-ZF</text><path d="M34,965.4V948.9H36V952.9H38V957.4H40V959.0H42V960.5H44V960.4H46V959.9H48V958.8H50V961.1H52V955.1H54V955.1H56V954.4H58V957.5H60V960.0H62V961.4H64V952.3H66V938.5H68V927.3H70V933.2H72V943.6H74V956.5H76V956.6H78V956.9H80V956.5H82V954.2H84V955.5H86V956.2H88V957.0H90V955.9H92V953.1H94V955.3H96V953.8H98V953.3H100V958.4H102V959.4H104V961.4H106V961.0H108V958.2H110V956.1H112V951.4H114V952.6H116V953.9H118V953.9H120V953.5H122V956.4H124V958.2H126V956.6H128V953.0H130V949.7H132V953.8H134V956.9H136V959.3H138V957.0H140V955.5H142V954.4H144V952.9H146V958.3H148V961.4H150V960.1H152V957.8H154V952.6H156V950.3H158V950.4H160V950.6H162V950.8H164V950.6H166V951.6H168V954.3H170V956.3H172V961.4H174V961.4H176V961.4H178V961.2H180V956.5H182V958.3H184V959.7H186V957.3H188V956.3H190V950.7H192V944.5H194V944.8H196V949.4H198V956.5H200V961.4H202V961.4H204V961.4H206V961.4H208V961.4H210V965.4H212V961.4H214V957.0H216V957.1H218V959.0H220V958.9H222V955.6H224V960.2H226V961.4H228V961.4H230V961.4H232V961.4H234V961.4H236V961.4H238V961.4H240V961.4H242V961.4H244V961.4H246V960.6H248V954.2H250V947.8H252V943.5H254V945.9H256V946.5H258V954.5H260V954.1H262V955.2H264V956.1H266V956.0H268V952.6H270V952.4H272V950.4H274V954.3H276V950.9H278V951.8H280V947.1H282V946.0H284V944.8H286V944.8H288V942.2H290V938.8H292V943.9H294V943.5H296V947.0H298V949.8H300V948.9H302V949.7H304V945.4H306V940.1H308V942.3H310V939.6H312V943.1H314V946.9H316V944.6H318V946.9H320V949.9H322V947.3H324V948.9H326V950.7H328V955.2H330V958.8H332V961.2H334V959.6H336V953.2H338V944.9H340V944.5H342V930.5H344V942.5H346V939.4H348V946.8H350V944.5H352V945.4H354V949.4H356V946.8H358V954.8H360V955.5H362V954.4H364V950.7H366V948.0H368V951.1H370V955.0H372V954.6H374V957.9H376V954.2H378V951.9H380V953.2H382V950.1H384V944.3H386V940.5H388V944.6H390V949.7H392V952.7H394V950.1H396V940.3H398V937.4H400V941.3H402V942.6H404V948.0H406V958.5H408V961.3H410V955.1H412V952.8H414V951.2H416V944.9H418V933.7H420V935.5H422V941.0H424V945.3H426V947.6H428V947.8H430V944.5H432V948.6H434V952.3H436V948.2H438V942.1H440V938.3H442V932.7H444V936.5H446V944.4H448V952.5H450V961.4H452V961.4H454V960.8H456V956.2H458V948.0H460V947.4H462V948.2H464V947.3H466V950.8H468V953.2H470V954.4H472V951.1H474V955.7H476V961.4H478V961.4H480V961.4H482V961.4H484V961.4H486V958.1H488V953.1H490V949.2H492V952.8H494V947.4H496V945.4H498V955.0H500V952.4H502V956.4H504V959.0H506V961.4H508V961.4H510V961.4H512V944.9H514V928.4H516V945.3H518V953.7H520V960.6H522V961.1H524V960.9H526V959.0H528V955.9H530V951.3H532V946.7H534V948.6H536V948.1H538V945.2H540V943.6H542V937.7H544V929.0H546V928.3H548V933.5H550V942.1H552V945.9H554V965.4Z" fill="#fb8a66"/><text x="36.2" y="926.0" font-size="24.2" textLength="81.0" lengthAdjust="spacingAndGlyphs">(0–267)</text><text x="547.5" y="930.4" font-size="24.2" text-anchor="end" textLength="36.0" lengthAdjust="spacingAndGlyphs" font-style="italic">fwa</text><path d="M34,1027.0V1020.3H36V1023.0H38V1023.0H40V1023.0H42V1021.9H44V1017.6H46V1015.8H48V1013.4H50V1014.7H52V1017.5H54V1016.4H56V1015.1H58V1015.2H60V1006.8H62V1006.6H64V1004.5H66V1004.2H68V1006.5H70V1006.8H72V1007.4H74V1017.3H76V1027.0H78V1023.0H80V1023.0H82V1023.0H84V1023.0H86V1021.7H88V1021.5H90V1019.9H92V1020.0H94V1020.1H96V1020.9H98V1017.6H100V1016.8H102V1017.1H104V1017.8H106V1016.9H108V1017.8H110V1017.2H112V1017.1H114V1017.1H116V1015.2H118V1016.2H120V1016.5H122V1017.7H124V1023.0H126V1023.0H128V1023.0H130V1023.0H132V1019.4H134V1016.7H136V1013.7H138V1017.3H140V1019.6H142V1021.7H144V1023.0H146V1023.0H148V1022.9H150V1021.6H152V1022.6H154V1023.0H156V1023.0H158V1023.0H160V1023.0H162V1023.0H164V1022.5H166V1023.0H168V1023.0H170V1023.0H172V1023.0H174V1020.6H176V1020.3H178V1021.7H180V1020.4H182V1020.2H184V1018.2H186V1018.6H188V1017.7H190V1018.6H192V1018.9H194V1016.7H196V1017.5H198V1019.5H200V1015.5H202V1016.2H204V1015.2H206V1015.3H208V1017.9H210V1019.2H212V1023.0H214V1023.0H216V1021.0H218V1019.5H220V1017.8H222V1019.3H224V1021.7H226V1023.0H228V1023.0H230V1023.0H232V1023.0H234V1023.0H236V1023.0H238V1023.0H240V1023.0H242V1023.0H244V1023.0H246V1021.4H248V1019.9H250V1018.1H252V1017.5H254V1017.8H256V1019.6H258V1020.9H260V1023.0H262V1020.2H264V1020.8H266V1017.4H268V1017.1H270V1011.5H272V1010.3H274V1007.3H276V1009.8H278V1015.5H280V1013.2H282V1016.7H284V1011.5H286V1011.1H288V1004.2H290V1003.1H292V1004.9H294V1003.1H296V1002.9H298V1011.1H300V1018.7H302V1023.0H304V1022.4H306V1016.4H308V1007.7H310V1010.1H312V1011.6H314V1013.2H316V1008.5H318V1003.7H320V1000.3H322V1003.2H324V1012.7H326V1016.5H328V1022.5H330V1023.0H332V1019.7H334V1015.0H336V1013.8H338V1016.9H340V1008.6H342V1012.9H344V1012.3H346V1014.9H348V1016.0H350V1018.4H352V1012.8H354V1011.5H356V1009.5H358V1009.0H360V1008.1H362V1007.2H364V1011.6H366V1015.0H368V1015.4H370V1016.4H372V1016.5H374V1021.9H376V1021.3H378V1023.0H380V1023.0H382V1023.0H384V1023.0H386V1021.4H388V1012.0H390V1001.1H392V1000.6H394V1006.7H396V1008.3H398V1003.6H400V1001.2H402V1003.8H404V1006.1H406V1008.4H408V1004.1H410V1004.8H412V1006.4H414V1011.2H416V1017.0H418V1023.0H420V1023.0H422V1021.8H424V1019.6H426V1013.0H428V1006.8H430V1002.7H432V1005.0H434V1011.9H436V1020.7H438V1023.0H440V1018.8H442V1014.6H444V1009.7H446V1005.0H448V1012.9H450V1017.0H452V1023.0H454V1014.4H456V1012.2H458V1008.7H460V1004.8H462V1009.4H464V1003.4H466V995.3H468V995.8H470V1000.0H472V1004.8H474V1013.9H476V1020.0H478V1017.9H480V1013.7H482V1005.0H484V1006.9H486V1014.6H488V1009.8H490V1008.1H492V1002.6H494V992.2H496V989.4H498V1000.4H500V1004.8H502V1010.6H504V1011.8H506V1020.2H508V1023.0H510V1023.0H512V1018.9H514V1022.3H516V1023.0H518V1023.0H520V1023.0H522V1019.7H524V1013.4H526V1007.6H528V1004.3H530V1009.3H532V1010.7H534V1019.8H536V1021.1H538V1019.3H540V1017.5H542V1015.2H544V1014.0H546V1020.8H548V1022.1H550V1022.4H552V1023.0H554V1027.0Z" fill="#fb8a66"/><text x="36.2" y="987.6" font-size="24.2" textLength="81.0" lengthAdjust="spacingAndGlyphs">(0–267)</text><text x="549.0" y="991.4" font-size="24.2" text-anchor="end" textLength="91.2" lengthAdjust="spacingAndGlyphs">HD2A-ZF</text><path d="M34,1089.0V1067.0H36V1065.2H38V1068.6H40V1066.7H42V1065.8H44V1064.7H46V1064.4H48V1063.2H50V1061.5H52V1065.2H54V1068.3H56V1068.9H58V1066.1H60V1070.0H62V1068.4H64V1071.2H66V1076.4H68V1083.0H70V1082.6H72V1080.1H74V1077.7H76V1077.4H78V1077.6H80V1080.0H82V1078.9H84V1071.7H86V1063.2H88V1056.7H90V1058.6H92V1065.0H94V1070.1H96V1073.5H98V1084.7H100V1081.4H102V1078.1H104V1074.2H106V1071.3H108V1070.7H110V1070.8H112V1069.3H114V1067.4H116V1068.6H118V1069.5H120V1068.8H122V1071.1H124V1066.1H126V1064.8H128V1060.2H130V1057.4H132V1063.2H134V1072.1H136V1078.7H138V1079.4H140V1083.2H142V1076.2H144V1071.3H146V1062.8H148V1069.6H150V1072.8H152V1079.1H154V1081.3H156V1081.3H158V1076.9H160V1078.8H162V1082.5H164V1083.1H166V1085.0H168V1085.0H170V1081.7H172V1078.2H174V1078.5H176V1076.2H178V1079.4H180V1080.9H182V1076.1H184V1071.6H186V1062.6H188V1059.8H190V1057.7H192V1063.5H194V1070.9H196V1075.6H198V1077.9H200V1089.0H202V1089.0H204V1072.8H206V1067.8H208V1067.6H210V1075.8H212V1081.4H214V1081.8H216V1081.1H218V1082.6H220V1082.8H222V1083.1H224V1079.8H226V1074.6H228V1082.1H230V1082.8H232V1083.8H234V1080.7H236V1076.5H238V1070.1H240V1072.7H242V1075.1H244V1078.2H246V1077.1H248V1078.3H250V1068.7H252V1072.3H254V1070.2H256V1072.0H258V1073.0H260V1070.1H262V1076.0H264V1078.2H266V1082.8H268V1085.0H270V1085.0H272V1085.0H274V1085.0H276V1085.0H278V1079.5H280V1073.3H282V1065.5H284V1063.9H286V1064.9H288V1069.4H290V1077.0H292V1077.0H294V1072.0H296V1074.1H298V1080.8H300V1077.9H302V1080.8H304V1076.0H306V1066.7H308V1060.5H310V1064.4H312V1067.8H314V1071.6H316V1076.4H318V1072.4H320V1071.3H322V1072.0H324V1074.2H326V1080.9H328V1085.0H330V1085.0H332V1085.0H334V1085.0H336V1080.8H338V1076.0H340V1076.0H342V1075.6H344V1070.5H346V1072.3H348V1073.2H350V1076.4H352V1072.4H354V1070.6H356V1064.6H358V1063.8H360V1066.0H362V1077.9H364V1074.9H366V1066.9H368V1066.4H370V1063.2H372V1064.7H374V1066.4H376V1068.7H378V1072.8H380V1073.4H382V1079.4H384V1082.9H386V1078.8H388V1081.9H390V1075.3H392V1072.8H394V1073.5H396V1075.8H398V1071.9H400V1068.2H402V1059.4H404V1049.8H406V1046.0H408V1048.4H410V1048.7H412V1053.8H414V1061.3H416V1059.9H418V1062.4H420V1072.7H422V1071.5H424V1068.9H426V1068.9H428V1068.5H430V1066.4H432V1066.3H434V1062.6H436V1067.9H438V1074.7H440V1075.4H442V1075.4H444V1070.5H446V1061.7H448V1045.9H450V1044.0H452V1045.7H454V1052.4H456V1055.3H458V1053.2H460V1058.5H462V1053.6H464V1060.6H466V1066.6H468V1069.1H470V1074.4H472V1076.3H474V1075.1H476V1075.9H478V1076.7H480V1072.2H482V1073.2H484V1067.6H486V1064.7H488V1066.8H490V1071.0H492V1070.7H494V1074.1H496V1071.8H498V1077.0H500V1072.2H502V1071.3H504V1061.9H506V1054.9H508V1050.5H510V1051.3H512V1063.5H514V1063.1H516V1062.6H518V1061.2H520V1058.9H522V1053.4H524V1044.0H526V1044.0H528V1056.4H530V1065.2H532V1072.0H534V1076.6H536V1083.0H538V1081.3H540V1076.3H542V1070.2H544V1063.6H546V1058.5H548V1057.4H550V1061.8H552V1067.0H554V1089.0Z" fill="#fb8a66"/><text x="36.2" y="1049.6" font-size="24.2" textLength="81.0" lengthAdjust="spacingAndGlyphs">(0–267)</text><text x="549.0" y="1053.4" font-size="24.2" text-anchor="end" textLength="91.2" lengthAdjust="spacingAndGlyphs">HD2B-ZF</text><path d="M34,1150.7V1138.4H36V1137.9H38V1138.2H40V1138.1H42V1140.5H44V1140.0H46V1135.7H48V1127.2H50V1122.2H52V1124.0H54V1127.8H56V1137.5H58V1145.0H60V1146.7H62V1144.7H64V1145.3H66V1143.7H68V1146.7H70V1146.7H72V1140.8H74V1131.5H76V1129.5H78V1133.6H80V1138.7H82V1150.7H84V1137.3H86V1134.6H88V1133.5H90V1136.4H92V1142.5H94V1140.9H96V1140.8H98V1142.3H100V1139.0H102V1138.4H104V1133.0H106V1125.9H108V1124.6H110V1121.7H112V1128.4H114V1126.6H116V1137.1H118V1134.4H120V1141.0H122V1139.6H124V1142.7H126V1144.4H128V1143.9H130V1142.0H132V1134.4H134V1128.5H136V1117.9H138V1112.1H140V1117.6H142V1126.6H144V1132.9H146V1129.3H148V1127.5H150V1125.7H152V1130.7H154V1132.1H156V1136.7H158V1133.9H160V1136.5H162V1142.5H164V1141.6H166V1140.0H168V1132.9H170V1129.1H172V1126.9H174V1129.2H176V1137.0H178V1142.3H180V1144.2H182V1146.7H184V1141.6H186V1135.2H188V1124.7H190V1120.5H192V1122.6H194V1133.2H196V1143.5H198V1146.7H200V1146.7H202V1146.7H204V1146.7H206V1146.7H208V1142.8H210V1142.0H212V1136.4H214V1130.7H216V1129.1H218V1132.0H220V1139.4H222V1143.8H224V1144.8H226V1136.6H228V1135.7H230V1132.2H232V1129.6H234V1132.7H236V1138.0H238V1133.2H240V1130.8H242V1124.1H244V1125.9H246V1134.9H248V1145.2H250V1145.6H252V1146.0H254V1143.7H256V1141.8H258V1144.7H260V1141.2H262V1138.4H264V1127.2H266V1129.9H268V1128.9H270V1135.0H272V1131.7H274V1134.1H276V1127.5H278V1123.7H280V1126.1H282V1126.8H284V1127.0H286V1133.3H288V1137.9H290V1136.8H292V1142.4H294V1144.3H296V1143.4H298V1146.7H300V1145.4H302V1144.0H304V1146.6H306V1144.4H308V1140.3H310V1136.1H312V1134.3H314V1130.8H316V1129.6H318V1128.3H320V1127.2H322V1127.9H324V1132.3H326V1127.2H328V1129.5H330V1129.3H332V1135.0H334V1138.1H336V1140.0H338V1129.4H340V1124.0H342V1120.6H344V1123.1H346V1124.0H348V1134.7H350V1139.6H352V1134.9H354V1135.3H356V1132.3H358V1132.7H360V1129.8H362V1133.5H364V1139.8H366V1145.7H368V1146.7H370V1146.7H372V1146.7H374V1137.2H376V1126.5H378V1124.3H380V1124.7H382V1134.0H384V1131.9H386V1131.2H388V1126.4H390V1128.5H392V1133.0H394V1131.7H396V1141.1H398V1136.9H400V1131.5H402V1121.3H404V1111.9H406V1110.5H408V1118.4H410V1130.8H412V1128.9H414V1130.5H416V1115.5H418V1110.6H420V1113.4H422V1123.4H424V1128.7H426V1138.7H428V1139.3H430V1146.7H432V1144.0H434V1143.8H436V1129.8H438V1125.1H440V1124.0H442V1130.7H444V1137.5H446V1139.9H448V1139.1H450V1130.7H452V1129.8H454V1123.2H456V1120.7H458V1122.0H460V1118.1H462V1120.1H464V1122.4H466V1118.6H468V1121.4H470V1124.8H472V1132.6H474V1138.4H476V1146.7H478V1139.2H480V1135.1H482V1133.6H484V1132.8H486V1130.3H488V1132.4H490V1133.5H492V1132.5H494V1135.6H496V1139.4H498V1137.5H500V1140.3H502V1135.1H504V1133.0H506V1137.0H508V1129.1H510V1122.9H512V1119.7H514V1119.2H516V1126.7H518V1133.3H520V1136.4H522V1139.2H524V1132.1H526V1132.5H528V1135.4H530V1120.8H532V1118.4H534V1137.4H536V1134.2H538V1136.9H540V1136.3H542V1132.2H544V1131.1H546V1128.4H548V1128.4H550V1125.7H552V1123.6H554V1150.7Z" fill="#fb8a66"/><text x="36.2" y="1111.3" font-size="24.2" textLength="81.0" lengthAdjust="spacingAndGlyphs">(0–267)</text><text x="549.0" y="1115.1" font-size="24.2" text-anchor="end" textLength="91.2" lengthAdjust="spacingAndGlyphs">HD2C-ZF</text><text transform="translate(21.5,227.0) rotate(-90)" x="0" y="0" font-size="24" text-anchor="middle" textLength="82.0" lengthAdjust="spacingAndGlyphs">H3K9ac</text><text transform="translate(21.5,514.0) rotate(-90)" x="0" y="0" font-size="24" text-anchor="middle" textLength="93.5" lengthAdjust="spacingAndGlyphs">H3K27ac</text><text transform="translate(21.5,770.0) rotate(-90)" x="0" y="0" font-size="24" text-anchor="middle" textLength="92.0" lengthAdjust="spacingAndGlyphs">H4K16ac</text><text transform="translate(21.5,1028.0) rotate(-90)" x="0" y="0" font-size="24" text-anchor="middle" textLength="26.5" lengthAdjust="spacingAndGlyphs">H3</text><line x1="137" y1="1171.8" x2="545" y2="1171.8" stroke="#0000b0" stroke-width="2.6"/><rect x="137.0" y="1164.8" width="5.6" height="14" fill="#0000b0"/><rect x="152.6" y="1164.8" width="10.9" height="14" fill="#0000b0"/><rect x="525.6" y="1164.8" width="19.9" height="14" fill="#0000b0"/><rect x="231.0" y="1159.3" width="18.0" height="25" fill="#0000b0"/><rect x="261.0" y="1159.3" width="12.4" height="25" fill="#0000b0"/><rect x="292.7" y="1159.3" width="58.3" height="25" fill="#0000b0"/><rect x="359.6" y="1159.3" width="10.4" height="25" fill="#0000b0"/><rect x="380.0" y="1159.3" width="19.5" height="25" fill="#0000b0"/><rect x="417.0" y="1159.3" width="16.7" height="25" fill="#0000b0"/><rect x="446.0" y="1159.3" width="36.0" height="25" fill="#0000b0"/><rect x="491.3" y="1159.3" width="34.3" height="25" fill="#0000b0"/><path d="M170.0,1167.8 L173.5,1171.8 L170.0,1175.8" fill="none" stroke="#1a3cff" stroke-width="2"/><path d="M189.5,1167.8 L193.0,1171.8 L189.5,1175.8" fill="none" stroke="#1a3cff" stroke-width="2"/><path d="M209.5,1167.8 L213.0,1171.8 L209.5,1175.8" fill="none" stroke="#1a3cff" stroke-width="2"/><path d="M256.0,1167.8 L259.5,1171.8 L256.0,1175.8" fill="none" stroke="#1a3cff" stroke-width="2"/><path d="M279.0,1167.8 L282.5,1171.8 L279.0,1175.8" fill="none" stroke="#1a3cff" stroke-width="2"/><path d="M406.0,1167.8 L409.5,1171.8 L406.0,1175.8" fill="none" stroke="#1a3cff" stroke-width="2"/><path d="M440.0,1167.8 L443.5,1171.8 L440.0,1175.8" fill="none" stroke="#1a3cff" stroke-width="2"/><path d="M309.0,1167.8 L312.5,1171.8 L309.0,1175.8" fill="none" stroke="#fff" stroke-width="2"/><path d="M328.0,1167.8 L331.5,1171.8 L328.0,1175.8" fill="none" stroke="#fff" stroke-width="2"/><path d="M463.0,1167.8 L466.5,1171.8 L463.0,1175.8" fill="none" stroke="#fff" stroke-width="2"/><path d="M508.0,1167.8 L511.5,1171.8 L508.0,1175.8" fill="none" stroke="#fff" stroke-width="2"/><path d="M527.0,1167.8 L530.5,1171.8 L527.0,1175.8" fill="none" stroke="#fff" stroke-width="2"/><text x="274.0" y="1208.3" font-size="24.2" textLength="197.0" lengthAdjust="spacingAndGlyphs">AT4G25530.1 <tspan font-style="italic">FWA</tspan></text><rect x="32.5" y="1246" width="523" height="817" fill="none" stroke="#bdbdbd" stroke-width="3"/><path d="M80,1325.0V1324.0H84V1322.7H88V1321.2H92V1319.7H96V1316.2H100V1312.7H104V1306.7H108V1296.7H112V1280.7H116V1269.7H120V1266.7H124V1269.2H128V1279.2H132V1289.7H136V1300.7H140V1308.2H144V1313.7H148V1316.2H152V1314.2H156V1314.0H160V1320.0H164V1325.0Z" fill="#654a3e"/><rect x="34.5" y="1323.5" width="517" height="3.5" fill="#654a3e"/><text x="33.0" y="1265.8" font-size="24.2" textLength="112.0" lengthAdjust="spacingAndGlyphs">(0–26,922)</text><text x="546.7" y="1276.0" font-size="24.2" text-anchor="end" textLength="196.2" lengthAdjust="spacingAndGlyphs">FLAG-ZF ChIP–seq</text><path d="M34,1404.4V1398.3H38V1398.5H42V1397.0H46V1396.7H50V1396.8H54V1397.8H58V1397.8H62V1398.0H66V1397.5H70V1397.9H74V1397.4H78V1396.7H82V1396.6H86V1396.5H90V1396.8H94V1396.9H98V1391.5H102V1387.7H106V1386.8H110V1385.1H114V1380.2H118V1375.3H122V1367.5H126V1363.3H130V1354.8H134V1343.1H138V1338.4H142V1342.4H146V1348.3H150V1351.6H154V1357.1H158V1366.1H162V1375.9H166V1377.3H170V1378.3H174V1377.7H178V1378.2H182V1379.9H186V1382.5H190V1389.4H194V1394.4H198V1398.3H202V1400.4H206V1399.4H210V1398.6H214V1397.2H218V1398.1H222V1397.4H226V1398.3H230V1398.4H234V1399.2H238V1399.3H242V1398.6H246V1399.3H250V1399.3H254V1399.1H258V1399.1H262V1398.8H266V1398.5H270V1397.9H274V1397.8H278V1398.1H282V1398.2H286V1398.6H290V1399.9H294V1398.9H298V1398.6H302V1398.4H306V1398.5H310V1398.0H314V1398.4H318V1398.8H322V1399.1H326V1398.9H330V1399.3H334V1399.4H338V1398.9H342V1398.6H346V1398.0H350V1397.2H354V1397.5H358V1397.3H362V1396.5H366V1396.5H370V1396.0H374V1396.4H378V1396.5H382V1397.2H386V1397.2H390V1398.7H394V1399.1H398V1399.2H402V1398.8H406V1398.5H410V1398.1H414V1397.4H418V1397.5H422V1397.9H426V1397.8H430V1398.6H434V1399.0H438V1399.0H442V1398.8H446V1399.1H450V1398.9H454V1398.4H458V1398.3H462V1398.4H466V1398.6H470V1398.4H474V1398.8H478V1398.6H482V1398.3H486V1398.2H490V1398.8H494V1398.7H498V1399.6H502V1399.1H506V1398.7H510V1398.5H514V1397.7H518V1398.0H522V1397.4H526V1397.7H530V1398.0H534V1397.7H538V1397.8H542V1397.5H546V1398.2H550V1398.4H554V1404.4Z" fill="#50a2a6"/><text x="33.0" y="1344.9" font-size="24.2" textLength="82.0" lengthAdjust="spacingAndGlyphs">(0–645)</text><text x="539.6" y="1354.4" font-size="24.2" text-anchor="end" textLength="35.6" lengthAdjust="spacingAndGlyphs" font-style="italic">fwa</text><path d="M34,1485.4V1477.9H38V1477.8H42V1479.5H46V1480.2H50V1480.0H54V1479.8H58V1480.3H62V1478.8H66V1479.0H70V1477.5H74V1476.6H78V1476.2H82V1477.1H86V1477.0H90V1476.1H94V1474.3H98V1472.8H102V1471.9H106V1470.5H110V1468.6H114V1467.7H118V1466.6H122V1465.4H126V1465.1H130V1464.5H134V1463.2H138V1460.9H142V1457.6H146V1457.0H150V1458.4H154V1460.2H158V1461.6H162V1462.8H166V1463.8H170V1465.2H174V1468.6H178V1470.6H182V1470.7H186V1470.9H190V1472.1H194V1474.0H198V1475.4H202V1478.8H206V1479.0H210V1479.3H214V1480.3H218V1480.2H222V1480.4H226V1479.9H230V1480.1H234V1479.8H238V1479.2H242V1478.3H246V1478.0H250V1477.8H254V1477.2H258V1477.9H262V1477.2H266V1477.7H270V1477.7H274V1478.0H278V1477.6H282V1477.4H286V1476.7H290V1477.3H294V1476.9H298V1476.8H302V1477.4H306V1477.3H310V1477.3H314V1477.0H318V1476.9H322V1477.1H326V1477.1H330V1477.6H334V1478.4H338V1479.4H342V1480.2H346V1479.8H350V1479.3H354V1476.9H358V1477.0H362V1476.0H366V1477.1H370V1478.7H374V1479.1H378V1479.5H382V1478.9H386V1478.1H390V1477.6H394V1475.9H398V1475.7H402V1476.3H406V1476.1H410V1476.4H414V1476.8H418V1477.4H422V1477.3H426V1477.5H430V1477.2H434V1477.2H438V1476.8H442V1476.8H446V1477.5H450V1478.8H454V1479.0H458V1480.6H462V1481.4H466V1482.1H470V1482.7H474V1481.3H478V1481.0H482V1480.4H486V1480.8H490V1479.8H494V1478.8H498V1479.2H502V1478.6H506V1477.9H510V1478.4H514V1478.4H518V1477.8H522V1478.7H526V1477.3H530V1477.7H534V1477.8H538V1478.4H542V1478.9H546V1479.4H550V1478.8H554V1485.4Z" fill="#50a2a6"/><text x="33.0" y="1425.9" font-size="24.2" textLength="82.0" lengthAdjust="spacingAndGlyphs">(0–645)</text><text x="542.0" y="1431.9" font-size="24.2" text-anchor="end" textLength="94.0" lengthAdjust="spacingAndGlyphs">HDA6-ZF</text><path d="M34,1567.0V1559.7H38V1560.3H42V1561.2H46V1561.8H50V1562.2H54V1561.5H58V1560.4H62V1559.4H66V1558.5H70V1558.2H74V1558.5H78V1558.5H82V1559.3H86V1559.8H90V1559.3H94V1560.2H98V1555.3H102V1551.2H106V1549.6H110V1547.6H114V1543.0H118V1537.8H122V1533.8H126V1528.5H130V1522.6H134V1520.2H138V1518.9H142V1514.4H146V1510.0H150V1509.5H154V1513.5H158V1521.5H162V1528.3H166V1531.1H170V1534.2H174V1535.2H178V1536.0H182V1537.9H186V1540.2H190V1541.7H194V1543.1H198V1545.6H202V1547.9H206V1549.3H210V1551.1H214V1553.5H218V1555.8H222V1556.6H226V1556.7H230V1557.2H234V1557.1H238V1557.2H242V1557.4H246V1557.3H250V1557.1H254V1556.8H258V1556.8H262V1556.5H266V1556.7H270V1556.8H274V1556.7H278V1556.3H282V1555.6H286V1555.0H290V1554.7H294V1550.5H298V1550.8H302V1551.8H306V1552.6H310V1554.1H314V1559.5H318V1560.7H322V1560.7H326V1561.6H330V1561.5H334V1561.2H338V1561.1H342V1560.3H346V1560.5H350V1561.3H354V1562.0H358V1563.1H362V1563.1H366V1562.7H370V1561.7H374V1560.1H378V1558.6H382V1558.7H386V1559.3H390V1560.3H394V1560.5H398V1561.1H402V1561.3H406V1561.3H410V1560.6H414V1561.0H418V1560.9H422V1559.7H426V1559.0H430V1558.6H434V1559.6H438V1561.3H442V1561.8H446V1563.3H450V1562.9H454V1562.7H458V1560.9H462V1559.8H466V1559.2H470V1559.5H474V1559.3H478V1560.3H482V1560.1H486V1560.3H490V1560.2H494V1559.9H498V1559.8H502V1559.8H506V1560.5H510V1560.7H514V1560.8H518V1561.8H522V1562.3H526V1562.3H530V1562.5H534V1562.1H538V1561.8H542V1560.2H546V1559.7H550V1559.4H554V1567.0Z" fill="#50a2a6"/><text x="33.0" y="1507.5" font-size="24.2" textLength="82.0" lengthAdjust="spacingAndGlyphs">(0–645)</text><text x="541.4" y="1513.5" font-size="24.2" text-anchor="end" textLength="81.0" lengthAdjust="spacingAndGlyphs">MSI1-ZF</text><path d="M34,1647.2V1630.5H38V1629.6H42V1627.8H46V1628.5H50V1629.1H54V1630.3H58V1632.4H62V1631.2H66V1632.9H70V1631.3H74V1631.0H78V1628.0H82V1628.8H86V1625.7H90V1626.0H94V1628.1H98V1626.2H102V1622.2H106V1618.4H110V1614.9H114V1611.6H118V1608.9H122V1605.8H126V1597.6H130V1590.0H134V1584.7H138V1583.0H142V1581.7H146V1581.2H150V1582.3H154V1586.8H158V1591.7H162V1593.5H166V1593.9H170V1596.5H174V1601.0H178V1603.8H182V1602.5H186V1602.5H190V1605.9H194V1610.7H198V1613.1H202V1614.0H206V1614.9H210V1614.2H214V1613.3H218V1613.8H222V1616.5H226V1616.8H230V1618.6H234V1619.9H238V1620.3H242V1624.6H246V1623.4H250V1623.7H254V1621.8H258V1619.8H262V1619.6H266V1616.6H270V1621.3H274V1621.4H278V1621.8H282V1629.4H286V1630.8H290V1632.5H294V1632.0H298V1628.8H302V1624.5H306V1623.9H310V1622.9H314V1621.0H318V1619.4H322V1616.9H326V1611.6H330V1613.4H334V1613.4H338V1614.5H342V1610.1H346V1611.3H350V1605.6H354V1607.6H358V1606.7H362V1604.1H366V1609.0H370V1612.9H374V1613.8H378V1614.6H382V1615.9H386V1620.1H390V1622.5H394V1617.8H398V1619.0H402V1616.1H406V1614.6H410V1610.3H414V1607.4H418V1605.9H422V1604.0H426V1600.1H430V1599.0H434V1602.1H438V1599.9H442V1598.2H446V1595.2H450V1599.7H454V1600.3H458V1604.0H462V1606.3H466V1604.6H470V1605.1H474V1599.7H478V1601.3H482V1602.3H486V1605.6H490V1603.9H494V1606.7H498V1604.9H502V1601.8H506V1597.9H510V1599.4H514V1603.5H518V1603.4H522V1604.5H526V1609.8H530V1614.3H534V1616.5H538V1616.1H542V1609.1H546V1612.7H550V1609.3H554V1647.2Z" fill="#f9ac35"/><text x="33.0" y="1587.7" font-size="24.2" textLength="83.5" lengthAdjust="spacingAndGlyphs">(0–308)</text><text x="539.6" y="1597.2" font-size="24.2" text-anchor="end" textLength="35.6" lengthAdjust="spacingAndGlyphs" font-style="italic">fwa</text><path d="M34,1727.6V1706.6H38V1703.5H42V1702.8H46V1704.2H50V1704.0H54V1703.8H58V1704.2H62V1704.2H66V1704.2H70V1705.2H74V1708.4H78V1708.3H82V1707.7H86V1704.5H90V1699.9H94V1701.9H98V1701.8H102V1701.3H106V1700.1H110V1701.6H114V1701.4H118V1699.4H122V1693.8H126V1692.2H130V1690.5H134V1692.5H138V1695.5H142V1700.1H146V1705.4H150V1706.9H154V1708.6H158V1709.0H162V1710.1H166V1711.8H170V1709.1H174V1710.7H178V1707.4H182V1707.4H186V1700.9H190V1698.1H194V1698.5H198V1699.7H202V1699.3H206V1699.0H210V1699.9H214V1695.1H218V1692.6H222V1690.7H226V1690.1H230V1687.2H234V1688.1H238V1691.2H242V1696.4H246V1696.1H250V1697.8H254V1692.6H258V1692.1H262V1688.2H266V1692.8H270V1693.5H274V1690.5H278V1687.2H282V1690.2H286V1688.7H290V1690.8H294V1691.5H298V1693.6H302V1690.2H306V1685.9H310V1688.1H314V1690.4H318V1691.0H322V1692.9H326V1691.5H330V1689.3H334V1687.2H338V1682.2H342V1677.9H346V1676.4H350V1671.8H354V1671.2H358V1675.8H362V1678.3H366V1681.4H370V1684.0H374V1682.9H378V1680.2H382V1680.9H386V1678.4H390V1679.4H394V1683.3H398V1682.3H402V1683.8H406V1686.4H410V1685.3H414V1686.4H418V1684.0H422V1681.4H426V1679.8H430V1673.8H434V1674.9H438V1672.8H442V1672.7H446V1675.0H450V1671.3H454V1672.5H458V1675.9H462V1671.8H466V1681.1H470V1680.4H474V1674.9H478V1671.2H482V1671.6H486V1670.1H490V1661.6H494V1661.6H498V1662.0H502V1661.6H506V1661.6H510V1662.1H514V1668.5H518V1679.2H522V1682.2H526V1679.1H530V1676.4H534V1672.5H538V1671.6H542V1666.6H546V1664.7H550V1669.0H554V1727.6Z" fill="#f9ac35"/><text x="33.0" y="1668.1" font-size="24.2" textLength="83.5" lengthAdjust="spacingAndGlyphs">(0–308)</text><text x="542.0" y="1674.1" font-size="24.2" text-anchor="end" textLength="94.0" lengthAdjust="spacingAndGlyphs">HDA6-ZF</text><path d="M34,1809.2V1796.2H38V1797.4H42V1799.3H46V1799.1H50V1799.4H54V1799.4H58V1797.9H62V1797.9H66V1797.1H70V1796.7H74V1795.5H78V1794.1H82V1792.5H86V1792.8H90V1795.0H94V1794.3H98V1795.9H102V1789.9H106V1787.9H110V1785.3H114V1782.3H118V1779.5H122V1776.0H126V1772.4H130V1768.6H134V1767.2H138V1764.0H142V1756.3H146V1751.2H150V1752.2H154V1753.5H158V1756.8H162V1760.0H166V1763.5H170V1767.7H174V1769.5H178V1771.9H182V1775.2H186V1777.3H190V1777.6H194V1776.8H198V1777.1H202V1779.3H206V1780.3H210V1779.4H214V1778.7H218V1777.6H222V1776.8H226V1775.8H230V1775.5H234V1776.3H238V1776.6H242V1774.2H246V1773.2H250V1772.1H254V1772.6H258V1772.9H262V1774.7H266V1775.8H270V1775.2H274V1774.9H278V1776.6H282V1775.9H286V1772.7H290V1765.7H294V1760.8H298V1759.5H302V1758.5H306V1758.9H310V1759.2H314V1762.1H318V1760.6H322V1756.7H326V1757.2H330V1760.7H334V1759.9H338V1761.9H342V1766.4H346V1768.6H350V1770.9H354V1772.1H358V1773.5H362V1772.8H366V1772.8H370V1773.6H374V1774.0H378V1773.3H382V1773.7H386V1773.1H390V1774.0H394V1774.8H398V1772.9H402V1769.5H406V1768.1H410V1767.4H414V1766.2H418V1765.1H422V1761.7H426V1759.7H430V1759.4H434V1761.0H438V1762.6H442V1766.2H446V1766.5H450V1767.8H454V1769.4H458V1768.6H462V1769.4H466V1769.1H470V1768.8H474V1784.8H478V1782.4H482V1781.5H486V1779.4H490V1780.6H494V1783.7H498V1785.8H502V1788.9H506V1787.5H510V1784.4H514V1784.2H518V1780.8H522V1779.2H526V1778.3H530V1780.6H534V1779.1H538V1779.9H542V1780.9H546V1781.3H550V1777.4H554V1809.2Z" fill="#f9ac35"/><text x="33.0" y="1749.7" font-size="24.2" textLength="83.5" lengthAdjust="spacingAndGlyphs">(0–308)</text><text x="541.4" y="1755.7" font-size="24.2" text-anchor="end" textLength="81.0" lengthAdjust="spacingAndGlyphs">MSI1-ZF</text><path d="M34,1889.6V1859.7H38V1858.7H42V1858.5H46V1861.5H50V1860.4H54V1859.8H58V1857.9H62V1858.4H66V1858.7H70V1863.1H74V1863.9H78V1866.7H82V1866.8H86V1866.8H90V1865.7H94V1864.3H98V1860.2H102V1861.9H106V1864.2H110V1866.2H114V1866.1H118V1870.0H122V1872.0H126V1872.8H130V1870.1H134V1870.5H138V1873.1H142V1867.5H146V1869.1H150V1865.7H154V1861.8H158V1862.4H162V1860.0H166V1860.4H170V1864.7H174V1866.9H178V1869.5H182V1867.6H186V1866.0H190V1864.1H194V1856.3H198V1850.0H202V1849.2H206V1850.7H210V1854.8H214V1852.1H218V1851.7H222V1854.3H226V1851.8H230V1854.1H234V1853.4H238V1852.8H242V1852.7H246V1850.8H250V1855.0H254V1850.5H258V1843.2H262V1845.1H266V1843.4H270V1840.3H274V1843.1H278V1845.7H282V1845.8H286V1849.3H290V1850.7H294V1849.1H298V1847.6H302V1855.1H306V1846.5H310V1850.7H314V1849.1H318V1845.4H322V1842.1H326V1841.5H330V1838.5H334V1835.2H338V1836.7H342V1840.1H346V1845.2H350V1849.5H354V1848.5H358V1849.8H362V1845.4H366V1853.4H370V1855.5H374V1851.8H378V1847.8H382V1846.1H386V1845.4H390V1849.5H394V1849.9H398V1848.1H402V1847.6H406V1841.1H410V1838.3H414V1833.9H418V1835.4H422V1841.0H426V1847.1H430V1850.2H434V1855.2H438V1852.1H442V1852.3H446V1849.0H450V1844.8H454V1846.4H458V1846.1H462V1845.0H466V1841.1H470V1841.1H474V1842.1H478V1836.3H482V1835.4H486V1828.6H490V1828.9H494V1827.4H498V1830.7H502V1834.5H506V1842.7H510V1843.1H514V1840.7H518V1836.2H522V1832.8H526V1830.2H530V1826.2H534V1825.3H538V1830.5H542V1830.2H546V1835.5H550V1843.3H554V1889.6Z" fill="#f75334"/><text x="33.0" y="1830.1" font-size="24.2" textLength="76.3" lengthAdjust="spacingAndGlyphs">(0–251)</text><text x="539.6" y="1839.6" font-size="24.2" text-anchor="end" textLength="35.6" lengthAdjust="spacingAndGlyphs" font-style="italic">fwa</text><path d="M34,1969.0V1939.1H38V1940.7H42V1940.2H46V1942.2H50V1944.1H54V1948.3H58V1947.4H62V1949.4H66V1947.9H70V1946.0H74V1941.5H78V1940.1H82V1944.5H86V1943.8H90V1942.5H94V1941.0H98V1935.1H102V1932.8H106V1934.3H110V1935.0H114V1942.0H118V1945.4H122V1946.9H126V1944.7H130V1941.7H134V1937.9H138V1932.4H142V1931.1H146V1927.1H150V1927.3H154V1930.0H158V1929.4H162V1931.7H166V1935.7H170V1934.0H174V1934.0H178V1931.8H182V1932.6H186V1934.0H190V1934.8H194V1938.2H198V1941.4H202V1938.5H206V1933.6H210V1929.1H214V1924.8H218V1925.7H222V1926.8H226V1923.1H230V1919.2H234V1918.9H238V1924.9H242V1928.7H246V1932.6H250V1937.6H254V1939.2H258V1937.8H262V1940.0H266V1937.0H270V1939.0H274V1947.5H278V1950.0H282V1946.9H286V1944.3H290V1939.9H294V1934.2H298V1930.6H302V1928.8H306V1923.2H310V1928.5H314V1931.1H318V1937.9H322V1931.8H326V1933.1H330V1932.3H334V1925.4H338V1916.0H342V1914.9H346V1915.7H350V1918.8H354V1919.1H358V1922.8H362V1931.7H366V1929.1H370V1924.5H374V1922.0H378V1920.9H382V1911.5H386V1911.7H390V1906.6H394V1906.8H398V1903.0H402V1903.4H406V1916.5H410V1920.2H414V1919.9H418V1922.7H422V1918.3H426V1923.0H430V1919.6H434V1918.6H438V1918.1H442V1913.6H446V1917.2H450V1916.2H454V1924.0H458V1925.8H462V1928.6H466V1920.2H470V1912.4H474V1907.4H478V1906.7H482V1910.8H486V1916.1H490V1920.2H494V1924.4H498V1932.1H502V1929.0H506V1927.3H510V1931.5H514V1928.7H518V1924.5H522V1917.2H526V1914.8H530V1913.0H534V1917.3H538V1922.3H542V1929.0H546V1925.7H550V1926.7H554V1969.0Z" fill="#f75334"/><text x="33.0" y="1909.5" font-size="24.2" textLength="76.3" lengthAdjust="spacingAndGlyphs">(0–251)</text><text x="542.0" y="1915.5" font-size="24.2" text-anchor="end" textLength="94.0" lengthAdjust="spacingAndGlyphs">HDA6-ZF</text><path d="M34,2051.5V2026.7H38V2027.0H42V2026.4H46V2023.0H50V2021.6H54V2019.3H58V2017.0H62V2019.0H66V2020.4H70V2019.5H74V2019.7H78V2020.2H82V2022.1H86V2022.1H90V2021.7H94V2017.5H98V2017.8H102V2015.6H106V2016.9H110V2018.5H114V2019.0H118V2019.3H122V2022.2H126V2022.0H130V2020.4H134V2014.6H138V2014.8H142V2018.6H146V2022.6H150V2027.8H154V2031.8H158V2040.1H162V2035.7H166V2032.2H170V2030.1H174V2030.6H178V2023.7H182V2023.3H186V2025.2H190V2026.7H194V2024.1H198V2024.2H202V2024.5H206V2021.6H210V2015.4H214V2015.9H218V2017.1H222V2012.8H226V2010.1H230V2011.6H234V2010.2H238V2010.2H242V2006.3H246V2007.9H250V2003.2H254V2005.4H258V2006.0H262V2006.4H266V2009.7H270V1999.0H274V1999.2H278V1995.1H282V1997.8H286V1996.7H290V1991.9H294V1988.7H298V1987.7H302V1985.5H306V1985.5H310V1987.8H314V1991.8H318V1992.4H322V1995.7H326V1998.6H330V1994.6H334V1997.1H338V1989.8H342V1992.1H346V1991.6H350V1993.7H354V1998.0H358V2000.5H362V2005.5H366V2010.2H370V2007.1H374V2010.3H378V2012.3H382V2010.0H386V2009.7H390V2008.6H394V2009.5H398V2011.2H402V2012.6H406V2012.5H410V2016.5H414V2011.9H418V2008.6H422V2006.0H426V2000.7H430V1999.2H434V1998.4H438V2001.0H442V2007.1H446V2008.6H450V2006.9H454V2009.3H458V2005.2H462V2008.1H466V2011.0H470V2013.0H474V2018.4H478V2020.7H482V2022.0H486V2023.1H490V2019.8H494V2023.2H498V2023.6H502V2019.9H506V2015.8H510V2007.4H514V2000.8H518V1999.2H522V1997.1H526V1998.0H530V1998.2H534V1997.5H538V2004.4H542V2004.8H546V2010.9H550V2013.1H554V2051.5Z" fill="#f75334"/><text x="33.0" y="1992.0" font-size="24.2" textLength="76.3" lengthAdjust="spacingAndGlyphs">(0–251)</text><text x="541.4" y="1998.0" font-size="24.2" text-anchor="end" textLength="81.0" lengthAdjust="spacingAndGlyphs">MSI1-ZF</text><text transform="translate(21.5,1447.0) rotate(-90)" x="0" y="0" font-size="24" text-anchor="middle" textLength="82.0" lengthAdjust="spacingAndGlyphs">H3K9ac</text><text transform="translate(21.5,1689.7) rotate(-90)" x="0" y="0" font-size="24" text-anchor="middle" textLength="91.4" lengthAdjust="spacingAndGlyphs">H3K14ac</text><text transform="translate(21.5,1925.0) rotate(-90)" x="0" y="0" font-size="24" text-anchor="middle" textLength="27.0" lengthAdjust="spacingAndGlyphs">H3</text><line x1="126" y1="2082.6" x2="534" y2="2082.6" stroke="#0000b0" stroke-width="2.6"/><rect x="126.0" y="2075.6" width="5.6" height="14" fill="#0000b0"/><rect x="141.6" y="2075.6" width="10.9" height="14" fill="#0000b0"/><rect x="514.6" y="2075.6" width="19.9" height="14" fill="#0000b0"/><rect x="220.0" y="2070.1" width="18.0" height="25" fill="#0000b0"/><rect x="250.0" y="2070.1" width="12.4" height="25" fill="#0000b0"/><rect x="281.7" y="2070.1" width="58.3" height="25" fill="#0000b0"/><rect x="348.6" y="2070.1" width="10.4" height="25" fill="#0000b0"/><rect x="369.0" y="2070.1" width="19.5" height="25" fill="#0000b0"/><rect x="406.0" y="2070.1" width="16.7" height="25" fill="#0000b0"/><rect x="435.0" y="2070.1" width="36.0" height="25" fill="#0000b0"/><rect x="480.3" y="2070.1" width="34.3" height="25" fill="#0000b0"/><path d="M178.6,2078.6 L182.1,2082.6 L178.6,2086.6" fill="none" stroke="#1a3cff" stroke-width="2"/><path d="M334.4,2078.6 L337.9,2082.6 L334.4,2086.6" fill="none" stroke="#fff" stroke-width="2"/><text x="235.0" y="2126.0" font-size="24.2" textLength="197.0" lengthAdjust="spacingAndGlyphs">AT4G25530.1 <tspan font-style="italic">FWA</tspan></text></svg></body></html>
